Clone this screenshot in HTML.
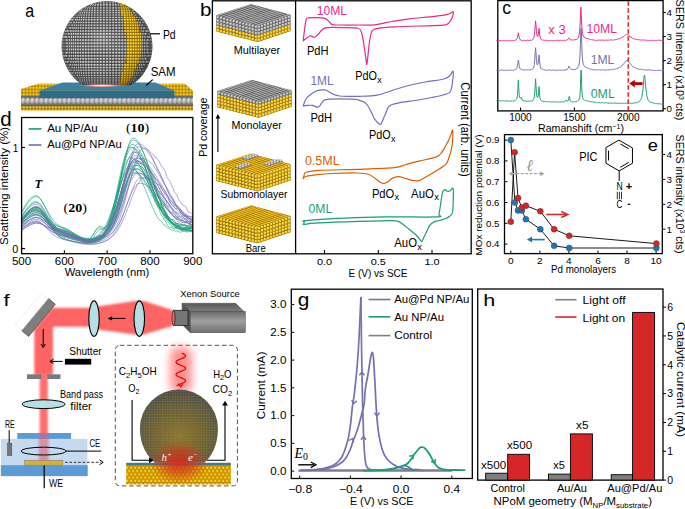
<!DOCTYPE html><html><head><meta charset="utf-8"><style>
html,body{margin:0;padding:0;background:#fff;}
svg{display:block;}
</style></head><body>
<svg width="685" height="509" viewBox="0 0 685 509">
<defs>
<radialGradient id="sphG" cx="0.42" cy="0.38" r="0.65">
<stop offset="0" stop-color="#b0b0b0"/><stop offset="0.6" stop-color="#8a8a8a"/><stop offset="1" stop-color="#5a5a5a"/></radialGradient>
<radialGradient id="atomGr" cx="0.42" cy="0.35" r="0.62"><stop offset="0" stop-color="#e2e2e2"/><stop offset="0.6" stop-color="#b0b0b0"/><stop offset="1" stop-color="#7a7a7a"/></radialGradient>
<radialGradient id="atomYr" cx="0.4" cy="0.35" r="0.6"><stop offset="0" stop-color="#fff070"/><stop offset="1" stop-color="#e0a800"/></radialGradient>
<pattern id="atomG" width="3.3" height="3.3" patternUnits="userSpaceOnUse">
<rect width="3.3" height="3.3" fill="#555"/><circle cx="1.65" cy="1.65" r="1.5" fill="url(#atomGr)"/></pattern>
<pattern id="atomY" width="3.2" height="3.2" patternUnits="userSpaceOnUse">
<rect width="3.2" height="3.2" fill="#8a6a00"/><circle cx="1.6" cy="1.6" r="1.45" fill="url(#atomYr)"/></pattern>
<radialGradient id="shade" cx="0.45" cy="0.4" r="0.62">
<stop offset="0" stop-color="#fff" stop-opacity="0.18"/><stop offset="0.55" stop-color="#000" stop-opacity="0"/><stop offset="0.85" stop-color="#000" stop-opacity="0.2"/><stop offset="1" stop-color="#000" stop-opacity="0.45"/></radialGradient>
<radialGradient id="glowPink" cx="0.5" cy="0.5" r="0.5">
<stop offset="0" stop-color="#ffffff"/><stop offset="0.4" stop-color="#ffb0b0"/><stop offset="1" stop-color="#e06060" stop-opacity="0"/></radialGradient>
<filter id="blur2" x="-50%" y="-50%" width="200%" height="200%"><feGaussianBlur stdDeviation="2"/></filter>
<filter id="blur1" x="-50%" y="-50%" width="200%" height="200%"><feGaussianBlur stdDeviation="1"/></filter>
<filter id="blur4" x="-50%" y="-50%" width="200%" height="200%"><feGaussianBlur stdDeviation="4"/></filter>
<marker id="ah" markerWidth="6" markerHeight="6" refX="5" refY="3" orient="auto" markerUnits="userSpaceOnUse"><path d="M0,0 L6,3 L0,6 Z" fill="#000"/></marker>
<marker id="ahO" markerWidth="7" markerHeight="7" refX="6" refY="3.5" orient="auto" markerUnits="userSpaceOnUse"><path d="M0,0.5 L6,3.5 L0,6.5" fill="none" stroke="#000" stroke-width="1"/></marker>
</defs>

<polygon points="21,89 38,83.8 185,83.8 193,91 193,96 21,96" fill="url(#atomY)"/>
<polygon points="21,89 38,83.8 185,83.8 193,91 193,96 21,96" fill="#f0b000" opacity="0.3"/>
<pattern id="bigG" x="21" y="96" width="4.6" height="10" patternUnits="userSpaceOnUse"><rect width="4.6" height="10" fill="#6a6a6a"/><ellipse cx="2.3" cy="5" rx="2.5" ry="3.6" fill="url(#atomGr)"/><circle cx="4.6" cy="8.6" r="0.8" fill="#c06060"/></pattern>
<rect x="21" y="96" width="172" height="10" fill="url(#bigG)"/>
<rect x="21" y="105.6" width="172" height="5" fill="url(#atomY)"/>
<rect x="21" y="105.3" width="172" height="1" fill="#5a4a20" opacity="0.6"/>
<polygon points="62.3,82.4 155,82.4 174.5,90.8 39.5,90.8" fill="#3f80a0"/>
<rect x="39.5" y="90.8" width="135" height="7.4" fill="#2f6b88"/>
<clipPath id="sphclip"><path d="M61.5,46.5 A45.5,45.5 0 0 1 152.5,46.5 C152.5,62 145,74 134,84.8 C120,86 95,86 80,84.8 C69,74 61.5,62 61.5,46.5 Z"/></clipPath>
<pattern id="atomS" x="0" y="0.5" width="3" height="3" patternUnits="userSpaceOnUse"><rect width="3" height="3" fill="#4c4c4c"/><circle cx="1.5" cy="1.35" r="1.42" fill="url(#atomGr)"/></pattern>
<pattern id="atomSY" x="0" y="0.5" width="3" height="3" patternUnits="userSpaceOnUse"><rect width="3" height="3" fill="#8a6800"/><circle cx="1.5" cy="1.35" r="1.45" fill="url(#atomYr)"/></pattern>
<g clip-path="url(#sphclip)">
<circle cx="107" cy="46.5" r="45.5" fill="#464646"/>
<g fill="url(#atomGr)"><ellipse cx="84.0" cy="85.7" rx="0.43" ry="0.66"/><ellipse cx="84.4" cy="85.7" rx="0.43" ry="0.66"/><ellipse cx="85.3" cy="85.7" rx="0.49" ry="0.66"/><ellipse cx="86.5" cy="85.7" rx="0.67" ry="0.66"/><ellipse cx="88.2" cy="85.7" rx="0.84" ry="0.66"/><ellipse cx="90.1" cy="85.7" rx="0.99" ry="0.66"/><ellipse cx="92.4" cy="85.7" rx="1.13" ry="0.66"/><ellipse cx="95.0" cy="85.7" rx="1.24" ry="0.66"/><ellipse cx="97.8" cy="85.7" rx="1.33" ry="0.66"/><ellipse cx="100.8" cy="85.7" rx="1.40" ry="0.66"/><ellipse cx="103.9" cy="85.7" rx="1.44" ry="0.66"/><ellipse cx="107.0" cy="85.7" rx="1.45" ry="0.66"/><ellipse cx="110.1" cy="85.7" rx="1.44" ry="0.66"/><ellipse cx="113.2" cy="85.7" rx="1.40" ry="0.66"/><ellipse cx="116.2" cy="85.7" rx="1.33" ry="0.66"/><ellipse cx="127.5" cy="85.7" rx="0.67" ry="0.66"/><ellipse cx="128.7" cy="85.7" rx="0.49" ry="0.66"/><ellipse cx="129.6" cy="85.7" rx="0.43" ry="0.66"/><ellipse cx="130.0" cy="85.7" rx="0.43" ry="0.66"/><ellipse cx="81.4" cy="84.0" rx="0.43" ry="0.74"/><ellipse cx="81.9" cy="84.0" rx="0.43" ry="0.74"/><ellipse cx="82.8" cy="84.0" rx="0.49" ry="0.74"/><ellipse cx="84.0" cy="84.0" rx="0.66" ry="0.74"/><ellipse cx="85.6" cy="84.0" rx="0.81" ry="0.74"/><ellipse cx="87.5" cy="84.0" rx="0.95" ry="0.74"/><ellipse cx="89.8" cy="84.0" rx="1.08" ry="0.74"/><ellipse cx="92.2" cy="84.0" rx="1.19" ry="0.74"/><ellipse cx="94.9" cy="84.0" rx="1.28" ry="0.74"/><ellipse cx="97.8" cy="84.0" rx="1.35" ry="0.74"/><ellipse cx="100.8" cy="84.0" rx="1.41" ry="0.74"/><ellipse cx="103.9" cy="84.0" rx="1.44" ry="0.74"/><ellipse cx="107.0" cy="84.0" rx="1.45" ry="0.74"/><ellipse cx="110.1" cy="84.0" rx="1.44" ry="0.74"/><ellipse cx="113.2" cy="84.0" rx="1.41" ry="0.74"/><ellipse cx="116.2" cy="84.0" rx="1.35" ry="0.74"/><ellipse cx="128.4" cy="84.0" rx="0.81" ry="0.74"/><ellipse cx="130.0" cy="84.0" rx="0.66" ry="0.74"/><ellipse cx="131.2" cy="84.0" rx="0.49" ry="0.74"/><ellipse cx="132.1" cy="84.0" rx="0.43" ry="0.74"/><ellipse cx="132.6" cy="84.0" rx="0.43" ry="0.74"/><ellipse cx="78.7" cy="82.1" rx="0.43" ry="0.81"/><ellipse cx="78.9" cy="82.1" rx="0.43" ry="0.81"/><ellipse cx="79.5" cy="82.1" rx="0.43" ry="0.81"/><ellipse cx="80.4" cy="82.1" rx="0.49" ry="0.81"/><ellipse cx="81.6" cy="82.1" rx="0.64" ry="0.81"/><ellipse cx="83.2" cy="82.1" rx="0.78" ry="0.81"/><ellipse cx="85.0" cy="82.1" rx="0.91" ry="0.81"/><ellipse cx="87.1" cy="82.1" rx="1.03" ry="0.81"/><ellipse cx="89.5" cy="82.1" rx="1.14" ry="0.81"/><ellipse cx="92.1" cy="82.1" rx="1.23" ry="0.81"/><ellipse cx="94.8" cy="82.1" rx="1.31" ry="0.81"/><ellipse cx="97.7" cy="82.1" rx="1.37" ry="0.81"/><ellipse cx="100.8" cy="82.1" rx="1.41" ry="0.81"/><ellipse cx="103.9" cy="82.1" rx="1.44" ry="0.81"/><ellipse cx="107.0" cy="82.1" rx="1.45" ry="0.81"/><ellipse cx="110.1" cy="82.1" rx="1.44" ry="0.81"/><ellipse cx="113.2" cy="82.1" rx="1.41" ry="0.81"/><ellipse cx="116.3" cy="82.1" rx="1.37" ry="0.81"/><ellipse cx="119.2" cy="82.1" rx="1.31" ry="0.81"/><ellipse cx="129.0" cy="82.1" rx="0.91" ry="0.81"/><ellipse cx="130.8" cy="82.1" rx="0.78" ry="0.81"/><ellipse cx="132.4" cy="82.1" rx="0.64" ry="0.81"/><ellipse cx="133.6" cy="82.1" rx="0.49" ry="0.81"/><ellipse cx="134.5" cy="82.1" rx="0.43" ry="0.81"/><ellipse cx="135.1" cy="82.1" rx="0.43" ry="0.81"/><ellipse cx="135.3" cy="82.1" rx="0.43" ry="0.81"/><ellipse cx="76.3" cy="80.1" rx="0.43" ry="0.88"/><ellipse cx="76.6" cy="80.1" rx="0.43" ry="0.88"/><ellipse cx="77.2" cy="80.1" rx="0.43" ry="0.88"/><ellipse cx="78.1" cy="80.1" rx="0.48" ry="0.88"/><ellipse cx="79.3" cy="80.1" rx="0.62" ry="0.88"/><ellipse cx="80.7" cy="80.1" rx="0.75" ry="0.88"/><ellipse cx="82.5" cy="80.1" rx="0.87" ry="0.88"/><ellipse cx="84.5" cy="80.1" rx="0.99" ry="0.88"/><ellipse cx="86.8" cy="80.1" rx="1.09" ry="0.88"/><ellipse cx="89.3" cy="80.1" rx="1.18" ry="0.88"/><ellipse cx="91.9" cy="80.1" rx="1.26" ry="0.88"/><ellipse cx="94.8" cy="80.1" rx="1.33" ry="0.88"/><ellipse cx="97.7" cy="80.1" rx="1.38" ry="0.88"/><ellipse cx="100.7" cy="80.1" rx="1.42" ry="0.88"/><ellipse cx="103.9" cy="80.1" rx="1.44" ry="0.88"/><ellipse cx="107.0" cy="80.1" rx="1.45" ry="0.88"/><ellipse cx="110.1" cy="80.1" rx="1.44" ry="0.88"/><ellipse cx="113.3" cy="80.1" rx="1.42" ry="0.88"/><ellipse cx="116.3" cy="80.1" rx="1.38" ry="0.88"/><ellipse cx="119.2" cy="80.1" rx="1.33" ry="0.88"/><ellipse cx="131.5" cy="80.1" rx="0.87" ry="0.88"/><ellipse cx="133.3" cy="80.1" rx="0.75" ry="0.88"/><ellipse cx="134.7" cy="80.1" rx="0.62" ry="0.88"/><ellipse cx="135.9" cy="80.1" rx="0.48" ry="0.88"/><ellipse cx="136.8" cy="80.1" rx="0.43" ry="0.88"/><ellipse cx="137.4" cy="80.1" rx="0.43" ry="0.88"/><ellipse cx="137.7" cy="80.1" rx="0.43" ry="0.88"/><ellipse cx="74.1" cy="77.9" rx="0.43" ry="0.94"/><ellipse cx="74.4" cy="77.9" rx="0.43" ry="0.94"/><ellipse cx="74.9" cy="77.9" rx="0.43" ry="0.94"/><ellipse cx="75.8" cy="77.9" rx="0.47" ry="0.94"/><ellipse cx="77.0" cy="77.9" rx="0.60" ry="0.94"/><ellipse cx="78.4" cy="77.9" rx="0.72" ry="0.94"/><ellipse cx="80.1" cy="77.9" rx="0.84" ry="0.94"/><ellipse cx="82.0" cy="77.9" rx="0.95" ry="0.94"/><ellipse cx="84.2" cy="77.9" rx="1.05" ry="0.94"/><ellipse cx="86.6" cy="77.9" rx="1.14" ry="0.94"/><ellipse cx="89.1" cy="77.9" rx="1.22" ry="0.94"/><ellipse cx="91.8" cy="77.9" rx="1.29" ry="0.94"/><ellipse cx="94.7" cy="77.9" rx="1.35" ry="0.94"/><ellipse cx="97.7" cy="77.9" rx="1.39" ry="0.94"/><ellipse cx="100.7" cy="77.9" rx="1.42" ry="0.94"/><ellipse cx="103.9" cy="77.9" rx="1.44" ry="0.94"/><ellipse cx="107.0" cy="77.9" rx="1.45" ry="0.94"/><ellipse cx="110.1" cy="77.9" rx="1.44" ry="0.94"/><ellipse cx="113.3" cy="77.9" rx="1.42" ry="0.94"/><ellipse cx="116.3" cy="77.9" rx="1.39" ry="0.94"/><ellipse cx="119.3" cy="77.9" rx="1.35" ry="0.94"/><ellipse cx="132.0" cy="77.9" rx="0.95" ry="0.94"/><ellipse cx="133.9" cy="77.9" rx="0.84" ry="0.94"/><ellipse cx="135.6" cy="77.9" rx="0.72" ry="0.94"/><ellipse cx="137.0" cy="77.9" rx="0.60" ry="0.94"/><ellipse cx="138.2" cy="77.9" rx="0.47" ry="0.94"/><ellipse cx="139.1" cy="77.9" rx="0.43" ry="0.94"/><ellipse cx="139.6" cy="77.9" rx="0.43" ry="0.94"/><ellipse cx="139.9" cy="77.9" rx="0.43" ry="0.94"/><ellipse cx="72.0" cy="75.5" rx="0.43" ry="1.00"/><ellipse cx="72.3" cy="75.5" rx="0.43" ry="1.00"/><ellipse cx="72.8" cy="75.5" rx="0.43" ry="1.00"/><ellipse cx="73.7" cy="75.5" rx="0.44" ry="1.00"/><ellipse cx="74.8" cy="75.5" rx="0.57" ry="1.00"/><ellipse cx="76.1" cy="75.5" rx="0.68" ry="1.00"/><ellipse cx="77.7" cy="75.5" rx="0.80" ry="1.00"/><ellipse cx="79.6" cy="75.5" rx="0.90" ry="1.00"/><ellipse cx="81.6" cy="75.5" rx="1.00" ry="1.00"/><ellipse cx="83.9" cy="75.5" rx="1.09" ry="1.00"/><ellipse cx="86.4" cy="75.5" rx="1.17" ry="1.00"/><ellipse cx="89.0" cy="75.5" rx="1.24" ry="1.00"/><ellipse cx="91.8" cy="75.5" rx="1.31" ry="1.00"/><ellipse cx="94.7" cy="75.5" rx="1.36" ry="1.00"/><ellipse cx="97.7" cy="75.5" rx="1.40" ry="1.00"/><ellipse cx="100.7" cy="75.5" rx="1.43" ry="1.00"/><ellipse cx="103.9" cy="75.5" rx="1.44" ry="1.00"/><ellipse cx="107.0" cy="75.5" rx="1.45" ry="1.00"/><ellipse cx="110.1" cy="75.5" rx="1.44" ry="1.00"/><ellipse cx="113.3" cy="75.5" rx="1.43" ry="1.00"/><ellipse cx="116.3" cy="75.5" rx="1.40" ry="1.00"/><ellipse cx="119.3" cy="75.5" rx="1.36" ry="1.00"/><ellipse cx="134.4" cy="75.5" rx="0.90" ry="1.00"/><ellipse cx="136.3" cy="75.5" rx="0.80" ry="1.00"/><ellipse cx="137.9" cy="75.5" rx="0.68" ry="1.00"/><ellipse cx="139.2" cy="75.5" rx="0.57" ry="1.00"/><ellipse cx="140.3" cy="75.5" rx="0.44" ry="1.00"/><ellipse cx="141.2" cy="75.5" rx="0.43" ry="1.00"/><ellipse cx="141.7" cy="75.5" rx="0.43" ry="1.00"/><ellipse cx="142.0" cy="75.5" rx="0.43" ry="1.00"/><ellipse cx="70.1" cy="73.1" rx="0.43" ry="1.06"/><ellipse cx="70.3" cy="73.1" rx="0.43" ry="1.06"/><ellipse cx="70.8" cy="73.1" rx="0.43" ry="1.06"/><ellipse cx="71.6" cy="73.1" rx="0.43" ry="1.06"/><ellipse cx="72.6" cy="73.1" rx="0.53" ry="1.06"/><ellipse cx="73.9" cy="73.1" rx="0.65" ry="1.06"/><ellipse cx="75.5" cy="73.1" rx="0.76" ry="1.06"/><ellipse cx="77.2" cy="73.1" rx="0.86" ry="1.06"/><ellipse cx="79.2" cy="73.1" rx="0.95" ry="1.06"/><ellipse cx="81.4" cy="73.1" rx="1.04" ry="1.06"/><ellipse cx="83.7" cy="73.1" rx="1.13" ry="1.06"/><ellipse cx="86.2" cy="73.1" rx="1.20" ry="1.06"/><ellipse cx="88.9" cy="73.1" rx="1.26" ry="1.06"/><ellipse cx="91.7" cy="73.1" rx="1.32" ry="1.06"/><ellipse cx="94.6" cy="73.1" rx="1.37" ry="1.06"/><ellipse cx="97.7" cy="73.1" rx="1.40" ry="1.06"/><ellipse cx="100.7" cy="73.1" rx="1.43" ry="1.06"/><ellipse cx="103.9" cy="73.1" rx="1.44" ry="1.06"/><ellipse cx="107.0" cy="73.1" rx="1.45" ry="1.06"/><ellipse cx="110.1" cy="73.1" rx="1.44" ry="1.06"/><ellipse cx="113.3" cy="73.1" rx="1.43" ry="1.06"/><ellipse cx="116.3" cy="73.1" rx="1.40" ry="1.06"/><ellipse cx="119.4" cy="73.1" rx="1.37" ry="1.06"/><ellipse cx="134.8" cy="73.1" rx="0.95" ry="1.06"/><ellipse cx="136.8" cy="73.1" rx="0.86" ry="1.06"/><ellipse cx="138.5" cy="73.1" rx="0.76" ry="1.06"/><ellipse cx="140.1" cy="73.1" rx="0.65" ry="1.06"/><ellipse cx="141.4" cy="73.1" rx="0.53" ry="1.06"/><ellipse cx="142.4" cy="73.1" rx="0.43" ry="1.06"/><ellipse cx="143.2" cy="73.1" rx="0.43" ry="1.06"/><ellipse cx="143.7" cy="73.1" rx="0.43" ry="1.06"/><ellipse cx="143.9" cy="73.1" rx="0.43" ry="1.06"/><ellipse cx="68.3" cy="70.4" rx="0.43" ry="1.11"/><ellipse cx="68.5" cy="70.4" rx="0.43" ry="1.11"/><ellipse cx="69.0" cy="70.4" rx="0.43" ry="1.11"/><ellipse cx="69.7" cy="70.4" rx="0.43" ry="1.11"/><ellipse cx="70.6" cy="70.4" rx="0.50" ry="1.11"/><ellipse cx="71.8" cy="70.4" rx="0.61" ry="1.11"/><ellipse cx="73.3" cy="70.4" rx="0.71" ry="1.11"/><ellipse cx="74.9" cy="70.4" rx="0.81" ry="1.11"/><ellipse cx="76.8" cy="70.4" rx="0.91" ry="1.11"/><ellipse cx="78.9" cy="70.4" rx="1.00" ry="1.11"/><ellipse cx="81.1" cy="70.4" rx="1.08" ry="1.11"/><ellipse cx="83.5" cy="70.4" rx="1.15" ry="1.11"/><ellipse cx="86.1" cy="70.4" rx="1.22" ry="1.11"/><ellipse cx="88.8" cy="70.4" rx="1.28" ry="1.11"/><ellipse cx="91.7" cy="70.4" rx="1.33" ry="1.11"/><ellipse cx="94.6" cy="70.4" rx="1.37" ry="1.11"/><ellipse cx="97.6" cy="70.4" rx="1.41" ry="1.11"/><ellipse cx="100.7" cy="70.4" rx="1.43" ry="1.11"/><ellipse cx="103.9" cy="70.4" rx="1.45" ry="1.11"/><ellipse cx="107.0" cy="70.4" rx="1.45" ry="1.11"/><ellipse cx="110.1" cy="70.4" rx="1.45" ry="1.11"/><ellipse cx="113.3" cy="70.4" rx="1.43" ry="1.11"/><ellipse cx="116.4" cy="70.4" rx="1.41" ry="1.11"/><ellipse cx="119.4" cy="70.4" rx="1.37" ry="1.11"/><ellipse cx="122.3" cy="70.4" rx="1.33" ry="1.11"/><ellipse cx="135.1" cy="70.4" rx="1.00" ry="1.11"/><ellipse cx="137.2" cy="70.4" rx="0.91" ry="1.11"/><ellipse cx="139.1" cy="70.4" rx="0.81" ry="1.11"/><ellipse cx="140.7" cy="70.4" rx="0.71" ry="1.11"/><ellipse cx="142.2" cy="70.4" rx="0.61" ry="1.11"/><ellipse cx="143.4" cy="70.4" rx="0.50" ry="1.11"/><ellipse cx="144.3" cy="70.4" rx="0.43" ry="1.11"/><ellipse cx="145.0" cy="70.4" rx="0.43" ry="1.11"/><ellipse cx="145.5" cy="70.4" rx="0.43" ry="1.11"/><ellipse cx="145.7" cy="70.4" rx="0.43" ry="1.11"/><ellipse cx="66.7" cy="67.7" rx="0.43" ry="1.15"/><ellipse cx="66.9" cy="67.7" rx="0.43" ry="1.15"/><ellipse cx="67.3" cy="67.7" rx="0.43" ry="1.15"/><ellipse cx="67.9" cy="67.7" rx="0.43" ry="1.15"/><ellipse cx="68.8" cy="67.7" rx="0.45" ry="1.15"/><ellipse cx="69.9" cy="67.7" rx="0.56" ry="1.15"/><ellipse cx="71.2" cy="67.7" rx="0.66" ry="1.15"/><ellipse cx="72.8" cy="67.7" rx="0.76" ry="1.15"/><ellipse cx="74.5" cy="67.7" rx="0.86" ry="1.15"/><ellipse cx="76.5" cy="67.7" rx="0.95" ry="1.15"/><ellipse cx="78.6" cy="67.7" rx="1.03" ry="1.15"/><ellipse cx="80.9" cy="67.7" rx="1.11" ry="1.15"/><ellipse cx="83.4" cy="67.7" rx="1.18" ry="1.15"/><ellipse cx="86.0" cy="67.7" rx="1.24" ry="1.15"/><ellipse cx="88.8" cy="67.7" rx="1.29" ry="1.15"/><ellipse cx="91.6" cy="67.7" rx="1.34" ry="1.15"/><ellipse cx="94.6" cy="67.7" rx="1.38" ry="1.15"/><ellipse cx="97.6" cy="67.7" rx="1.41" ry="1.15"/><ellipse cx="100.7" cy="67.7" rx="1.43" ry="1.15"/><ellipse cx="103.9" cy="67.7" rx="1.45" ry="1.15"/><ellipse cx="107.0" cy="67.7" rx="1.45" ry="1.15"/><ellipse cx="110.1" cy="67.7" rx="1.45" ry="1.15"/><ellipse cx="113.3" cy="67.7" rx="1.43" ry="1.15"/><ellipse cx="116.4" cy="67.7" rx="1.41" ry="1.15"/><ellipse cx="119.4" cy="67.7" rx="1.38" ry="1.15"/><ellipse cx="122.4" cy="67.7" rx="1.34" ry="1.15"/><ellipse cx="137.5" cy="67.7" rx="0.95" ry="1.15"/><ellipse cx="139.5" cy="67.7" rx="0.86" ry="1.15"/><ellipse cx="141.2" cy="67.7" rx="0.76" ry="1.15"/><ellipse cx="142.8" cy="67.7" rx="0.66" ry="1.15"/><ellipse cx="144.1" cy="67.7" rx="0.56" ry="1.15"/><ellipse cx="145.2" cy="67.7" rx="0.45" ry="1.15"/><ellipse cx="146.1" cy="67.7" rx="0.43" ry="1.15"/><ellipse cx="146.7" cy="67.7" rx="0.43" ry="1.15"/><ellipse cx="147.1" cy="67.7" rx="0.43" ry="1.15"/><ellipse cx="147.3" cy="67.7" rx="0.43" ry="1.15"/><ellipse cx="65.4" cy="64.9" rx="0.43" ry="1.19"/><ellipse cx="65.7" cy="64.9" rx="0.43" ry="1.19"/><ellipse cx="66.3" cy="64.9" rx="0.43" ry="1.19"/><ellipse cx="67.0" cy="64.9" rx="0.43" ry="1.19"/><ellipse cx="68.0" cy="64.9" rx="0.51" ry="1.19"/><ellipse cx="69.3" cy="64.9" rx="0.61" ry="1.19"/><ellipse cx="70.7" cy="64.9" rx="0.71" ry="1.19"/><ellipse cx="72.3" cy="64.9" rx="0.80" ry="1.19"/><ellipse cx="74.2" cy="64.9" rx="0.89" ry="1.19"/><ellipse cx="76.2" cy="64.9" rx="0.98" ry="1.19"/><ellipse cx="78.4" cy="64.9" rx="1.05" ry="1.19"/><ellipse cx="80.8" cy="64.9" rx="1.13" ry="1.19"/><ellipse cx="83.3" cy="64.9" rx="1.19" ry="1.19"/><ellipse cx="86.0" cy="64.9" rx="1.25" ry="1.19"/><ellipse cx="88.7" cy="64.9" rx="1.30" ry="1.19"/><ellipse cx="91.6" cy="64.9" rx="1.35" ry="1.19"/><ellipse cx="94.6" cy="64.9" rx="1.38" ry="1.19"/><ellipse cx="97.6" cy="64.9" rx="1.41" ry="1.19"/><ellipse cx="100.7" cy="64.9" rx="1.43" ry="1.19"/><ellipse cx="103.9" cy="64.9" rx="1.45" ry="1.19"/><ellipse cx="107.0" cy="64.9" rx="1.45" ry="1.19"/><ellipse cx="110.1" cy="64.9" rx="1.45" ry="1.19"/><ellipse cx="113.3" cy="64.9" rx="1.43" ry="1.19"/><ellipse cx="116.4" cy="64.9" rx="1.41" ry="1.19"/><ellipse cx="119.4" cy="64.9" rx="1.38" ry="1.19"/><ellipse cx="122.4" cy="64.9" rx="1.35" ry="1.19"/><ellipse cx="137.8" cy="64.9" rx="0.98" ry="1.19"/><ellipse cx="139.8" cy="64.9" rx="0.89" ry="1.19"/><ellipse cx="141.7" cy="64.9" rx="0.80" ry="1.19"/><ellipse cx="143.3" cy="64.9" rx="0.71" ry="1.19"/><ellipse cx="144.7" cy="64.9" rx="0.61" ry="1.19"/><ellipse cx="146.0" cy="64.9" rx="0.51" ry="1.19"/><ellipse cx="147.0" cy="64.9" rx="0.43" ry="1.19"/><ellipse cx="147.7" cy="64.9" rx="0.43" ry="1.19"/><ellipse cx="148.3" cy="64.9" rx="0.43" ry="1.19"/><ellipse cx="148.6" cy="64.9" rx="0.43" ry="1.19"/><ellipse cx="64.2" cy="61.9" rx="0.43" ry="1.22"/><ellipse cx="64.4" cy="61.9" rx="0.43" ry="1.22"/><ellipse cx="64.8" cy="61.9" rx="0.43" ry="1.22"/><ellipse cx="65.5" cy="61.9" rx="0.43" ry="1.22"/><ellipse cx="66.4" cy="61.9" rx="0.46" ry="1.22"/><ellipse cx="67.5" cy="61.9" rx="0.56" ry="1.22"/><ellipse cx="68.8" cy="61.9" rx="0.65" ry="1.22"/><ellipse cx="70.3" cy="61.9" rx="0.75" ry="1.22"/><ellipse cx="72.0" cy="61.9" rx="0.84" ry="1.22"/><ellipse cx="73.9" cy="61.9" rx="0.92" ry="1.22"/><ellipse cx="76.0" cy="61.9" rx="1.00" ry="1.22"/><ellipse cx="78.3" cy="61.9" rx="1.07" ry="1.22"/><ellipse cx="80.7" cy="61.9" rx="1.14" ry="1.22"/><ellipse cx="83.2" cy="61.9" rx="1.21" ry="1.22"/><ellipse cx="85.9" cy="61.9" rx="1.26" ry="1.22"/><ellipse cx="88.7" cy="61.9" rx="1.31" ry="1.22"/><ellipse cx="91.6" cy="61.9" rx="1.35" ry="1.22"/><ellipse cx="94.6" cy="61.9" rx="1.39" ry="1.22"/><ellipse cx="97.6" cy="61.9" rx="1.41" ry="1.22"/><ellipse cx="100.7" cy="61.9" rx="1.43" ry="1.22"/><ellipse cx="103.9" cy="61.9" rx="1.45" ry="1.22"/><ellipse cx="107.0" cy="61.9" rx="1.45" ry="1.22"/><ellipse cx="110.1" cy="61.9" rx="1.45" ry="1.22"/><ellipse cx="113.3" cy="61.9" rx="1.43" ry="1.22"/><ellipse cx="116.4" cy="61.9" rx="1.41" ry="1.22"/><ellipse cx="119.4" cy="61.9" rx="1.39" ry="1.22"/><ellipse cx="122.4" cy="61.9" rx="1.35" ry="1.22"/><ellipse cx="125.3" cy="61.9" rx="1.31" ry="1.22"/><ellipse cx="140.1" cy="61.9" rx="0.92" ry="1.22"/><ellipse cx="142.0" cy="61.9" rx="0.84" ry="1.22"/><ellipse cx="143.7" cy="61.9" rx="0.75" ry="1.22"/><ellipse cx="145.2" cy="61.9" rx="0.65" ry="1.22"/><ellipse cx="146.5" cy="61.9" rx="0.56" ry="1.22"/><ellipse cx="147.6" cy="61.9" rx="0.46" ry="1.22"/><ellipse cx="148.5" cy="61.9" rx="0.43" ry="1.22"/><ellipse cx="149.2" cy="61.9" rx="0.43" ry="1.22"/><ellipse cx="149.6" cy="61.9" rx="0.43" ry="1.22"/><ellipse cx="149.8" cy="61.9" rx="0.43" ry="1.22"/><ellipse cx="63.3" cy="58.9" rx="0.43" ry="1.25"/><ellipse cx="63.6" cy="58.9" rx="0.43" ry="1.25"/><ellipse cx="64.1" cy="58.9" rx="0.43" ry="1.25"/><ellipse cx="64.9" cy="58.9" rx="0.43" ry="1.25"/><ellipse cx="65.8" cy="58.9" rx="0.49" ry="1.25"/><ellipse cx="67.0" cy="58.9" rx="0.59" ry="1.25"/><ellipse cx="68.4" cy="58.9" rx="0.68" ry="1.25"/><ellipse cx="70.0" cy="58.9" rx="0.77" ry="1.25"/><ellipse cx="71.8" cy="58.9" rx="0.86" ry="1.25"/><ellipse cx="73.7" cy="58.9" rx="0.94" ry="1.25"/><ellipse cx="75.9" cy="58.9" rx="1.02" ry="1.25"/><ellipse cx="78.1" cy="58.9" rx="1.09" ry="1.25"/><ellipse cx="80.6" cy="58.9" rx="1.16" ry="1.25"/><ellipse cx="83.2" cy="58.9" rx="1.22" ry="1.25"/><ellipse cx="85.9" cy="58.9" rx="1.27" ry="1.25"/><ellipse cx="88.7" cy="58.9" rx="1.32" ry="1.25"/><ellipse cx="91.6" cy="58.9" rx="1.36" ry="1.25"/><ellipse cx="94.6" cy="58.9" rx="1.39" ry="1.25"/><ellipse cx="97.6" cy="58.9" rx="1.42" ry="1.25"/><ellipse cx="100.7" cy="58.9" rx="1.44" ry="1.25"/><ellipse cx="103.9" cy="58.9" rx="1.45" ry="1.25"/><ellipse cx="107.0" cy="58.9" rx="1.45" ry="1.25"/><ellipse cx="110.1" cy="58.9" rx="1.45" ry="1.25"/><ellipse cx="113.3" cy="58.9" rx="1.44" ry="1.25"/><ellipse cx="116.4" cy="58.9" rx="1.42" ry="1.25"/><ellipse cx="119.4" cy="58.9" rx="1.39" ry="1.25"/><ellipse cx="122.4" cy="58.9" rx="1.36" ry="1.25"/><ellipse cx="125.3" cy="58.9" rx="1.32" ry="1.25"/><ellipse cx="140.3" cy="58.9" rx="0.94" ry="1.25"/><ellipse cx="142.2" cy="58.9" rx="0.86" ry="1.25"/><ellipse cx="144.0" cy="58.9" rx="0.77" ry="1.25"/><ellipse cx="145.6" cy="58.9" rx="0.68" ry="1.25"/><ellipse cx="147.0" cy="58.9" rx="0.59" ry="1.25"/><ellipse cx="148.2" cy="58.9" rx="0.49" ry="1.25"/><ellipse cx="149.1" cy="58.9" rx="0.43" ry="1.25"/><ellipse cx="149.9" cy="58.9" rx="0.43" ry="1.25"/><ellipse cx="150.4" cy="58.9" rx="0.43" ry="1.25"/><ellipse cx="150.7" cy="58.9" rx="0.43" ry="1.25"/><ellipse cx="62.5" cy="55.9" rx="0.43" ry="1.27"/><ellipse cx="62.6" cy="55.9" rx="0.43" ry="1.27"/><ellipse cx="63.0" cy="55.9" rx="0.43" ry="1.27"/><ellipse cx="63.6" cy="55.9" rx="0.43" ry="1.27"/><ellipse cx="64.4" cy="55.9" rx="0.43" ry="1.27"/><ellipse cx="65.5" cy="55.9" rx="0.52" ry="1.27"/><ellipse cx="66.7" cy="55.9" rx="0.62" ry="1.27"/><ellipse cx="68.1" cy="55.9" rx="0.71" ry="1.27"/><ellipse cx="69.8" cy="55.9" rx="0.79" ry="1.27"/><ellipse cx="71.6" cy="55.9" rx="0.88" ry="1.27"/><ellipse cx="73.6" cy="55.9" rx="0.96" ry="1.27"/><ellipse cx="75.7" cy="55.9" rx="1.03" ry="1.27"/><ellipse cx="78.1" cy="55.9" rx="1.10" ry="1.27"/><ellipse cx="80.5" cy="55.9" rx="1.17" ry="1.27"/><ellipse cx="83.1" cy="55.9" rx="1.22" ry="1.27"/><ellipse cx="85.8" cy="55.9" rx="1.28" ry="1.27"/><ellipse cx="88.7" cy="55.9" rx="1.32" ry="1.27"/><ellipse cx="91.6" cy="55.9" rx="1.36" ry="1.27"/><ellipse cx="94.6" cy="55.9" rx="1.39" ry="1.27"/><ellipse cx="97.6" cy="55.9" rx="1.42" ry="1.27"/><ellipse cx="100.7" cy="55.9" rx="1.44" ry="1.27"/><ellipse cx="103.9" cy="55.9" rx="1.45" ry="1.27"/><ellipse cx="107.0" cy="55.9" rx="1.45" ry="1.27"/><ellipse cx="110.1" cy="55.9" rx="1.45" ry="1.27"/><ellipse cx="113.3" cy="55.9" rx="1.44" ry="1.27"/><ellipse cx="116.4" cy="55.9" rx="1.42" ry="1.27"/><ellipse cx="119.4" cy="55.9" rx="1.39" ry="1.27"/><ellipse cx="122.4" cy="55.9" rx="1.36" ry="1.27"/><ellipse cx="125.3" cy="55.9" rx="1.32" ry="1.27"/><ellipse cx="142.4" cy="55.9" rx="0.88" ry="1.27"/><ellipse cx="144.2" cy="55.9" rx="0.79" ry="1.27"/><ellipse cx="145.9" cy="55.9" rx="0.71" ry="1.27"/><ellipse cx="147.3" cy="55.9" rx="0.62" ry="1.27"/><ellipse cx="148.5" cy="55.9" rx="0.52" ry="1.27"/><ellipse cx="149.6" cy="55.9" rx="0.43" ry="1.27"/><ellipse cx="150.4" cy="55.9" rx="0.43" ry="1.27"/><ellipse cx="151.0" cy="55.9" rx="0.43" ry="1.27"/><ellipse cx="151.4" cy="55.9" rx="0.43" ry="1.27"/><ellipse cx="151.5" cy="55.9" rx="0.43" ry="1.27"/><ellipse cx="62.0" cy="52.8" rx="0.43" ry="1.29"/><ellipse cx="62.2" cy="52.8" rx="0.43" ry="1.29"/><ellipse cx="62.6" cy="52.8" rx="0.43" ry="1.29"/><ellipse cx="63.3" cy="52.8" rx="0.43" ry="1.29"/><ellipse cx="64.1" cy="52.8" rx="0.45" ry="1.29"/><ellipse cx="65.2" cy="52.8" rx="0.54" ry="1.29"/><ellipse cx="66.5" cy="52.8" rx="0.63" ry="1.29"/><ellipse cx="67.9" cy="52.8" rx="0.72" ry="1.29"/><ellipse cx="69.6" cy="52.8" rx="0.81" ry="1.29"/><ellipse cx="71.5" cy="52.8" rx="0.89" ry="1.29"/><ellipse cx="73.5" cy="52.8" rx="0.97" ry="1.29"/><ellipse cx="75.7" cy="52.8" rx="1.04" ry="1.29"/><ellipse cx="78.0" cy="52.8" rx="1.11" ry="1.29"/><ellipse cx="80.5" cy="52.8" rx="1.17" ry="1.29"/><ellipse cx="83.1" cy="52.8" rx="1.23" ry="1.29"/><ellipse cx="85.8" cy="52.8" rx="1.28" ry="1.29"/><ellipse cx="88.6" cy="52.8" rx="1.32" ry="1.29"/><ellipse cx="91.6" cy="52.8" rx="1.36" ry="1.29"/><ellipse cx="94.6" cy="52.8" rx="1.39" ry="1.29"/><ellipse cx="97.6" cy="52.8" rx="1.42" ry="1.29"/><ellipse cx="100.7" cy="52.8" rx="1.44" ry="1.29"/><ellipse cx="103.9" cy="52.8" rx="1.45" ry="1.29"/><ellipse cx="107.0" cy="52.8" rx="1.45" ry="1.29"/><ellipse cx="110.1" cy="52.8" rx="1.45" ry="1.29"/><ellipse cx="113.3" cy="52.8" rx="1.44" ry="1.29"/><ellipse cx="116.4" cy="52.8" rx="1.42" ry="1.29"/><ellipse cx="119.4" cy="52.8" rx="1.39" ry="1.29"/><ellipse cx="122.4" cy="52.8" rx="1.36" ry="1.29"/><ellipse cx="125.4" cy="52.8" rx="1.32" ry="1.29"/><ellipse cx="142.5" cy="52.8" rx="0.89" ry="1.29"/><ellipse cx="144.4" cy="52.8" rx="0.81" ry="1.29"/><ellipse cx="146.1" cy="52.8" rx="0.72" ry="1.29"/><ellipse cx="147.5" cy="52.8" rx="0.63" ry="1.29"/><ellipse cx="148.8" cy="52.8" rx="0.54" ry="1.29"/><ellipse cx="149.9" cy="52.8" rx="0.45" ry="1.29"/><ellipse cx="150.7" cy="52.8" rx="0.43" ry="1.29"/><ellipse cx="151.4" cy="52.8" rx="0.43" ry="1.29"/><ellipse cx="151.8" cy="52.8" rx="0.43" ry="1.29"/><ellipse cx="152.0" cy="52.8" rx="0.43" ry="1.29"/><ellipse cx="61.7" cy="49.6" rx="0.43" ry="1.30"/><ellipse cx="61.9" cy="49.6" rx="0.43" ry="1.30"/><ellipse cx="62.4" cy="49.6" rx="0.43" ry="1.30"/><ellipse cx="63.0" cy="49.6" rx="0.43" ry="1.30"/><ellipse cx="63.9" cy="49.6" rx="0.46" ry="1.30"/><ellipse cx="65.0" cy="49.6" rx="0.55" ry="1.30"/><ellipse cx="66.3" cy="49.6" rx="0.64" ry="1.30"/><ellipse cx="67.8" cy="49.6" rx="0.73" ry="1.30"/><ellipse cx="69.5" cy="49.6" rx="0.82" ry="1.30"/><ellipse cx="71.4" cy="49.6" rx="0.90" ry="1.30"/><ellipse cx="73.4" cy="49.6" rx="0.98" ry="1.30"/><ellipse cx="75.6" cy="49.6" rx="1.05" ry="1.30"/><ellipse cx="78.0" cy="49.6" rx="1.11" ry="1.30"/><ellipse cx="80.5" cy="49.6" rx="1.18" ry="1.30"/><ellipse cx="83.1" cy="49.6" rx="1.23" ry="1.30"/><ellipse cx="85.8" cy="49.6" rx="1.28" ry="1.30"/><ellipse cx="88.6" cy="49.6" rx="1.33" ry="1.30"/><ellipse cx="91.6" cy="49.6" rx="1.36" ry="1.30"/><ellipse cx="94.6" cy="49.6" rx="1.39" ry="1.30"/><ellipse cx="97.6" cy="49.6" rx="1.42" ry="1.30"/><ellipse cx="100.7" cy="49.6" rx="1.44" ry="1.30"/><ellipse cx="103.9" cy="49.6" rx="1.45" ry="1.30"/><ellipse cx="107.0" cy="49.6" rx="1.45" ry="1.30"/><ellipse cx="110.1" cy="49.6" rx="1.45" ry="1.30"/><ellipse cx="113.3" cy="49.6" rx="1.44" ry="1.30"/><ellipse cx="116.4" cy="49.6" rx="1.42" ry="1.30"/><ellipse cx="119.4" cy="49.6" rx="1.39" ry="1.30"/><ellipse cx="122.4" cy="49.6" rx="1.36" ry="1.30"/><ellipse cx="125.4" cy="49.6" rx="1.33" ry="1.30"/><ellipse cx="142.6" cy="49.6" rx="0.90" ry="1.30"/><ellipse cx="144.5" cy="49.6" rx="0.82" ry="1.30"/><ellipse cx="146.2" cy="49.6" rx="0.73" ry="1.30"/><ellipse cx="147.7" cy="49.6" rx="0.64" ry="1.30"/><ellipse cx="149.0" cy="49.6" rx="0.55" ry="1.30"/><ellipse cx="150.1" cy="49.6" rx="0.46" ry="1.30"/><ellipse cx="151.0" cy="49.6" rx="0.43" ry="1.30"/><ellipse cx="151.6" cy="49.6" rx="0.43" ry="1.30"/><ellipse cx="152.1" cy="49.6" rx="0.43" ry="1.30"/><ellipse cx="152.3" cy="49.6" rx="0.43" ry="1.30"/><ellipse cx="61.6" cy="46.5" rx="0.43" ry="1.30"/><ellipse cx="61.8" cy="46.5" rx="0.43" ry="1.30"/><ellipse cx="62.3" cy="46.5" rx="0.43" ry="1.30"/><ellipse cx="63.0" cy="46.5" rx="0.43" ry="1.30"/><ellipse cx="63.9" cy="46.5" rx="0.46" ry="1.30"/><ellipse cx="65.0" cy="46.5" rx="0.56" ry="1.30"/><ellipse cx="66.3" cy="46.5" rx="0.65" ry="1.30"/><ellipse cx="67.8" cy="46.5" rx="0.74" ry="1.30"/><ellipse cx="69.5" cy="46.5" rx="0.82" ry="1.30"/><ellipse cx="71.4" cy="46.5" rx="0.90" ry="1.30"/><ellipse cx="73.4" cy="46.5" rx="0.98" ry="1.30"/><ellipse cx="75.6" cy="46.5" rx="1.05" ry="1.30"/><ellipse cx="78.0" cy="46.5" rx="1.12" ry="1.30"/><ellipse cx="80.4" cy="46.5" rx="1.18" ry="1.30"/><ellipse cx="83.1" cy="46.5" rx="1.23" ry="1.30"/><ellipse cx="85.8" cy="46.5" rx="1.28" ry="1.30"/><ellipse cx="88.6" cy="46.5" rx="1.33" ry="1.30"/><ellipse cx="91.6" cy="46.5" rx="1.36" ry="1.30"/><ellipse cx="94.6" cy="46.5" rx="1.39" ry="1.30"/><ellipse cx="97.6" cy="46.5" rx="1.42" ry="1.30"/><ellipse cx="100.7" cy="46.5" rx="1.44" ry="1.30"/><ellipse cx="103.9" cy="46.5" rx="1.45" ry="1.30"/><ellipse cx="107.0" cy="46.5" rx="1.45" ry="1.30"/><ellipse cx="110.1" cy="46.5" rx="1.45" ry="1.30"/><ellipse cx="113.3" cy="46.5" rx="1.44" ry="1.30"/><ellipse cx="116.4" cy="46.5" rx="1.42" ry="1.30"/><ellipse cx="119.4" cy="46.5" rx="1.39" ry="1.30"/><ellipse cx="122.4" cy="46.5" rx="1.36" ry="1.30"/><ellipse cx="125.4" cy="46.5" rx="1.33" ry="1.30"/><ellipse cx="142.6" cy="46.5" rx="0.90" ry="1.30"/><ellipse cx="144.5" cy="46.5" rx="0.82" ry="1.30"/><ellipse cx="146.2" cy="46.5" rx="0.74" ry="1.30"/><ellipse cx="147.7" cy="46.5" rx="0.65" ry="1.30"/><ellipse cx="149.0" cy="46.5" rx="0.56" ry="1.30"/><ellipse cx="150.1" cy="46.5" rx="0.46" ry="1.30"/><ellipse cx="151.0" cy="46.5" rx="0.43" ry="1.30"/><ellipse cx="151.7" cy="46.5" rx="0.43" ry="1.30"/><ellipse cx="152.2" cy="46.5" rx="0.43" ry="1.30"/><ellipse cx="152.4" cy="46.5" rx="0.43" ry="1.30"/><ellipse cx="61.7" cy="43.4" rx="0.43" ry="1.30"/><ellipse cx="61.9" cy="43.4" rx="0.43" ry="1.30"/><ellipse cx="62.4" cy="43.4" rx="0.43" ry="1.30"/><ellipse cx="63.0" cy="43.4" rx="0.43" ry="1.30"/><ellipse cx="63.9" cy="43.4" rx="0.46" ry="1.30"/><ellipse cx="65.0" cy="43.4" rx="0.55" ry="1.30"/><ellipse cx="66.3" cy="43.4" rx="0.64" ry="1.30"/><ellipse cx="67.8" cy="43.4" rx="0.73" ry="1.30"/><ellipse cx="69.5" cy="43.4" rx="0.82" ry="1.30"/><ellipse cx="71.4" cy="43.4" rx="0.90" ry="1.30"/><ellipse cx="73.4" cy="43.4" rx="0.98" ry="1.30"/><ellipse cx="75.6" cy="43.4" rx="1.05" ry="1.30"/><ellipse cx="78.0" cy="43.4" rx="1.11" ry="1.30"/><ellipse cx="80.5" cy="43.4" rx="1.18" ry="1.30"/><ellipse cx="83.1" cy="43.4" rx="1.23" ry="1.30"/><ellipse cx="85.8" cy="43.4" rx="1.28" ry="1.30"/><ellipse cx="88.6" cy="43.4" rx="1.33" ry="1.30"/><ellipse cx="91.6" cy="43.4" rx="1.36" ry="1.30"/><ellipse cx="94.6" cy="43.4" rx="1.39" ry="1.30"/><ellipse cx="97.6" cy="43.4" rx="1.42" ry="1.30"/><ellipse cx="100.7" cy="43.4" rx="1.44" ry="1.30"/><ellipse cx="103.9" cy="43.4" rx="1.45" ry="1.30"/><ellipse cx="107.0" cy="43.4" rx="1.45" ry="1.30"/><ellipse cx="110.1" cy="43.4" rx="1.45" ry="1.30"/><ellipse cx="113.3" cy="43.4" rx="1.44" ry="1.30"/><ellipse cx="116.4" cy="43.4" rx="1.42" ry="1.30"/><ellipse cx="119.4" cy="43.4" rx="1.39" ry="1.30"/><ellipse cx="122.4" cy="43.4" rx="1.36" ry="1.30"/><ellipse cx="125.4" cy="43.4" rx="1.33" ry="1.30"/><ellipse cx="142.6" cy="43.4" rx="0.90" ry="1.30"/><ellipse cx="144.5" cy="43.4" rx="0.82" ry="1.30"/><ellipse cx="146.2" cy="43.4" rx="0.73" ry="1.30"/><ellipse cx="147.7" cy="43.4" rx="0.64" ry="1.30"/><ellipse cx="149.0" cy="43.4" rx="0.55" ry="1.30"/><ellipse cx="150.1" cy="43.4" rx="0.46" ry="1.30"/><ellipse cx="151.0" cy="43.4" rx="0.43" ry="1.30"/><ellipse cx="151.6" cy="43.4" rx="0.43" ry="1.30"/><ellipse cx="152.1" cy="43.4" rx="0.43" ry="1.30"/><ellipse cx="152.3" cy="43.4" rx="0.43" ry="1.30"/><ellipse cx="62.0" cy="40.2" rx="0.43" ry="1.29"/><ellipse cx="62.2" cy="40.2" rx="0.43" ry="1.29"/><ellipse cx="62.6" cy="40.2" rx="0.43" ry="1.29"/><ellipse cx="63.3" cy="40.2" rx="0.43" ry="1.29"/><ellipse cx="64.1" cy="40.2" rx="0.45" ry="1.29"/><ellipse cx="65.2" cy="40.2" rx="0.54" ry="1.29"/><ellipse cx="66.5" cy="40.2" rx="0.63" ry="1.29"/><ellipse cx="67.9" cy="40.2" rx="0.72" ry="1.29"/><ellipse cx="69.6" cy="40.2" rx="0.81" ry="1.29"/><ellipse cx="71.5" cy="40.2" rx="0.89" ry="1.29"/><ellipse cx="73.5" cy="40.2" rx="0.97" ry="1.29"/><ellipse cx="75.7" cy="40.2" rx="1.04" ry="1.29"/><ellipse cx="78.0" cy="40.2" rx="1.11" ry="1.29"/><ellipse cx="80.5" cy="40.2" rx="1.17" ry="1.29"/><ellipse cx="83.1" cy="40.2" rx="1.23" ry="1.29"/><ellipse cx="85.8" cy="40.2" rx="1.28" ry="1.29"/><ellipse cx="88.6" cy="40.2" rx="1.32" ry="1.29"/><ellipse cx="91.6" cy="40.2" rx="1.36" ry="1.29"/><ellipse cx="94.6" cy="40.2" rx="1.39" ry="1.29"/><ellipse cx="97.6" cy="40.2" rx="1.42" ry="1.29"/><ellipse cx="100.7" cy="40.2" rx="1.44" ry="1.29"/><ellipse cx="103.9" cy="40.2" rx="1.45" ry="1.29"/><ellipse cx="107.0" cy="40.2" rx="1.45" ry="1.29"/><ellipse cx="110.1" cy="40.2" rx="1.45" ry="1.29"/><ellipse cx="113.3" cy="40.2" rx="1.44" ry="1.29"/><ellipse cx="116.4" cy="40.2" rx="1.42" ry="1.29"/><ellipse cx="119.4" cy="40.2" rx="1.39" ry="1.29"/><ellipse cx="122.4" cy="40.2" rx="1.36" ry="1.29"/><ellipse cx="125.4" cy="40.2" rx="1.32" ry="1.29"/><ellipse cx="144.4" cy="40.2" rx="0.81" ry="1.29"/><ellipse cx="146.1" cy="40.2" rx="0.72" ry="1.29"/><ellipse cx="147.5" cy="40.2" rx="0.63" ry="1.29"/><ellipse cx="148.8" cy="40.2" rx="0.54" ry="1.29"/><ellipse cx="149.9" cy="40.2" rx="0.45" ry="1.29"/><ellipse cx="150.7" cy="40.2" rx="0.43" ry="1.29"/><ellipse cx="151.4" cy="40.2" rx="0.43" ry="1.29"/><ellipse cx="151.8" cy="40.2" rx="0.43" ry="1.29"/><ellipse cx="152.0" cy="40.2" rx="0.43" ry="1.29"/><ellipse cx="62.5" cy="37.1" rx="0.43" ry="1.27"/><ellipse cx="62.6" cy="37.1" rx="0.43" ry="1.27"/><ellipse cx="63.0" cy="37.1" rx="0.43" ry="1.27"/><ellipse cx="63.6" cy="37.1" rx="0.43" ry="1.27"/><ellipse cx="64.4" cy="37.1" rx="0.43" ry="1.27"/><ellipse cx="65.5" cy="37.1" rx="0.52" ry="1.27"/><ellipse cx="66.7" cy="37.1" rx="0.62" ry="1.27"/><ellipse cx="68.1" cy="37.1" rx="0.71" ry="1.27"/><ellipse cx="69.8" cy="37.1" rx="0.79" ry="1.27"/><ellipse cx="71.6" cy="37.1" rx="0.88" ry="1.27"/><ellipse cx="73.6" cy="37.1" rx="0.96" ry="1.27"/><ellipse cx="75.7" cy="37.1" rx="1.03" ry="1.27"/><ellipse cx="78.1" cy="37.1" rx="1.10" ry="1.27"/><ellipse cx="80.5" cy="37.1" rx="1.17" ry="1.27"/><ellipse cx="83.1" cy="37.1" rx="1.22" ry="1.27"/><ellipse cx="85.8" cy="37.1" rx="1.28" ry="1.27"/><ellipse cx="88.7" cy="37.1" rx="1.32" ry="1.27"/><ellipse cx="91.6" cy="37.1" rx="1.36" ry="1.27"/><ellipse cx="94.6" cy="37.1" rx="1.39" ry="1.27"/><ellipse cx="97.6" cy="37.1" rx="1.42" ry="1.27"/><ellipse cx="100.7" cy="37.1" rx="1.44" ry="1.27"/><ellipse cx="103.9" cy="37.1" rx="1.45" ry="1.27"/><ellipse cx="107.0" cy="37.1" rx="1.45" ry="1.27"/><ellipse cx="110.1" cy="37.1" rx="1.45" ry="1.27"/><ellipse cx="113.3" cy="37.1" rx="1.44" ry="1.27"/><ellipse cx="116.4" cy="37.1" rx="1.42" ry="1.27"/><ellipse cx="119.4" cy="37.1" rx="1.39" ry="1.27"/><ellipse cx="122.4" cy="37.1" rx="1.36" ry="1.27"/><ellipse cx="125.3" cy="37.1" rx="1.32" ry="1.27"/><ellipse cx="142.4" cy="37.1" rx="0.88" ry="1.27"/><ellipse cx="144.2" cy="37.1" rx="0.79" ry="1.27"/><ellipse cx="145.9" cy="37.1" rx="0.71" ry="1.27"/><ellipse cx="147.3" cy="37.1" rx="0.62" ry="1.27"/><ellipse cx="148.5" cy="37.1" rx="0.52" ry="1.27"/><ellipse cx="149.6" cy="37.1" rx="0.43" ry="1.27"/><ellipse cx="150.4" cy="37.1" rx="0.43" ry="1.27"/><ellipse cx="151.0" cy="37.1" rx="0.43" ry="1.27"/><ellipse cx="151.4" cy="37.1" rx="0.43" ry="1.27"/><ellipse cx="151.5" cy="37.1" rx="0.43" ry="1.27"/><ellipse cx="63.3" cy="34.1" rx="0.43" ry="1.25"/><ellipse cx="63.6" cy="34.1" rx="0.43" ry="1.25"/><ellipse cx="64.1" cy="34.1" rx="0.43" ry="1.25"/><ellipse cx="64.9" cy="34.1" rx="0.43" ry="1.25"/><ellipse cx="65.8" cy="34.1" rx="0.49" ry="1.25"/><ellipse cx="67.0" cy="34.1" rx="0.59" ry="1.25"/><ellipse cx="68.4" cy="34.1" rx="0.68" ry="1.25"/><ellipse cx="70.0" cy="34.1" rx="0.77" ry="1.25"/><ellipse cx="71.8" cy="34.1" rx="0.86" ry="1.25"/><ellipse cx="73.7" cy="34.1" rx="0.94" ry="1.25"/><ellipse cx="75.9" cy="34.1" rx="1.02" ry="1.25"/><ellipse cx="78.1" cy="34.1" rx="1.09" ry="1.25"/><ellipse cx="80.6" cy="34.1" rx="1.16" ry="1.25"/><ellipse cx="83.2" cy="34.1" rx="1.22" ry="1.25"/><ellipse cx="85.9" cy="34.1" rx="1.27" ry="1.25"/><ellipse cx="88.7" cy="34.1" rx="1.32" ry="1.25"/><ellipse cx="91.6" cy="34.1" rx="1.36" ry="1.25"/><ellipse cx="94.6" cy="34.1" rx="1.39" ry="1.25"/><ellipse cx="97.6" cy="34.1" rx="1.42" ry="1.25"/><ellipse cx="100.7" cy="34.1" rx="1.44" ry="1.25"/><ellipse cx="103.9" cy="34.1" rx="1.45" ry="1.25"/><ellipse cx="107.0" cy="34.1" rx="1.45" ry="1.25"/><ellipse cx="110.1" cy="34.1" rx="1.45" ry="1.25"/><ellipse cx="113.3" cy="34.1" rx="1.44" ry="1.25"/><ellipse cx="116.4" cy="34.1" rx="1.42" ry="1.25"/><ellipse cx="119.4" cy="34.1" rx="1.39" ry="1.25"/><ellipse cx="122.4" cy="34.1" rx="1.36" ry="1.25"/><ellipse cx="125.3" cy="34.1" rx="1.32" ry="1.25"/><ellipse cx="142.2" cy="34.1" rx="0.86" ry="1.25"/><ellipse cx="144.0" cy="34.1" rx="0.77" ry="1.25"/><ellipse cx="145.6" cy="34.1" rx="0.68" ry="1.25"/><ellipse cx="147.0" cy="34.1" rx="0.59" ry="1.25"/><ellipse cx="148.2" cy="34.1" rx="0.49" ry="1.25"/><ellipse cx="149.1" cy="34.1" rx="0.43" ry="1.25"/><ellipse cx="149.9" cy="34.1" rx="0.43" ry="1.25"/><ellipse cx="150.4" cy="34.1" rx="0.43" ry="1.25"/><ellipse cx="150.7" cy="34.1" rx="0.43" ry="1.25"/><ellipse cx="64.2" cy="31.1" rx="0.43" ry="1.22"/><ellipse cx="64.4" cy="31.1" rx="0.43" ry="1.22"/><ellipse cx="64.8" cy="31.1" rx="0.43" ry="1.22"/><ellipse cx="65.5" cy="31.1" rx="0.43" ry="1.22"/><ellipse cx="66.4" cy="31.1" rx="0.46" ry="1.22"/><ellipse cx="67.5" cy="31.1" rx="0.56" ry="1.22"/><ellipse cx="68.8" cy="31.1" rx="0.65" ry="1.22"/><ellipse cx="70.3" cy="31.1" rx="0.75" ry="1.22"/><ellipse cx="72.0" cy="31.1" rx="0.84" ry="1.22"/><ellipse cx="73.9" cy="31.1" rx="0.92" ry="1.22"/><ellipse cx="76.0" cy="31.1" rx="1.00" ry="1.22"/><ellipse cx="78.3" cy="31.1" rx="1.07" ry="1.22"/><ellipse cx="80.7" cy="31.1" rx="1.14" ry="1.22"/><ellipse cx="83.2" cy="31.1" rx="1.21" ry="1.22"/><ellipse cx="85.9" cy="31.1" rx="1.26" ry="1.22"/><ellipse cx="88.7" cy="31.1" rx="1.31" ry="1.22"/><ellipse cx="91.6" cy="31.1" rx="1.35" ry="1.22"/><ellipse cx="94.6" cy="31.1" rx="1.39" ry="1.22"/><ellipse cx="97.6" cy="31.1" rx="1.41" ry="1.22"/><ellipse cx="100.7" cy="31.1" rx="1.43" ry="1.22"/><ellipse cx="103.9" cy="31.1" rx="1.45" ry="1.22"/><ellipse cx="107.0" cy="31.1" rx="1.45" ry="1.22"/><ellipse cx="110.1" cy="31.1" rx="1.45" ry="1.22"/><ellipse cx="113.3" cy="31.1" rx="1.43" ry="1.22"/><ellipse cx="116.4" cy="31.1" rx="1.41" ry="1.22"/><ellipse cx="119.4" cy="31.1" rx="1.39" ry="1.22"/><ellipse cx="122.4" cy="31.1" rx="1.35" ry="1.22"/><ellipse cx="140.1" cy="31.1" rx="0.92" ry="1.22"/><ellipse cx="142.0" cy="31.1" rx="0.84" ry="1.22"/><ellipse cx="143.7" cy="31.1" rx="0.75" ry="1.22"/><ellipse cx="145.2" cy="31.1" rx="0.65" ry="1.22"/><ellipse cx="146.5" cy="31.1" rx="0.56" ry="1.22"/><ellipse cx="147.6" cy="31.1" rx="0.46" ry="1.22"/><ellipse cx="148.5" cy="31.1" rx="0.43" ry="1.22"/><ellipse cx="149.2" cy="31.1" rx="0.43" ry="1.22"/><ellipse cx="149.6" cy="31.1" rx="0.43" ry="1.22"/><ellipse cx="149.8" cy="31.1" rx="0.43" ry="1.22"/><ellipse cx="65.4" cy="28.1" rx="0.43" ry="1.19"/><ellipse cx="65.7" cy="28.1" rx="0.43" ry="1.19"/><ellipse cx="66.3" cy="28.1" rx="0.43" ry="1.19"/><ellipse cx="67.0" cy="28.1" rx="0.43" ry="1.19"/><ellipse cx="68.0" cy="28.1" rx="0.51" ry="1.19"/><ellipse cx="69.3" cy="28.1" rx="0.61" ry="1.19"/><ellipse cx="70.7" cy="28.1" rx="0.71" ry="1.19"/><ellipse cx="72.3" cy="28.1" rx="0.80" ry="1.19"/><ellipse cx="74.2" cy="28.1" rx="0.89" ry="1.19"/><ellipse cx="76.2" cy="28.1" rx="0.98" ry="1.19"/><ellipse cx="78.4" cy="28.1" rx="1.05" ry="1.19"/><ellipse cx="80.8" cy="28.1" rx="1.13" ry="1.19"/><ellipse cx="83.3" cy="28.1" rx="1.19" ry="1.19"/><ellipse cx="86.0" cy="28.1" rx="1.25" ry="1.19"/><ellipse cx="88.7" cy="28.1" rx="1.30" ry="1.19"/><ellipse cx="91.6" cy="28.1" rx="1.35" ry="1.19"/><ellipse cx="94.6" cy="28.1" rx="1.38" ry="1.19"/><ellipse cx="97.6" cy="28.1" rx="1.41" ry="1.19"/><ellipse cx="100.7" cy="28.1" rx="1.43" ry="1.19"/><ellipse cx="103.9" cy="28.1" rx="1.45" ry="1.19"/><ellipse cx="107.0" cy="28.1" rx="1.45" ry="1.19"/><ellipse cx="110.1" cy="28.1" rx="1.45" ry="1.19"/><ellipse cx="113.3" cy="28.1" rx="1.43" ry="1.19"/><ellipse cx="116.4" cy="28.1" rx="1.41" ry="1.19"/><ellipse cx="119.4" cy="28.1" rx="1.38" ry="1.19"/><ellipse cx="122.4" cy="28.1" rx="1.35" ry="1.19"/><ellipse cx="139.8" cy="28.1" rx="0.89" ry="1.19"/><ellipse cx="141.7" cy="28.1" rx="0.80" ry="1.19"/><ellipse cx="143.3" cy="28.1" rx="0.71" ry="1.19"/><ellipse cx="144.7" cy="28.1" rx="0.61" ry="1.19"/><ellipse cx="146.0" cy="28.1" rx="0.51" ry="1.19"/><ellipse cx="147.0" cy="28.1" rx="0.43" ry="1.19"/><ellipse cx="147.7" cy="28.1" rx="0.43" ry="1.19"/><ellipse cx="148.3" cy="28.1" rx="0.43" ry="1.19"/><ellipse cx="148.6" cy="28.1" rx="0.43" ry="1.19"/><ellipse cx="66.7" cy="25.3" rx="0.43" ry="1.15"/><ellipse cx="66.9" cy="25.3" rx="0.43" ry="1.15"/><ellipse cx="67.3" cy="25.3" rx="0.43" ry="1.15"/><ellipse cx="67.9" cy="25.3" rx="0.43" ry="1.15"/><ellipse cx="68.8" cy="25.3" rx="0.45" ry="1.15"/><ellipse cx="69.9" cy="25.3" rx="0.56" ry="1.15"/><ellipse cx="71.2" cy="25.3" rx="0.66" ry="1.15"/><ellipse cx="72.8" cy="25.3" rx="0.76" ry="1.15"/><ellipse cx="74.5" cy="25.3" rx="0.86" ry="1.15"/><ellipse cx="76.5" cy="25.3" rx="0.95" ry="1.15"/><ellipse cx="78.6" cy="25.3" rx="1.03" ry="1.15"/><ellipse cx="80.9" cy="25.3" rx="1.11" ry="1.15"/><ellipse cx="83.4" cy="25.3" rx="1.18" ry="1.15"/><ellipse cx="86.0" cy="25.3" rx="1.24" ry="1.15"/><ellipse cx="88.8" cy="25.3" rx="1.29" ry="1.15"/><ellipse cx="91.6" cy="25.3" rx="1.34" ry="1.15"/><ellipse cx="94.6" cy="25.3" rx="1.38" ry="1.15"/><ellipse cx="97.6" cy="25.3" rx="1.41" ry="1.15"/><ellipse cx="100.7" cy="25.3" rx="1.43" ry="1.15"/><ellipse cx="103.9" cy="25.3" rx="1.45" ry="1.15"/><ellipse cx="107.0" cy="25.3" rx="1.45" ry="1.15"/><ellipse cx="110.1" cy="25.3" rx="1.45" ry="1.15"/><ellipse cx="113.3" cy="25.3" rx="1.43" ry="1.15"/><ellipse cx="116.4" cy="25.3" rx="1.41" ry="1.15"/><ellipse cx="119.4" cy="25.3" rx="1.38" ry="1.15"/><ellipse cx="122.4" cy="25.3" rx="1.34" ry="1.15"/><ellipse cx="139.5" cy="25.3" rx="0.86" ry="1.15"/><ellipse cx="141.2" cy="25.3" rx="0.76" ry="1.15"/><ellipse cx="142.8" cy="25.3" rx="0.66" ry="1.15"/><ellipse cx="144.1" cy="25.3" rx="0.56" ry="1.15"/><ellipse cx="145.2" cy="25.3" rx="0.45" ry="1.15"/><ellipse cx="146.1" cy="25.3" rx="0.43" ry="1.15"/><ellipse cx="146.7" cy="25.3" rx="0.43" ry="1.15"/><ellipse cx="147.1" cy="25.3" rx="0.43" ry="1.15"/><ellipse cx="147.3" cy="25.3" rx="0.43" ry="1.15"/><ellipse cx="68.3" cy="22.6" rx="0.43" ry="1.11"/><ellipse cx="68.5" cy="22.6" rx="0.43" ry="1.11"/><ellipse cx="69.0" cy="22.6" rx="0.43" ry="1.11"/><ellipse cx="69.7" cy="22.6" rx="0.43" ry="1.11"/><ellipse cx="70.6" cy="22.6" rx="0.50" ry="1.11"/><ellipse cx="71.8" cy="22.6" rx="0.61" ry="1.11"/><ellipse cx="73.3" cy="22.6" rx="0.71" ry="1.11"/><ellipse cx="74.9" cy="22.6" rx="0.81" ry="1.11"/><ellipse cx="76.8" cy="22.6" rx="0.91" ry="1.11"/><ellipse cx="78.9" cy="22.6" rx="1.00" ry="1.11"/><ellipse cx="81.1" cy="22.6" rx="1.08" ry="1.11"/><ellipse cx="83.5" cy="22.6" rx="1.15" ry="1.11"/><ellipse cx="86.1" cy="22.6" rx="1.22" ry="1.11"/><ellipse cx="88.8" cy="22.6" rx="1.28" ry="1.11"/><ellipse cx="91.7" cy="22.6" rx="1.33" ry="1.11"/><ellipse cx="94.6" cy="22.6" rx="1.37" ry="1.11"/><ellipse cx="97.6" cy="22.6" rx="1.41" ry="1.11"/><ellipse cx="100.7" cy="22.6" rx="1.43" ry="1.11"/><ellipse cx="103.9" cy="22.6" rx="1.45" ry="1.11"/><ellipse cx="107.0" cy="22.6" rx="1.45" ry="1.11"/><ellipse cx="110.1" cy="22.6" rx="1.45" ry="1.11"/><ellipse cx="113.3" cy="22.6" rx="1.43" ry="1.11"/><ellipse cx="116.4" cy="22.6" rx="1.41" ry="1.11"/><ellipse cx="119.4" cy="22.6" rx="1.37" ry="1.11"/><ellipse cx="122.3" cy="22.6" rx="1.33" ry="1.11"/><ellipse cx="139.1" cy="22.6" rx="0.81" ry="1.11"/><ellipse cx="140.7" cy="22.6" rx="0.71" ry="1.11"/><ellipse cx="142.2" cy="22.6" rx="0.61" ry="1.11"/><ellipse cx="143.4" cy="22.6" rx="0.50" ry="1.11"/><ellipse cx="144.3" cy="22.6" rx="0.43" ry="1.11"/><ellipse cx="145.0" cy="22.6" rx="0.43" ry="1.11"/><ellipse cx="145.5" cy="22.6" rx="0.43" ry="1.11"/><ellipse cx="145.7" cy="22.6" rx="0.43" ry="1.11"/><ellipse cx="70.1" cy="19.9" rx="0.43" ry="1.06"/><ellipse cx="70.3" cy="19.9" rx="0.43" ry="1.06"/><ellipse cx="70.8" cy="19.9" rx="0.43" ry="1.06"/><ellipse cx="71.6" cy="19.9" rx="0.43" ry="1.06"/><ellipse cx="72.6" cy="19.9" rx="0.53" ry="1.06"/><ellipse cx="73.9" cy="19.9" rx="0.65" ry="1.06"/><ellipse cx="75.5" cy="19.9" rx="0.76" ry="1.06"/><ellipse cx="77.2" cy="19.9" rx="0.86" ry="1.06"/><ellipse cx="79.2" cy="19.9" rx="0.95" ry="1.06"/><ellipse cx="81.4" cy="19.9" rx="1.04" ry="1.06"/><ellipse cx="83.7" cy="19.9" rx="1.13" ry="1.06"/><ellipse cx="86.2" cy="19.9" rx="1.20" ry="1.06"/><ellipse cx="88.9" cy="19.9" rx="1.26" ry="1.06"/><ellipse cx="91.7" cy="19.9" rx="1.32" ry="1.06"/><ellipse cx="94.6" cy="19.9" rx="1.37" ry="1.06"/><ellipse cx="97.7" cy="19.9" rx="1.40" ry="1.06"/><ellipse cx="100.7" cy="19.9" rx="1.43" ry="1.06"/><ellipse cx="103.9" cy="19.9" rx="1.44" ry="1.06"/><ellipse cx="107.0" cy="19.9" rx="1.45" ry="1.06"/><ellipse cx="110.1" cy="19.9" rx="1.44" ry="1.06"/><ellipse cx="113.3" cy="19.9" rx="1.43" ry="1.06"/><ellipse cx="116.3" cy="19.9" rx="1.40" ry="1.06"/><ellipse cx="119.4" cy="19.9" rx="1.37" ry="1.06"/><ellipse cx="122.3" cy="19.9" rx="1.32" ry="1.06"/><ellipse cx="136.8" cy="19.9" rx="0.86" ry="1.06"/><ellipse cx="138.5" cy="19.9" rx="0.76" ry="1.06"/><ellipse cx="140.1" cy="19.9" rx="0.65" ry="1.06"/><ellipse cx="141.4" cy="19.9" rx="0.53" ry="1.06"/><ellipse cx="142.4" cy="19.9" rx="0.43" ry="1.06"/><ellipse cx="143.2" cy="19.9" rx="0.43" ry="1.06"/><ellipse cx="143.7" cy="19.9" rx="0.43" ry="1.06"/><ellipse cx="143.9" cy="19.9" rx="0.43" ry="1.06"/><ellipse cx="72.0" cy="17.5" rx="0.43" ry="1.00"/><ellipse cx="72.3" cy="17.5" rx="0.43" ry="1.00"/><ellipse cx="72.8" cy="17.5" rx="0.43" ry="1.00"/><ellipse cx="73.7" cy="17.5" rx="0.44" ry="1.00"/><ellipse cx="74.8" cy="17.5" rx="0.57" ry="1.00"/><ellipse cx="76.1" cy="17.5" rx="0.68" ry="1.00"/><ellipse cx="77.7" cy="17.5" rx="0.80" ry="1.00"/><ellipse cx="79.6" cy="17.5" rx="0.90" ry="1.00"/><ellipse cx="81.6" cy="17.5" rx="1.00" ry="1.00"/><ellipse cx="83.9" cy="17.5" rx="1.09" ry="1.00"/><ellipse cx="86.4" cy="17.5" rx="1.17" ry="1.00"/><ellipse cx="89.0" cy="17.5" rx="1.24" ry="1.00"/><ellipse cx="91.8" cy="17.5" rx="1.31" ry="1.00"/><ellipse cx="94.7" cy="17.5" rx="1.36" ry="1.00"/><ellipse cx="97.7" cy="17.5" rx="1.40" ry="1.00"/><ellipse cx="100.7" cy="17.5" rx="1.43" ry="1.00"/><ellipse cx="103.9" cy="17.5" rx="1.44" ry="1.00"/><ellipse cx="107.0" cy="17.5" rx="1.45" ry="1.00"/><ellipse cx="110.1" cy="17.5" rx="1.44" ry="1.00"/><ellipse cx="113.3" cy="17.5" rx="1.43" ry="1.00"/><ellipse cx="116.3" cy="17.5" rx="1.40" ry="1.00"/><ellipse cx="119.3" cy="17.5" rx="1.36" ry="1.00"/><ellipse cx="122.2" cy="17.5" rx="1.31" ry="1.00"/><ellipse cx="136.3" cy="17.5" rx="0.80" ry="1.00"/><ellipse cx="137.9" cy="17.5" rx="0.68" ry="1.00"/><ellipse cx="139.2" cy="17.5" rx="0.57" ry="1.00"/><ellipse cx="140.3" cy="17.5" rx="0.44" ry="1.00"/><ellipse cx="141.2" cy="17.5" rx="0.43" ry="1.00"/><ellipse cx="141.7" cy="17.5" rx="0.43" ry="1.00"/><ellipse cx="142.0" cy="17.5" rx="0.43" ry="1.00"/><ellipse cx="74.1" cy="15.1" rx="0.43" ry="0.94"/><ellipse cx="74.4" cy="15.1" rx="0.43" ry="0.94"/><ellipse cx="74.9" cy="15.1" rx="0.43" ry="0.94"/><ellipse cx="75.8" cy="15.1" rx="0.47" ry="0.94"/><ellipse cx="77.0" cy="15.1" rx="0.60" ry="0.94"/><ellipse cx="78.4" cy="15.1" rx="0.72" ry="0.94"/><ellipse cx="80.1" cy="15.1" rx="0.84" ry="0.94"/><ellipse cx="82.0" cy="15.1" rx="0.95" ry="0.94"/><ellipse cx="84.2" cy="15.1" rx="1.05" ry="0.94"/><ellipse cx="86.6" cy="15.1" rx="1.14" ry="0.94"/><ellipse cx="89.1" cy="15.1" rx="1.22" ry="0.94"/><ellipse cx="91.8" cy="15.1" rx="1.29" ry="0.94"/><ellipse cx="94.7" cy="15.1" rx="1.35" ry="0.94"/><ellipse cx="97.7" cy="15.1" rx="1.39" ry="0.94"/><ellipse cx="100.7" cy="15.1" rx="1.42" ry="0.94"/><ellipse cx="103.9" cy="15.1" rx="1.44" ry="0.94"/><ellipse cx="107.0" cy="15.1" rx="1.45" ry="0.94"/><ellipse cx="110.1" cy="15.1" rx="1.44" ry="0.94"/><ellipse cx="113.3" cy="15.1" rx="1.42" ry="0.94"/><ellipse cx="116.3" cy="15.1" rx="1.39" ry="0.94"/><ellipse cx="119.3" cy="15.1" rx="1.35" ry="0.94"/><ellipse cx="133.9" cy="15.1" rx="0.84" ry="0.94"/><ellipse cx="135.6" cy="15.1" rx="0.72" ry="0.94"/><ellipse cx="137.0" cy="15.1" rx="0.60" ry="0.94"/><ellipse cx="138.2" cy="15.1" rx="0.47" ry="0.94"/><ellipse cx="139.1" cy="15.1" rx="0.43" ry="0.94"/><ellipse cx="139.6" cy="15.1" rx="0.43" ry="0.94"/><ellipse cx="139.9" cy="15.1" rx="0.43" ry="0.94"/><ellipse cx="76.3" cy="12.9" rx="0.43" ry="0.88"/><ellipse cx="76.6" cy="12.9" rx="0.43" ry="0.88"/><ellipse cx="77.2" cy="12.9" rx="0.43" ry="0.88"/><ellipse cx="78.1" cy="12.9" rx="0.48" ry="0.88"/><ellipse cx="79.3" cy="12.9" rx="0.62" ry="0.88"/><ellipse cx="80.7" cy="12.9" rx="0.75" ry="0.88"/><ellipse cx="82.5" cy="12.9" rx="0.87" ry="0.88"/><ellipse cx="84.5" cy="12.9" rx="0.99" ry="0.88"/><ellipse cx="86.8" cy="12.9" rx="1.09" ry="0.88"/><ellipse cx="89.3" cy="12.9" rx="1.18" ry="0.88"/><ellipse cx="91.9" cy="12.9" rx="1.26" ry="0.88"/><ellipse cx="94.8" cy="12.9" rx="1.33" ry="0.88"/><ellipse cx="97.7" cy="12.9" rx="1.38" ry="0.88"/><ellipse cx="100.7" cy="12.9" rx="1.42" ry="0.88"/><ellipse cx="103.9" cy="12.9" rx="1.44" ry="0.88"/><ellipse cx="107.0" cy="12.9" rx="1.45" ry="0.88"/><ellipse cx="110.1" cy="12.9" rx="1.44" ry="0.88"/><ellipse cx="113.3" cy="12.9" rx="1.42" ry="0.88"/><ellipse cx="116.3" cy="12.9" rx="1.38" ry="0.88"/><ellipse cx="119.2" cy="12.9" rx="1.33" ry="0.88"/><ellipse cx="133.3" cy="12.9" rx="0.75" ry="0.88"/><ellipse cx="134.7" cy="12.9" rx="0.62" ry="0.88"/><ellipse cx="135.9" cy="12.9" rx="0.48" ry="0.88"/><ellipse cx="136.8" cy="12.9" rx="0.43" ry="0.88"/><ellipse cx="137.4" cy="12.9" rx="0.43" ry="0.88"/><ellipse cx="137.7" cy="12.9" rx="0.43" ry="0.88"/><ellipse cx="78.7" cy="10.9" rx="0.43" ry="0.81"/><ellipse cx="78.9" cy="10.9" rx="0.43" ry="0.81"/><ellipse cx="79.5" cy="10.9" rx="0.43" ry="0.81"/><ellipse cx="80.4" cy="10.9" rx="0.49" ry="0.81"/><ellipse cx="81.6" cy="10.9" rx="0.64" ry="0.81"/><ellipse cx="83.2" cy="10.9" rx="0.78" ry="0.81"/><ellipse cx="85.0" cy="10.9" rx="0.91" ry="0.81"/><ellipse cx="87.1" cy="10.9" rx="1.03" ry="0.81"/><ellipse cx="89.5" cy="10.9" rx="1.14" ry="0.81"/><ellipse cx="92.1" cy="10.9" rx="1.23" ry="0.81"/><ellipse cx="94.8" cy="10.9" rx="1.31" ry="0.81"/><ellipse cx="97.7" cy="10.9" rx="1.37" ry="0.81"/><ellipse cx="100.8" cy="10.9" rx="1.41" ry="0.81"/><ellipse cx="103.9" cy="10.9" rx="1.44" ry="0.81"/><ellipse cx="107.0" cy="10.9" rx="1.45" ry="0.81"/><ellipse cx="110.1" cy="10.9" rx="1.44" ry="0.81"/><ellipse cx="113.2" cy="10.9" rx="1.41" ry="0.81"/><ellipse cx="116.3" cy="10.9" rx="1.37" ry="0.81"/><ellipse cx="119.2" cy="10.9" rx="1.31" ry="0.81"/><ellipse cx="130.8" cy="10.9" rx="0.78" ry="0.81"/><ellipse cx="132.4" cy="10.9" rx="0.64" ry="0.81"/><ellipse cx="133.6" cy="10.9" rx="0.49" ry="0.81"/><ellipse cx="134.5" cy="10.9" rx="0.43" ry="0.81"/><ellipse cx="135.1" cy="10.9" rx="0.43" ry="0.81"/><ellipse cx="135.3" cy="10.9" rx="0.43" ry="0.81"/><ellipse cx="81.4" cy="9.0" rx="0.43" ry="0.74"/><ellipse cx="81.9" cy="9.0" rx="0.43" ry="0.74"/><ellipse cx="82.8" cy="9.0" rx="0.49" ry="0.74"/><ellipse cx="84.0" cy="9.0" rx="0.66" ry="0.74"/><ellipse cx="85.6" cy="9.0" rx="0.81" ry="0.74"/><ellipse cx="87.5" cy="9.0" rx="0.95" ry="0.74"/><ellipse cx="89.8" cy="9.0" rx="1.08" ry="0.74"/><ellipse cx="92.2" cy="9.0" rx="1.19" ry="0.74"/><ellipse cx="94.9" cy="9.0" rx="1.28" ry="0.74"/><ellipse cx="97.8" cy="9.0" rx="1.35" ry="0.74"/><ellipse cx="100.8" cy="9.0" rx="1.41" ry="0.74"/><ellipse cx="103.9" cy="9.0" rx="1.44" ry="0.74"/><ellipse cx="107.0" cy="9.0" rx="1.45" ry="0.74"/><ellipse cx="110.1" cy="9.0" rx="1.44" ry="0.74"/><ellipse cx="113.2" cy="9.0" rx="1.41" ry="0.74"/><ellipse cx="116.2" cy="9.0" rx="1.35" ry="0.74"/><ellipse cx="119.1" cy="9.0" rx="1.28" ry="0.74"/><ellipse cx="130.0" cy="9.0" rx="0.66" ry="0.74"/><ellipse cx="131.2" cy="9.0" rx="0.49" ry="0.74"/><ellipse cx="132.1" cy="9.0" rx="0.43" ry="0.74"/><ellipse cx="132.6" cy="9.0" rx="0.43" ry="0.74"/><ellipse cx="84.0" cy="7.3" rx="0.43" ry="0.66"/><ellipse cx="84.4" cy="7.3" rx="0.43" ry="0.66"/><ellipse cx="85.3" cy="7.3" rx="0.49" ry="0.66"/><ellipse cx="86.5" cy="7.3" rx="0.67" ry="0.66"/><ellipse cx="88.2" cy="7.3" rx="0.84" ry="0.66"/><ellipse cx="90.1" cy="7.3" rx="0.99" ry="0.66"/><ellipse cx="92.4" cy="7.3" rx="1.13" ry="0.66"/><ellipse cx="95.0" cy="7.3" rx="1.24" ry="0.66"/><ellipse cx="97.8" cy="7.3" rx="1.33" ry="0.66"/><ellipse cx="100.8" cy="7.3" rx="1.40" ry="0.66"/><ellipse cx="103.9" cy="7.3" rx="1.44" ry="0.66"/><ellipse cx="107.0" cy="7.3" rx="1.45" ry="0.66"/><ellipse cx="110.1" cy="7.3" rx="1.44" ry="0.66"/><ellipse cx="113.2" cy="7.3" rx="1.40" ry="0.66"/><ellipse cx="116.2" cy="7.3" rx="1.33" ry="0.66"/><ellipse cx="119.0" cy="7.3" rx="1.24" ry="0.66"/><ellipse cx="128.7" cy="7.3" rx="0.49" ry="0.66"/><ellipse cx="129.6" cy="7.3" rx="0.43" ry="0.66"/><ellipse cx="130.0" cy="7.3" rx="0.43" ry="0.66"/><ellipse cx="86.7" cy="5.8" rx="0.43" ry="0.58"/><ellipse cx="87.0" cy="5.8" rx="0.43" ry="0.58"/><ellipse cx="87.8" cy="5.8" rx="0.47" ry="0.58"/><ellipse cx="89.0" cy="5.8" rx="0.68" ry="0.58"/><ellipse cx="90.7" cy="5.8" rx="0.87" ry="0.58"/><ellipse cx="92.8" cy="5.8" rx="1.04" ry="0.58"/><ellipse cx="95.2" cy="5.8" rx="1.18" ry="0.58"/><ellipse cx="97.9" cy="5.8" rx="1.30" ry="0.58"/><ellipse cx="100.8" cy="5.8" rx="1.38" ry="0.58"/><ellipse cx="103.9" cy="5.8" rx="1.43" ry="0.58"/><ellipse cx="107.0" cy="5.8" rx="1.45" ry="0.58"/><ellipse cx="110.1" cy="5.8" rx="1.43" ry="0.58"/><ellipse cx="113.2" cy="5.8" rx="1.38" ry="0.58"/><ellipse cx="116.1" cy="5.8" rx="1.30" ry="0.58"/><ellipse cx="118.8" cy="5.8" rx="1.18" ry="0.58"/><ellipse cx="127.0" cy="5.8" rx="0.43" ry="0.58"/><ellipse cx="127.3" cy="5.8" rx="0.43" ry="0.58"/><ellipse cx="89.7" cy="4.5" rx="0.43" ry="0.50"/><ellipse cx="90.4" cy="4.5" rx="0.44" ry="0.50"/><ellipse cx="91.6" cy="4.5" rx="0.68" ry="0.50"/><ellipse cx="93.3" cy="4.5" rx="0.90" ry="0.50"/><ellipse cx="95.5" cy="4.5" rx="1.09" ry="0.50"/><ellipse cx="98.0" cy="4.5" rx="1.24" ry="0.50"/><ellipse cx="100.8" cy="4.5" rx="1.36" ry="0.50"/><ellipse cx="103.9" cy="4.5" rx="1.43" ry="0.50"/><ellipse cx="107.0" cy="4.5" rx="1.45" ry="0.50"/><ellipse cx="110.1" cy="4.5" rx="1.43" ry="0.50"/><ellipse cx="113.2" cy="4.5" rx="1.36" ry="0.50"/><ellipse cx="116.0" cy="4.5" rx="1.24" ry="0.50"/><ellipse cx="118.5" cy="4.5" rx="1.09" ry="0.50"/><ellipse cx="92.5" cy="3.4" rx="0.43" ry="0.41"/><ellipse cx="93.0" cy="3.4" rx="0.43" ry="0.41"/><ellipse cx="94.2" cy="3.4" rx="0.68" ry="0.41"/><ellipse cx="95.9" cy="3.4" rx="0.94" ry="0.41"/><ellipse cx="98.2" cy="3.4" rx="1.15" ry="0.41"/><ellipse cx="100.9" cy="3.4" rx="1.32" ry="0.41"/><ellipse cx="103.9" cy="3.4" rx="1.42" ry="0.41"/><ellipse cx="107.0" cy="3.4" rx="1.45" ry="0.41"/><ellipse cx="110.1" cy="3.4" rx="1.42" ry="0.41"/><ellipse cx="113.1" cy="3.4" rx="1.32" ry="0.41"/><ellipse cx="115.8" cy="3.4" rx="1.15" ry="0.41"/><ellipse cx="118.1" cy="3.4" rx="0.94" ry="0.41"/><ellipse cx="95.7" cy="2.5" rx="0.43" ry="0.39"/><ellipse cx="96.8" cy="2.5" rx="0.66" ry="0.39"/><ellipse cx="98.6" cy="2.5" rx="0.99" ry="0.39"/><ellipse cx="101.0" cy="2.5" rx="1.24" ry="0.39"/><ellipse cx="103.9" cy="2.5" rx="1.40" ry="0.39"/><ellipse cx="107.0" cy="2.5" rx="1.45" ry="0.39"/><ellipse cx="110.1" cy="2.5" rx="1.40" ry="0.39"/><ellipse cx="113.0" cy="2.5" rx="1.24" ry="0.39"/><ellipse cx="115.4" cy="2.5" rx="0.99" ry="0.39"/><ellipse cx="117.2" cy="2.5" rx="0.66" ry="0.39"/><ellipse cx="118.3" cy="2.5" rx="0.43" ry="0.39"/><ellipse cx="98.6" cy="1.8" rx="0.43" ry="0.39"/><ellipse cx="99.4" cy="1.8" rx="0.63" ry="0.39"/><ellipse cx="101.3" cy="1.8" rx="1.06" ry="0.39"/><ellipse cx="103.9" cy="1.8" rx="1.35" ry="0.39"/><ellipse cx="107.0" cy="1.8" rx="1.45" ry="0.39"/><ellipse cx="110.1" cy="1.8" rx="1.35" ry="0.39"/><ellipse cx="112.7" cy="1.8" rx="1.06" ry="0.39"/><ellipse cx="114.6" cy="1.8" rx="0.63" ry="0.39"/><ellipse cx="115.4" cy="1.8" rx="0.43" ry="0.39"/><ellipse cx="102.1" cy="1.3" rx="0.54" ry="0.39"/><ellipse cx="104.0" cy="1.3" rx="1.20" ry="0.39"/><ellipse cx="107.0" cy="1.3" rx="1.45" ry="0.39"/><ellipse cx="110.0" cy="1.3" rx="1.20" ry="0.39"/><ellipse cx="111.9" cy="1.3" rx="0.54" ry="0.39"/><ellipse cx="104.8" cy="1.1" rx="0.43" ry="0.39"/><ellipse cx="107.0" cy="1.1" rx="1.45" ry="0.39"/><ellipse cx="109.2" cy="1.1" rx="0.43" ry="0.39"/></g>
<clipPath id="bandclip"><path d="M118.8,3 C121.5,12 124.5,24 126.8,40 C127.5,52 125,66 121.5,75 C120.5,79 119.5,82 118.5,86 L126,86 C129,81 131,78 132.9,75 C137,68 140,62 141.5,52 C142.6,44 142.4,36 140,28 C137.5,20 133,13 125,4 Z"/></clipPath>
<path d="M118.8,3 C121.5,12 124.5,24 126.8,40 C127.5,52 125,66 121.5,75 C120.5,79 119.5,82 118.5,86 L126,86 C129,81 131,78 132.9,75 C137,68 140,62 141.5,52 C142.6,44 142.4,36 140,28 C137.5,20 133,13 125,4 Z" fill="#8a6800"/>
<g fill="url(#atomYr)"><ellipse cx="119.0" cy="85.7" rx="1.24" ry="0.66"/><ellipse cx="121.6" cy="85.7" rx="1.13" ry="0.66"/><ellipse cx="123.9" cy="85.7" rx="0.99" ry="0.66"/><ellipse cx="125.8" cy="85.7" rx="0.84" ry="0.66"/><ellipse cx="119.1" cy="84.0" rx="1.28" ry="0.74"/><ellipse cx="121.8" cy="84.0" rx="1.19" ry="0.74"/><ellipse cx="124.2" cy="84.0" rx="1.08" ry="0.74"/><ellipse cx="126.5" cy="84.0" rx="0.95" ry="0.74"/><ellipse cx="121.9" cy="82.1" rx="1.23" ry="0.81"/><ellipse cx="124.5" cy="82.1" rx="1.14" ry="0.81"/><ellipse cx="126.9" cy="82.1" rx="1.03" ry="0.81"/><ellipse cx="122.1" cy="80.1" rx="1.26" ry="0.88"/><ellipse cx="124.7" cy="80.1" rx="1.18" ry="0.88"/><ellipse cx="127.2" cy="80.1" rx="1.09" ry="0.88"/><ellipse cx="129.5" cy="80.1" rx="0.99" ry="0.88"/><ellipse cx="122.2" cy="77.9" rx="1.29" ry="0.94"/><ellipse cx="124.9" cy="77.9" rx="1.22" ry="0.94"/><ellipse cx="127.4" cy="77.9" rx="1.14" ry="0.94"/><ellipse cx="129.8" cy="77.9" rx="1.05" ry="0.94"/><ellipse cx="122.2" cy="75.5" rx="1.31" ry="1.00"/><ellipse cx="125.0" cy="75.5" rx="1.24" ry="1.00"/><ellipse cx="127.6" cy="75.5" rx="1.17" ry="1.00"/><ellipse cx="130.1" cy="75.5" rx="1.09" ry="1.00"/><ellipse cx="132.4" cy="75.5" rx="1.00" ry="1.00"/><ellipse cx="122.3" cy="73.1" rx="1.32" ry="1.06"/><ellipse cx="125.1" cy="73.1" rx="1.26" ry="1.06"/><ellipse cx="127.8" cy="73.1" rx="1.20" ry="1.06"/><ellipse cx="130.3" cy="73.1" rx="1.13" ry="1.06"/><ellipse cx="132.6" cy="73.1" rx="1.04" ry="1.06"/><ellipse cx="125.2" cy="70.4" rx="1.28" ry="1.11"/><ellipse cx="127.9" cy="70.4" rx="1.22" ry="1.11"/><ellipse cx="130.5" cy="70.4" rx="1.15" ry="1.11"/><ellipse cx="132.9" cy="70.4" rx="1.08" ry="1.11"/><ellipse cx="125.2" cy="67.7" rx="1.29" ry="1.15"/><ellipse cx="128.0" cy="67.7" rx="1.24" ry="1.15"/><ellipse cx="130.6" cy="67.7" rx="1.18" ry="1.15"/><ellipse cx="133.1" cy="67.7" rx="1.11" ry="1.15"/><ellipse cx="135.4" cy="67.7" rx="1.03" ry="1.15"/><ellipse cx="125.3" cy="64.9" rx="1.30" ry="1.19"/><ellipse cx="128.0" cy="64.9" rx="1.25" ry="1.19"/><ellipse cx="130.7" cy="64.9" rx="1.19" ry="1.19"/><ellipse cx="133.2" cy="64.9" rx="1.13" ry="1.19"/><ellipse cx="135.6" cy="64.9" rx="1.05" ry="1.19"/><ellipse cx="128.1" cy="61.9" rx="1.26" ry="1.22"/><ellipse cx="130.8" cy="61.9" rx="1.21" ry="1.22"/><ellipse cx="133.3" cy="61.9" rx="1.14" ry="1.22"/><ellipse cx="135.7" cy="61.9" rx="1.07" ry="1.22"/><ellipse cx="138.0" cy="61.9" rx="1.00" ry="1.22"/><ellipse cx="128.1" cy="58.9" rx="1.27" ry="1.25"/><ellipse cx="130.8" cy="58.9" rx="1.22" ry="1.25"/><ellipse cx="133.4" cy="58.9" rx="1.16" ry="1.25"/><ellipse cx="135.9" cy="58.9" rx="1.09" ry="1.25"/><ellipse cx="138.1" cy="58.9" rx="1.02" ry="1.25"/><ellipse cx="128.2" cy="55.9" rx="1.28" ry="1.27"/><ellipse cx="130.9" cy="55.9" rx="1.22" ry="1.27"/><ellipse cx="133.5" cy="55.9" rx="1.17" ry="1.27"/><ellipse cx="135.9" cy="55.9" rx="1.10" ry="1.27"/><ellipse cx="138.3" cy="55.9" rx="1.03" ry="1.27"/><ellipse cx="140.4" cy="55.9" rx="0.96" ry="1.27"/><ellipse cx="128.2" cy="52.8" rx="1.28" ry="1.29"/><ellipse cx="130.9" cy="52.8" rx="1.23" ry="1.29"/><ellipse cx="133.5" cy="52.8" rx="1.17" ry="1.29"/><ellipse cx="136.0" cy="52.8" rx="1.11" ry="1.29"/><ellipse cx="138.3" cy="52.8" rx="1.04" ry="1.29"/><ellipse cx="140.5" cy="52.8" rx="0.97" ry="1.29"/><ellipse cx="128.2" cy="49.6" rx="1.28" ry="1.30"/><ellipse cx="130.9" cy="49.6" rx="1.23" ry="1.30"/><ellipse cx="133.5" cy="49.6" rx="1.18" ry="1.30"/><ellipse cx="136.0" cy="49.6" rx="1.11" ry="1.30"/><ellipse cx="138.4" cy="49.6" rx="1.05" ry="1.30"/><ellipse cx="140.6" cy="49.6" rx="0.98" ry="1.30"/><ellipse cx="128.2" cy="46.5" rx="1.28" ry="1.30"/><ellipse cx="130.9" cy="46.5" rx="1.23" ry="1.30"/><ellipse cx="133.6" cy="46.5" rx="1.18" ry="1.30"/><ellipse cx="136.0" cy="46.5" rx="1.12" ry="1.30"/><ellipse cx="138.4" cy="46.5" rx="1.05" ry="1.30"/><ellipse cx="140.6" cy="46.5" rx="0.98" ry="1.30"/><ellipse cx="128.2" cy="43.4" rx="1.28" ry="1.30"/><ellipse cx="130.9" cy="43.4" rx="1.23" ry="1.30"/><ellipse cx="133.5" cy="43.4" rx="1.18" ry="1.30"/><ellipse cx="136.0" cy="43.4" rx="1.11" ry="1.30"/><ellipse cx="138.4" cy="43.4" rx="1.05" ry="1.30"/><ellipse cx="140.6" cy="43.4" rx="0.98" ry="1.30"/><ellipse cx="128.2" cy="40.2" rx="1.28" ry="1.29"/><ellipse cx="130.9" cy="40.2" rx="1.23" ry="1.29"/><ellipse cx="133.5" cy="40.2" rx="1.17" ry="1.29"/><ellipse cx="136.0" cy="40.2" rx="1.11" ry="1.29"/><ellipse cx="138.3" cy="40.2" rx="1.04" ry="1.29"/><ellipse cx="140.5" cy="40.2" rx="0.97" ry="1.29"/><ellipse cx="142.5" cy="40.2" rx="0.89" ry="1.29"/><ellipse cx="128.2" cy="37.1" rx="1.28" ry="1.27"/><ellipse cx="130.9" cy="37.1" rx="1.22" ry="1.27"/><ellipse cx="133.5" cy="37.1" rx="1.17" ry="1.27"/><ellipse cx="135.9" cy="37.1" rx="1.10" ry="1.27"/><ellipse cx="138.3" cy="37.1" rx="1.03" ry="1.27"/><ellipse cx="140.4" cy="37.1" rx="0.96" ry="1.27"/><ellipse cx="128.1" cy="34.1" rx="1.27" ry="1.25"/><ellipse cx="130.8" cy="34.1" rx="1.22" ry="1.25"/><ellipse cx="133.4" cy="34.1" rx="1.16" ry="1.25"/><ellipse cx="135.9" cy="34.1" rx="1.09" ry="1.25"/><ellipse cx="138.1" cy="34.1" rx="1.02" ry="1.25"/><ellipse cx="140.3" cy="34.1" rx="0.94" ry="1.25"/><ellipse cx="125.3" cy="31.1" rx="1.31" ry="1.22"/><ellipse cx="128.1" cy="31.1" rx="1.26" ry="1.22"/><ellipse cx="130.8" cy="31.1" rx="1.21" ry="1.22"/><ellipse cx="133.3" cy="31.1" rx="1.14" ry="1.22"/><ellipse cx="135.7" cy="31.1" rx="1.07" ry="1.22"/><ellipse cx="138.0" cy="31.1" rx="1.00" ry="1.22"/><ellipse cx="125.3" cy="28.1" rx="1.30" ry="1.19"/><ellipse cx="128.0" cy="28.1" rx="1.25" ry="1.19"/><ellipse cx="130.7" cy="28.1" rx="1.19" ry="1.19"/><ellipse cx="133.2" cy="28.1" rx="1.13" ry="1.19"/><ellipse cx="135.6" cy="28.1" rx="1.05" ry="1.19"/><ellipse cx="137.8" cy="28.1" rx="0.98" ry="1.19"/><ellipse cx="125.2" cy="25.3" rx="1.29" ry="1.15"/><ellipse cx="128.0" cy="25.3" rx="1.24" ry="1.15"/><ellipse cx="130.6" cy="25.3" rx="1.18" ry="1.15"/><ellipse cx="133.1" cy="25.3" rx="1.11" ry="1.15"/><ellipse cx="135.4" cy="25.3" rx="1.03" ry="1.15"/><ellipse cx="137.5" cy="25.3" rx="0.95" ry="1.15"/><ellipse cx="125.2" cy="22.6" rx="1.28" ry="1.11"/><ellipse cx="127.9" cy="22.6" rx="1.22" ry="1.11"/><ellipse cx="130.5" cy="22.6" rx="1.15" ry="1.11"/><ellipse cx="132.9" cy="22.6" rx="1.08" ry="1.11"/><ellipse cx="135.1" cy="22.6" rx="1.00" ry="1.11"/><ellipse cx="137.2" cy="22.6" rx="0.91" ry="1.11"/><ellipse cx="125.1" cy="19.9" rx="1.26" ry="1.06"/><ellipse cx="127.8" cy="19.9" rx="1.20" ry="1.06"/><ellipse cx="130.3" cy="19.9" rx="1.13" ry="1.06"/><ellipse cx="132.6" cy="19.9" rx="1.04" ry="1.06"/><ellipse cx="134.8" cy="19.9" rx="0.95" ry="1.06"/><ellipse cx="125.0" cy="17.5" rx="1.24" ry="1.00"/><ellipse cx="127.6" cy="17.5" rx="1.17" ry="1.00"/><ellipse cx="130.1" cy="17.5" rx="1.09" ry="1.00"/><ellipse cx="132.4" cy="17.5" rx="1.00" ry="1.00"/><ellipse cx="134.4" cy="17.5" rx="0.90" ry="1.00"/><ellipse cx="122.2" cy="15.1" rx="1.29" ry="0.94"/><ellipse cx="124.9" cy="15.1" rx="1.22" ry="0.94"/><ellipse cx="127.4" cy="15.1" rx="1.14" ry="0.94"/><ellipse cx="129.8" cy="15.1" rx="1.05" ry="0.94"/><ellipse cx="132.0" cy="15.1" rx="0.95" ry="0.94"/><ellipse cx="122.1" cy="12.9" rx="1.26" ry="0.88"/><ellipse cx="124.7" cy="12.9" rx="1.18" ry="0.88"/><ellipse cx="127.2" cy="12.9" rx="1.09" ry="0.88"/><ellipse cx="129.5" cy="12.9" rx="0.99" ry="0.88"/><ellipse cx="131.5" cy="12.9" rx="0.87" ry="0.88"/><ellipse cx="121.9" cy="10.9" rx="1.23" ry="0.81"/><ellipse cx="124.5" cy="10.9" rx="1.14" ry="0.81"/><ellipse cx="126.9" cy="10.9" rx="1.03" ry="0.81"/><ellipse cx="129.0" cy="10.9" rx="0.91" ry="0.81"/><ellipse cx="121.8" cy="9.0" rx="1.19" ry="0.74"/><ellipse cx="124.2" cy="9.0" rx="1.08" ry="0.74"/><ellipse cx="126.5" cy="9.0" rx="0.95" ry="0.74"/><ellipse cx="128.4" cy="9.0" rx="0.81" ry="0.74"/><ellipse cx="121.6" cy="7.3" rx="1.13" ry="0.66"/><ellipse cx="123.9" cy="7.3" rx="0.99" ry="0.66"/><ellipse cx="125.8" cy="7.3" rx="0.84" ry="0.66"/><ellipse cx="127.5" cy="7.3" rx="0.67" ry="0.66"/><ellipse cx="121.2" cy="5.8" rx="1.04" ry="0.58"/><ellipse cx="123.3" cy="5.8" rx="0.87" ry="0.58"/><ellipse cx="125.0" cy="5.8" rx="0.68" ry="0.58"/><ellipse cx="126.2" cy="5.8" rx="0.47" ry="0.58"/><ellipse cx="120.7" cy="4.5" rx="0.90" ry="0.50"/><ellipse cx="122.4" cy="4.5" rx="0.68" ry="0.50"/><ellipse cx="123.6" cy="4.5" rx="0.44" ry="0.50"/><ellipse cx="124.3" cy="4.5" rx="0.43" ry="0.50"/><ellipse cx="119.8" cy="3.4" rx="0.68" ry="0.41"/><ellipse cx="121.0" cy="3.4" rx="0.43" ry="0.41"/><ellipse cx="121.5" cy="3.4" rx="0.43" ry="0.41"/></g>
<circle cx="107" cy="46.5" r="45.5" fill="url(#shade)"/></g>
<ellipse cx="102" cy="85.6" rx="24" ry="1.8" fill="url(#glowPink)"/>
<text x="25.2" y="16.5" font-size="17.88" font-family='"Liberation Sans", sans-serif' text-anchor="start" fill="#000" font-weight="normal" font-style="normal" textLength="8.9" lengthAdjust="spacingAndGlyphs" >a</text>
<line x1="150.00" y1="33.80" x2="160.00" y2="33.80" stroke="#000" stroke-width="1.2" />
<text x="162.9" y="38.7" font-size="13" font-family='"Liberation Sans", sans-serif' text-anchor="start" fill="#000" font-weight="normal" font-style="normal" textLength="12.7" lengthAdjust="spacingAndGlyphs" >Pd</text>
<line x1="146.20" y1="85.50" x2="152.70" y2="79.60" stroke="#000" stroke-width="1.2" />
<text x="150.7" y="76.2" font-size="12.2" font-family='"Liberation Sans", sans-serif' text-anchor="start" fill="#000" font-weight="normal" font-style="normal" textLength="24.9" lengthAdjust="spacingAndGlyphs" >SAM</text>
<rect x="212.4" y="0.8" width="258.8" height="253" fill="none" stroke="#000" stroke-width="1.3"/>
<line x1="295.60" y1="0.80" x2="295.60" y2="253.80" stroke="#000" stroke-width="1.3" />
<text x="200.1" y="15.9" font-size="19.05" font-family='"Liberation Sans", sans-serif' text-anchor="start" fill="#000" font-weight="normal" font-style="normal" textLength="11.5" lengthAdjust="spacingAndGlyphs" >b</text>
<polygon points="216.30,15.30 257.60,25.70 257.60,28.96 216.30,18.56" fill="#555555"/>
<polygon points="257.60,25.70 290.50,14.70 290.50,17.96 257.60,28.96" fill="#555555"/>
<g fill="url(#atomGr)"><circle cx="217.9" cy="17.3" r="1.55"/><circle cx="221.1" cy="18.1" r="1.55"/><circle cx="224.2" cy="18.9" r="1.55"/><circle cx="227.4" cy="19.7" r="1.55"/><circle cx="230.6" cy="20.5" r="1.55"/><circle cx="233.8" cy="21.3" r="1.55"/><circle cx="237.0" cy="22.1" r="1.55"/><circle cx="240.1" cy="22.9" r="1.55"/><circle cx="243.3" cy="23.7" r="1.55"/><circle cx="246.5" cy="24.5" r="1.55"/><circle cx="249.7" cy="25.3" r="1.55"/><circle cx="252.8" cy="26.1" r="1.55"/><circle cx="256.0" cy="26.9" r="1.55"/><circle cx="259.1" cy="26.8" r="1.55"/><circle cx="262.1" cy="25.8" r="1.55"/><circle cx="265.1" cy="24.8" r="1.55"/><circle cx="268.1" cy="23.8" r="1.55"/><circle cx="271.1" cy="22.8" r="1.55"/><circle cx="274.1" cy="21.8" r="1.55"/><circle cx="277.0" cy="20.8" r="1.55"/><circle cx="280.0" cy="19.8" r="1.55"/><circle cx="283.0" cy="18.8" r="1.55"/><circle cx="286.0" cy="17.8" r="1.55"/><circle cx="289.0" cy="16.8" r="1.55"/></g>
<polygon points="216.30,18.56 257.60,28.96 257.60,32.22 216.30,21.82" fill="#555555"/>
<polygon points="257.60,28.96 290.50,17.96 290.50,21.22 257.60,32.22" fill="#555555"/>
<g fill="url(#atomGr)"><circle cx="217.9" cy="20.6" r="1.55"/><circle cx="221.1" cy="21.4" r="1.55"/><circle cx="224.2" cy="22.2" r="1.55"/><circle cx="227.4" cy="23.0" r="1.55"/><circle cx="230.6" cy="23.8" r="1.55"/><circle cx="233.8" cy="24.6" r="1.55"/><circle cx="237.0" cy="25.4" r="1.55"/><circle cx="240.1" cy="26.2" r="1.55"/><circle cx="243.3" cy="27.0" r="1.55"/><circle cx="246.5" cy="27.8" r="1.55"/><circle cx="249.7" cy="28.6" r="1.55"/><circle cx="252.8" cy="29.4" r="1.55"/><circle cx="256.0" cy="30.2" r="1.55"/><circle cx="259.1" cy="30.1" r="1.55"/><circle cx="262.1" cy="29.1" r="1.55"/><circle cx="265.1" cy="28.1" r="1.55"/><circle cx="268.1" cy="27.1" r="1.55"/><circle cx="271.1" cy="26.1" r="1.55"/><circle cx="274.1" cy="25.1" r="1.55"/><circle cx="277.0" cy="24.1" r="1.55"/><circle cx="280.0" cy="23.1" r="1.55"/><circle cx="283.0" cy="22.1" r="1.55"/><circle cx="286.0" cy="21.1" r="1.55"/><circle cx="289.0" cy="20.1" r="1.55"/></g>
<polygon points="216.30,21.82 257.60,32.22 257.60,35.48 216.30,25.08" fill="#555555"/>
<polygon points="257.60,32.22 290.50,21.22 290.50,24.48 257.60,35.48" fill="#555555"/>
<g fill="url(#atomGr)"><circle cx="217.9" cy="23.9" r="1.55"/><circle cx="221.1" cy="24.6" r="1.55"/><circle cx="224.2" cy="25.5" r="1.55"/><circle cx="227.4" cy="26.2" r="1.55"/><circle cx="230.6" cy="27.0" r="1.55"/><circle cx="233.8" cy="27.9" r="1.55"/><circle cx="237.0" cy="28.6" r="1.55"/><circle cx="240.1" cy="29.4" r="1.55"/><circle cx="243.3" cy="30.2" r="1.55"/><circle cx="246.5" cy="31.0" r="1.55"/><circle cx="249.7" cy="31.9" r="1.55"/><circle cx="252.8" cy="32.6" r="1.55"/><circle cx="256.0" cy="33.4" r="1.55"/><circle cx="259.1" cy="33.4" r="1.55"/><circle cx="262.1" cy="32.4" r="1.55"/><circle cx="265.1" cy="31.4" r="1.55"/><circle cx="268.1" cy="30.4" r="1.55"/><circle cx="271.1" cy="29.4" r="1.55"/><circle cx="274.1" cy="28.4" r="1.55"/><circle cx="277.0" cy="27.4" r="1.55"/><circle cx="280.0" cy="26.4" r="1.55"/><circle cx="283.0" cy="25.4" r="1.55"/><circle cx="286.0" cy="24.4" r="1.55"/><circle cx="289.0" cy="23.4" r="1.55"/></g>
<polygon points="216.30,25.08 257.60,35.48 257.60,38.74 216.30,28.34" fill="#7a5a00"/>
<polygon points="257.60,35.48 290.50,24.48 290.50,27.74 257.60,38.74" fill="#7a5a00"/>
<g fill="url(#atomYr)"><circle cx="217.9" cy="27.1" r="1.55"/><circle cx="221.1" cy="27.9" r="1.55"/><circle cx="224.2" cy="28.7" r="1.55"/><circle cx="227.4" cy="29.5" r="1.55"/><circle cx="230.6" cy="30.3" r="1.55"/><circle cx="233.8" cy="31.1" r="1.55"/><circle cx="237.0" cy="31.9" r="1.55"/><circle cx="240.1" cy="32.7" r="1.55"/><circle cx="243.3" cy="33.5" r="1.55"/><circle cx="246.5" cy="34.3" r="1.55"/><circle cx="249.7" cy="35.1" r="1.55"/><circle cx="252.8" cy="35.9" r="1.55"/><circle cx="256.0" cy="36.7" r="1.55"/><circle cx="259.1" cy="36.6" r="1.55"/><circle cx="262.1" cy="35.6" r="1.55"/><circle cx="265.1" cy="34.6" r="1.55"/><circle cx="268.1" cy="33.6" r="1.55"/><circle cx="271.1" cy="32.6" r="1.55"/><circle cx="274.1" cy="31.6" r="1.55"/><circle cx="277.0" cy="30.6" r="1.55"/><circle cx="280.0" cy="29.6" r="1.55"/><circle cx="283.0" cy="28.6" r="1.55"/><circle cx="286.0" cy="27.6" r="1.55"/><circle cx="289.0" cy="26.6" r="1.55"/></g>
<polygon points="216.30,28.34 257.60,38.74 257.60,42.00 216.30,31.60" fill="#7a5a00"/>
<polygon points="257.60,38.74 290.50,27.74 290.50,31.00 257.60,42.00" fill="#7a5a00"/>
<g fill="url(#atomYr)"><circle cx="217.9" cy="30.4" r="1.55"/><circle cx="221.1" cy="31.2" r="1.55"/><circle cx="224.2" cy="32.0" r="1.55"/><circle cx="227.4" cy="32.8" r="1.55"/><circle cx="230.6" cy="33.6" r="1.55"/><circle cx="233.8" cy="34.4" r="1.55"/><circle cx="237.0" cy="35.2" r="1.55"/><circle cx="240.1" cy="36.0" r="1.55"/><circle cx="243.3" cy="36.8" r="1.55"/><circle cx="246.5" cy="37.6" r="1.55"/><circle cx="249.7" cy="38.4" r="1.55"/><circle cx="252.8" cy="39.2" r="1.55"/><circle cx="256.0" cy="40.0" r="1.55"/><circle cx="259.1" cy="39.9" r="1.55"/><circle cx="262.1" cy="38.9" r="1.55"/><circle cx="265.1" cy="37.9" r="1.55"/><circle cx="268.1" cy="36.9" r="1.55"/><circle cx="271.1" cy="35.9" r="1.55"/><circle cx="274.1" cy="34.9" r="1.55"/><circle cx="277.0" cy="33.9" r="1.55"/><circle cx="280.0" cy="32.9" r="1.55"/><circle cx="283.0" cy="31.9" r="1.55"/><circle cx="286.0" cy="30.9" r="1.55"/><circle cx="289.0" cy="29.9" r="1.55"/></g>
<polygon points="216.30,15.30 251.20,4.30 290.50,14.70 257.60,25.70" fill="#484848"/>
<line x1="217.89" y1="15.70" x2="250.79" y2="4.70" stroke="#a8a8a8" stroke-width="1.25" stroke-linecap="round"/>
<line x1="221.07" y1="16.50" x2="253.97" y2="5.50" stroke="#a8a8a8" stroke-width="1.25" stroke-linecap="round"/>
<line x1="224.24" y1="17.30" x2="257.14" y2="6.30" stroke="#a8a8a8" stroke-width="1.25" stroke-linecap="round"/>
<line x1="227.42" y1="18.10" x2="260.32" y2="7.10" stroke="#a8a8a8" stroke-width="1.25" stroke-linecap="round"/>
<line x1="230.60" y1="18.90" x2="263.50" y2="7.90" stroke="#a8a8a8" stroke-width="1.25" stroke-linecap="round"/>
<line x1="233.77" y1="19.70" x2="266.67" y2="8.70" stroke="#a8a8a8" stroke-width="1.25" stroke-linecap="round"/>
<line x1="236.95" y1="20.50" x2="269.85" y2="9.50" stroke="#a8a8a8" stroke-width="1.25" stroke-linecap="round"/>
<line x1="240.13" y1="21.30" x2="273.03" y2="10.30" stroke="#a8a8a8" stroke-width="1.25" stroke-linecap="round"/>
<line x1="243.30" y1="22.10" x2="276.20" y2="11.10" stroke="#a8a8a8" stroke-width="1.25" stroke-linecap="round"/>
<line x1="246.48" y1="22.90" x2="279.38" y2="11.90" stroke="#a8a8a8" stroke-width="1.25" stroke-linecap="round"/>
<line x1="249.66" y1="23.70" x2="282.56" y2="12.70" stroke="#a8a8a8" stroke-width="1.25" stroke-linecap="round"/>
<line x1="252.83" y1="24.50" x2="285.73" y2="13.50" stroke="#a8a8a8" stroke-width="1.25" stroke-linecap="round"/>
<line x1="256.01" y1="25.30" x2="288.91" y2="14.30" stroke="#a8a8a8" stroke-width="1.25" stroke-linecap="round"/>
<polygon points="217.40,91.00 258.70,101.40 258.70,104.66 217.40,94.26" fill="#555555"/>
<polygon points="258.70,101.40 291.60,90.40 291.60,93.66 258.70,104.66" fill="#555555"/>
<g fill="url(#atomGr)"><circle cx="219.0" cy="93.0" r="1.55"/><circle cx="222.2" cy="93.8" r="1.55"/><circle cx="225.3" cy="94.6" r="1.55"/><circle cx="228.5" cy="95.4" r="1.55"/><circle cx="231.7" cy="96.2" r="1.55"/><circle cx="234.9" cy="97.0" r="1.55"/><circle cx="238.1" cy="97.8" r="1.55"/><circle cx="241.2" cy="98.6" r="1.55"/><circle cx="244.4" cy="99.4" r="1.55"/><circle cx="247.6" cy="100.2" r="1.55"/><circle cx="250.8" cy="101.0" r="1.55"/><circle cx="253.9" cy="101.8" r="1.55"/><circle cx="257.1" cy="102.6" r="1.55"/><circle cx="260.2" cy="102.5" r="1.55"/><circle cx="263.2" cy="101.5" r="1.55"/><circle cx="266.2" cy="100.5" r="1.55"/><circle cx="269.2" cy="99.5" r="1.55"/><circle cx="272.2" cy="98.5" r="1.55"/><circle cx="275.2" cy="97.5" r="1.55"/><circle cx="278.1" cy="96.5" r="1.55"/><circle cx="281.1" cy="95.5" r="1.55"/><circle cx="284.1" cy="94.5" r="1.55"/><circle cx="287.1" cy="93.5" r="1.55"/><circle cx="290.1" cy="92.5" r="1.55"/></g>
<polygon points="217.40,94.26 258.70,104.66 258.70,107.92 217.40,97.52" fill="#7a5a00"/>
<polygon points="258.70,104.66 291.60,93.66 291.60,96.92 258.70,107.92" fill="#7a5a00"/>
<g fill="url(#atomYr)"><circle cx="219.0" cy="96.3" r="1.55"/><circle cx="222.2" cy="97.1" r="1.55"/><circle cx="225.3" cy="97.9" r="1.55"/><circle cx="228.5" cy="98.7" r="1.55"/><circle cx="231.7" cy="99.5" r="1.55"/><circle cx="234.9" cy="100.3" r="1.55"/><circle cx="238.1" cy="101.1" r="1.55"/><circle cx="241.2" cy="101.9" r="1.55"/><circle cx="244.4" cy="102.7" r="1.55"/><circle cx="247.6" cy="103.5" r="1.55"/><circle cx="250.8" cy="104.3" r="1.55"/><circle cx="253.9" cy="105.1" r="1.55"/><circle cx="257.1" cy="105.9" r="1.55"/><circle cx="260.2" cy="105.8" r="1.55"/><circle cx="263.2" cy="104.8" r="1.55"/><circle cx="266.2" cy="103.8" r="1.55"/><circle cx="269.2" cy="102.8" r="1.55"/><circle cx="272.2" cy="101.8" r="1.55"/><circle cx="275.2" cy="100.8" r="1.55"/><circle cx="278.1" cy="99.8" r="1.55"/><circle cx="281.1" cy="98.8" r="1.55"/><circle cx="284.1" cy="97.8" r="1.55"/><circle cx="287.1" cy="96.8" r="1.55"/><circle cx="290.1" cy="95.8" r="1.55"/></g>
<polygon points="217.40,97.52 258.70,107.92 258.70,111.18 217.40,100.78" fill="#7a5a00"/>
<polygon points="258.70,107.92 291.60,96.92 291.60,100.18 258.70,111.18" fill="#7a5a00"/>
<g fill="url(#atomYr)"><circle cx="219.0" cy="99.6" r="1.55"/><circle cx="222.2" cy="100.4" r="1.55"/><circle cx="225.3" cy="101.2" r="1.55"/><circle cx="228.5" cy="102.0" r="1.55"/><circle cx="231.7" cy="102.8" r="1.55"/><circle cx="234.9" cy="103.6" r="1.55"/><circle cx="238.1" cy="104.4" r="1.55"/><circle cx="241.2" cy="105.2" r="1.55"/><circle cx="244.4" cy="106.0" r="1.55"/><circle cx="247.6" cy="106.8" r="1.55"/><circle cx="250.8" cy="107.6" r="1.55"/><circle cx="253.9" cy="108.4" r="1.55"/><circle cx="257.1" cy="109.2" r="1.55"/><circle cx="260.2" cy="109.1" r="1.55"/><circle cx="263.2" cy="108.1" r="1.55"/><circle cx="266.2" cy="107.1" r="1.55"/><circle cx="269.2" cy="106.1" r="1.55"/><circle cx="272.2" cy="105.1" r="1.55"/><circle cx="275.2" cy="104.1" r="1.55"/><circle cx="278.1" cy="103.1" r="1.55"/><circle cx="281.1" cy="102.1" r="1.55"/><circle cx="284.1" cy="101.1" r="1.55"/><circle cx="287.1" cy="100.1" r="1.55"/><circle cx="290.1" cy="99.1" r="1.55"/></g>
<polygon points="217.40,100.78 258.70,111.18 258.70,114.44 217.40,104.04" fill="#7a5a00"/>
<polygon points="258.70,111.18 291.60,100.18 291.60,103.44 258.70,114.44" fill="#7a5a00"/>
<g fill="url(#atomYr)"><circle cx="219.0" cy="102.8" r="1.55"/><circle cx="222.2" cy="103.6" r="1.55"/><circle cx="225.3" cy="104.4" r="1.55"/><circle cx="228.5" cy="105.2" r="1.55"/><circle cx="231.7" cy="106.0" r="1.55"/><circle cx="234.9" cy="106.8" r="1.55"/><circle cx="238.1" cy="107.6" r="1.55"/><circle cx="241.2" cy="108.4" r="1.55"/><circle cx="244.4" cy="109.2" r="1.55"/><circle cx="247.6" cy="110.0" r="1.55"/><circle cx="250.8" cy="110.8" r="1.55"/><circle cx="253.9" cy="111.6" r="1.55"/><circle cx="257.1" cy="112.4" r="1.55"/><circle cx="260.2" cy="112.3" r="1.55"/><circle cx="263.2" cy="111.3" r="1.55"/><circle cx="266.2" cy="110.3" r="1.55"/><circle cx="269.2" cy="109.3" r="1.55"/><circle cx="272.2" cy="108.3" r="1.55"/><circle cx="275.2" cy="107.3" r="1.55"/><circle cx="278.1" cy="106.3" r="1.55"/><circle cx="281.1" cy="105.3" r="1.55"/><circle cx="284.1" cy="104.3" r="1.55"/><circle cx="287.1" cy="103.3" r="1.55"/><circle cx="290.1" cy="102.3" r="1.55"/></g>
<polygon points="217.40,104.04 258.70,114.44 258.70,117.70 217.40,107.30" fill="#7a5a00"/>
<polygon points="258.70,114.44 291.60,103.44 291.60,106.70 258.70,117.70" fill="#7a5a00"/>
<g fill="url(#atomYr)"><circle cx="219.0" cy="106.1" r="1.55"/><circle cx="222.2" cy="106.9" r="1.55"/><circle cx="225.3" cy="107.7" r="1.55"/><circle cx="228.5" cy="108.5" r="1.55"/><circle cx="231.7" cy="109.3" r="1.55"/><circle cx="234.9" cy="110.1" r="1.55"/><circle cx="238.1" cy="110.9" r="1.55"/><circle cx="241.2" cy="111.7" r="1.55"/><circle cx="244.4" cy="112.5" r="1.55"/><circle cx="247.6" cy="113.3" r="1.55"/><circle cx="250.8" cy="114.1" r="1.55"/><circle cx="253.9" cy="114.9" r="1.55"/><circle cx="257.1" cy="115.7" r="1.55"/><circle cx="260.2" cy="115.6" r="1.55"/><circle cx="263.2" cy="114.6" r="1.55"/><circle cx="266.2" cy="113.6" r="1.55"/><circle cx="269.2" cy="112.6" r="1.55"/><circle cx="272.2" cy="111.6" r="1.55"/><circle cx="275.2" cy="110.6" r="1.55"/><circle cx="278.1" cy="109.6" r="1.55"/><circle cx="281.1" cy="108.6" r="1.55"/><circle cx="284.1" cy="107.6" r="1.55"/><circle cx="287.1" cy="106.6" r="1.55"/><circle cx="290.1" cy="105.6" r="1.55"/></g>
<polygon points="217.40,91.00 252.30,80.00 291.60,90.40 258.70,101.40" fill="#484848"/>
<line x1="218.99" y1="91.40" x2="251.89" y2="80.40" stroke="#a8a8a8" stroke-width="1.25" stroke-linecap="round"/>
<line x1="222.17" y1="92.20" x2="255.07" y2="81.20" stroke="#a8a8a8" stroke-width="1.25" stroke-linecap="round"/>
<line x1="225.34" y1="93.00" x2="258.24" y2="82.00" stroke="#a8a8a8" stroke-width="1.25" stroke-linecap="round"/>
<line x1="228.52" y1="93.80" x2="261.42" y2="82.80" stroke="#a8a8a8" stroke-width="1.25" stroke-linecap="round"/>
<line x1="231.70" y1="94.60" x2="264.60" y2="83.60" stroke="#a8a8a8" stroke-width="1.25" stroke-linecap="round"/>
<line x1="234.87" y1="95.40" x2="267.77" y2="84.40" stroke="#a8a8a8" stroke-width="1.25" stroke-linecap="round"/>
<line x1="238.05" y1="96.20" x2="270.95" y2="85.20" stroke="#a8a8a8" stroke-width="1.25" stroke-linecap="round"/>
<line x1="241.23" y1="97.00" x2="274.13" y2="86.00" stroke="#a8a8a8" stroke-width="1.25" stroke-linecap="round"/>
<line x1="244.40" y1="97.80" x2="277.30" y2="86.80" stroke="#a8a8a8" stroke-width="1.25" stroke-linecap="round"/>
<line x1="247.58" y1="98.60" x2="280.48" y2="87.60" stroke="#a8a8a8" stroke-width="1.25" stroke-linecap="round"/>
<line x1="250.76" y1="99.40" x2="283.66" y2="88.40" stroke="#a8a8a8" stroke-width="1.25" stroke-linecap="round"/>
<line x1="253.93" y1="100.20" x2="286.83" y2="89.20" stroke="#a8a8a8" stroke-width="1.25" stroke-linecap="round"/>
<line x1="257.11" y1="101.00" x2="290.01" y2="90.00" stroke="#a8a8a8" stroke-width="1.25" stroke-linecap="round"/>
<polygon points="216.30,164.80 257.60,175.20 257.60,178.46 216.30,168.06" fill="#7a5a00"/>
<polygon points="257.60,175.20 290.50,164.20 290.50,167.46 257.60,178.46" fill="#7a5a00"/>
<g fill="url(#atomYr)"><circle cx="217.9" cy="166.8" r="1.55"/><circle cx="221.1" cy="167.6" r="1.55"/><circle cx="224.2" cy="168.4" r="1.55"/><circle cx="227.4" cy="169.2" r="1.55"/><circle cx="230.6" cy="170.0" r="1.55"/><circle cx="233.8" cy="170.8" r="1.55"/><circle cx="237.0" cy="171.6" r="1.55"/><circle cx="240.1" cy="172.4" r="1.55"/><circle cx="243.3" cy="173.2" r="1.55"/><circle cx="246.5" cy="174.0" r="1.55"/><circle cx="249.7" cy="174.8" r="1.55"/><circle cx="252.8" cy="175.6" r="1.55"/><circle cx="256.0" cy="176.4" r="1.55"/><circle cx="259.1" cy="176.3" r="1.55"/><circle cx="262.1" cy="175.3" r="1.55"/><circle cx="265.1" cy="174.3" r="1.55"/><circle cx="268.1" cy="173.3" r="1.55"/><circle cx="271.1" cy="172.3" r="1.55"/><circle cx="274.1" cy="171.3" r="1.55"/><circle cx="277.0" cy="170.3" r="1.55"/><circle cx="280.0" cy="169.3" r="1.55"/><circle cx="283.0" cy="168.3" r="1.55"/><circle cx="286.0" cy="167.3" r="1.55"/><circle cx="289.0" cy="166.3" r="1.55"/></g>
<polygon points="216.30,168.06 257.60,178.46 257.60,181.72 216.30,171.32" fill="#7a5a00"/>
<polygon points="257.60,178.46 290.50,167.46 290.50,170.72 257.60,181.72" fill="#7a5a00"/>
<g fill="url(#atomYr)"><circle cx="217.9" cy="170.1" r="1.55"/><circle cx="221.1" cy="170.9" r="1.55"/><circle cx="224.2" cy="171.7" r="1.55"/><circle cx="227.4" cy="172.5" r="1.55"/><circle cx="230.6" cy="173.3" r="1.55"/><circle cx="233.8" cy="174.1" r="1.55"/><circle cx="237.0" cy="174.9" r="1.55"/><circle cx="240.1" cy="175.7" r="1.55"/><circle cx="243.3" cy="176.5" r="1.55"/><circle cx="246.5" cy="177.3" r="1.55"/><circle cx="249.7" cy="178.1" r="1.55"/><circle cx="252.8" cy="178.9" r="1.55"/><circle cx="256.0" cy="179.7" r="1.55"/><circle cx="259.1" cy="179.6" r="1.55"/><circle cx="262.1" cy="178.6" r="1.55"/><circle cx="265.1" cy="177.6" r="1.55"/><circle cx="268.1" cy="176.6" r="1.55"/><circle cx="271.1" cy="175.6" r="1.55"/><circle cx="274.1" cy="174.6" r="1.55"/><circle cx="277.0" cy="173.6" r="1.55"/><circle cx="280.0" cy="172.6" r="1.55"/><circle cx="283.0" cy="171.6" r="1.55"/><circle cx="286.0" cy="170.6" r="1.55"/><circle cx="289.0" cy="169.6" r="1.55"/></g>
<polygon points="216.30,171.32 257.60,181.72 257.60,184.98 216.30,174.58" fill="#7a5a00"/>
<polygon points="257.60,181.72 290.50,170.72 290.50,173.98 257.60,184.98" fill="#7a5a00"/>
<g fill="url(#atomYr)"><circle cx="217.9" cy="173.4" r="1.55"/><circle cx="221.1" cy="174.2" r="1.55"/><circle cx="224.2" cy="175.0" r="1.55"/><circle cx="227.4" cy="175.8" r="1.55"/><circle cx="230.6" cy="176.6" r="1.55"/><circle cx="233.8" cy="177.3" r="1.55"/><circle cx="237.0" cy="178.2" r="1.55"/><circle cx="240.1" cy="179.0" r="1.55"/><circle cx="243.3" cy="179.8" r="1.55"/><circle cx="246.5" cy="180.6" r="1.55"/><circle cx="249.7" cy="181.3" r="1.55"/><circle cx="252.8" cy="182.2" r="1.55"/><circle cx="256.0" cy="182.9" r="1.55"/><circle cx="259.1" cy="182.8" r="1.55"/><circle cx="262.1" cy="181.8" r="1.55"/><circle cx="265.1" cy="180.8" r="1.55"/><circle cx="268.1" cy="179.8" r="1.55"/><circle cx="271.1" cy="178.8" r="1.55"/><circle cx="274.1" cy="177.8" r="1.55"/><circle cx="277.0" cy="176.8" r="1.55"/><circle cx="280.0" cy="175.8" r="1.55"/><circle cx="283.0" cy="174.8" r="1.55"/><circle cx="286.0" cy="173.8" r="1.55"/><circle cx="289.0" cy="172.8" r="1.55"/></g>
<polygon points="216.30,174.58 257.60,184.98 257.60,188.24 216.30,177.84" fill="#7a5a00"/>
<polygon points="257.60,184.98 290.50,173.98 290.50,177.24 257.60,188.24" fill="#7a5a00"/>
<g fill="url(#atomYr)"><circle cx="217.9" cy="176.6" r="1.55"/><circle cx="221.1" cy="177.4" r="1.55"/><circle cx="224.2" cy="178.2" r="1.55"/><circle cx="227.4" cy="179.0" r="1.55"/><circle cx="230.6" cy="179.8" r="1.55"/><circle cx="233.8" cy="180.6" r="1.55"/><circle cx="237.0" cy="181.4" r="1.55"/><circle cx="240.1" cy="182.2" r="1.55"/><circle cx="243.3" cy="183.0" r="1.55"/><circle cx="246.5" cy="183.8" r="1.55"/><circle cx="249.7" cy="184.6" r="1.55"/><circle cx="252.8" cy="185.4" r="1.55"/><circle cx="256.0" cy="186.2" r="1.55"/><circle cx="259.1" cy="186.1" r="1.55"/><circle cx="262.1" cy="185.1" r="1.55"/><circle cx="265.1" cy="184.1" r="1.55"/><circle cx="268.1" cy="183.1" r="1.55"/><circle cx="271.1" cy="182.1" r="1.55"/><circle cx="274.1" cy="181.1" r="1.55"/><circle cx="277.0" cy="180.1" r="1.55"/><circle cx="280.0" cy="179.1" r="1.55"/><circle cx="283.0" cy="178.1" r="1.55"/><circle cx="286.0" cy="177.1" r="1.55"/><circle cx="289.0" cy="176.1" r="1.55"/></g>
<polygon points="216.30,177.84 257.60,188.24 257.60,191.50 216.30,181.10" fill="#7a5a00"/>
<polygon points="257.60,188.24 290.50,177.24 290.50,180.50 257.60,191.50" fill="#7a5a00"/>
<g fill="url(#atomYr)"><circle cx="217.9" cy="179.9" r="1.55"/><circle cx="221.1" cy="180.7" r="1.55"/><circle cx="224.2" cy="181.5" r="1.55"/><circle cx="227.4" cy="182.3" r="1.55"/><circle cx="230.6" cy="183.1" r="1.55"/><circle cx="233.8" cy="183.9" r="1.55"/><circle cx="237.0" cy="184.7" r="1.55"/><circle cx="240.1" cy="185.5" r="1.55"/><circle cx="243.3" cy="186.3" r="1.55"/><circle cx="246.5" cy="187.1" r="1.55"/><circle cx="249.7" cy="187.9" r="1.55"/><circle cx="252.8" cy="188.7" r="1.55"/><circle cx="256.0" cy="189.5" r="1.55"/><circle cx="259.1" cy="189.4" r="1.55"/><circle cx="262.1" cy="188.4" r="1.55"/><circle cx="265.1" cy="187.4" r="1.55"/><circle cx="268.1" cy="186.4" r="1.55"/><circle cx="271.1" cy="185.4" r="1.55"/><circle cx="274.1" cy="184.4" r="1.55"/><circle cx="277.0" cy="183.4" r="1.55"/><circle cx="280.0" cy="182.4" r="1.55"/><circle cx="283.0" cy="181.4" r="1.55"/><circle cx="286.0" cy="180.4" r="1.55"/><circle cx="289.0" cy="179.4" r="1.55"/></g>
<polygon points="216.30,164.80 251.20,153.80 290.50,164.20 257.60,175.20" fill="#8a6600"/>
<line x1="217.89" y1="165.20" x2="250.79" y2="154.20" stroke="#eebc20" stroke-width="1.25" stroke-linecap="round"/>
<line x1="221.07" y1="166.00" x2="253.97" y2="155.00" stroke="#eebc20" stroke-width="1.25" stroke-linecap="round"/>
<line x1="224.24" y1="166.80" x2="257.14" y2="155.80" stroke="#eebc20" stroke-width="1.25" stroke-linecap="round"/>
<line x1="227.42" y1="167.60" x2="260.32" y2="156.60" stroke="#eebc20" stroke-width="1.25" stroke-linecap="round"/>
<line x1="230.60" y1="168.40" x2="263.50" y2="157.40" stroke="#eebc20" stroke-width="1.25" stroke-linecap="round"/>
<line x1="233.77" y1="169.20" x2="266.67" y2="158.20" stroke="#eebc20" stroke-width="1.25" stroke-linecap="round"/>
<line x1="236.95" y1="170.00" x2="269.85" y2="159.00" stroke="#eebc20" stroke-width="1.25" stroke-linecap="round"/>
<line x1="240.13" y1="170.80" x2="273.03" y2="159.80" stroke="#eebc20" stroke-width="1.25" stroke-linecap="round"/>
<line x1="243.30" y1="171.60" x2="276.20" y2="160.60" stroke="#eebc20" stroke-width="1.25" stroke-linecap="round"/>
<line x1="246.48" y1="172.40" x2="279.38" y2="161.40" stroke="#eebc20" stroke-width="1.25" stroke-linecap="round"/>
<line x1="249.66" y1="173.20" x2="282.56" y2="162.20" stroke="#eebc20" stroke-width="1.25" stroke-linecap="round"/>
<line x1="252.83" y1="174.00" x2="285.73" y2="163.00" stroke="#eebc20" stroke-width="1.25" stroke-linecap="round"/>
<line x1="256.01" y1="174.80" x2="288.91" y2="163.80" stroke="#eebc20" stroke-width="1.25" stroke-linecap="round"/>
<polygon points="241.97,158.26 247.79,159.74 259.23,156.13 253.41,154.66" fill="#555"/>
<g fill="url(#atomGr)"><circle cx="244.9" cy="157.6" r="1.6"/><circle cx="247.7" cy="156.7" r="1.6"/><circle cx="250.6" cy="155.8" r="1.6"/><circle cx="253.4" cy="154.9" r="1.6"/><circle cx="247.8" cy="158.3" r="1.6"/><circle cx="250.6" cy="157.4" r="1.6"/><circle cx="253.5" cy="156.5" r="1.6"/><circle cx="256.3" cy="155.6" r="1.6"/></g>
<polygon points="234.57,167.26 240.39,168.74 251.83,165.13 246.01,163.66" fill="#555"/>
<g fill="url(#atomGr)"><circle cx="237.5" cy="166.6" r="1.6"/><circle cx="240.3" cy="165.7" r="1.6"/><circle cx="243.2" cy="164.8" r="1.6"/><circle cx="246.0" cy="163.9" r="1.6"/><circle cx="240.4" cy="167.3" r="1.6"/><circle cx="243.2" cy="166.4" r="1.6"/><circle cx="246.1" cy="165.5" r="1.6"/><circle cx="248.9" cy="164.6" r="1.6"/></g>
<polygon points="263.44,164.31 269.26,165.79 283.56,161.29 277.74,159.81" fill="#555"/>
<g fill="url(#atomGr)"><circle cx="266.3" cy="163.6" r="1.6"/><circle cx="269.2" cy="162.7" r="1.6"/><circle cx="272.0" cy="161.8" r="1.6"/><circle cx="274.9" cy="160.9" r="1.6"/><circle cx="277.8" cy="160.0" r="1.6"/><circle cx="269.2" cy="164.4" r="1.6"/><circle cx="272.1" cy="163.5" r="1.6"/><circle cx="275.0" cy="162.6" r="1.6"/><circle cx="277.8" cy="161.7" r="1.6"/><circle cx="280.7" cy="160.8" r="1.6"/></g>
<polygon points="216.30,216.60 257.60,227.00 257.60,230.26 216.30,219.86" fill="#7a5a00"/>
<polygon points="257.60,227.00 290.50,216.00 290.50,219.26 257.60,230.26" fill="#7a5a00"/>
<g fill="url(#atomYr)"><circle cx="217.9" cy="218.6" r="1.55"/><circle cx="221.1" cy="219.4" r="1.55"/><circle cx="224.2" cy="220.2" r="1.55"/><circle cx="227.4" cy="221.0" r="1.55"/><circle cx="230.6" cy="221.8" r="1.55"/><circle cx="233.8" cy="222.6" r="1.55"/><circle cx="237.0" cy="223.4" r="1.55"/><circle cx="240.1" cy="224.2" r="1.55"/><circle cx="243.3" cy="225.0" r="1.55"/><circle cx="246.5" cy="225.8" r="1.55"/><circle cx="249.7" cy="226.6" r="1.55"/><circle cx="252.8" cy="227.4" r="1.55"/><circle cx="256.0" cy="228.2" r="1.55"/><circle cx="259.1" cy="228.1" r="1.55"/><circle cx="262.1" cy="227.1" r="1.55"/><circle cx="265.1" cy="226.1" r="1.55"/><circle cx="268.1" cy="225.1" r="1.55"/><circle cx="271.1" cy="224.1" r="1.55"/><circle cx="274.1" cy="223.1" r="1.55"/><circle cx="277.0" cy="222.1" r="1.55"/><circle cx="280.0" cy="221.1" r="1.55"/><circle cx="283.0" cy="220.1" r="1.55"/><circle cx="286.0" cy="219.1" r="1.55"/><circle cx="289.0" cy="218.1" r="1.55"/></g>
<polygon points="216.30,219.86 257.60,230.26 257.60,233.52 216.30,223.12" fill="#7a5a00"/>
<polygon points="257.60,230.26 290.50,219.26 290.50,222.52 257.60,233.52" fill="#7a5a00"/>
<g fill="url(#atomYr)"><circle cx="217.9" cy="221.9" r="1.55"/><circle cx="221.1" cy="222.7" r="1.55"/><circle cx="224.2" cy="223.5" r="1.55"/><circle cx="227.4" cy="224.3" r="1.55"/><circle cx="230.6" cy="225.1" r="1.55"/><circle cx="233.8" cy="225.9" r="1.55"/><circle cx="237.0" cy="226.7" r="1.55"/><circle cx="240.1" cy="227.5" r="1.55"/><circle cx="243.3" cy="228.3" r="1.55"/><circle cx="246.5" cy="229.1" r="1.55"/><circle cx="249.7" cy="229.9" r="1.55"/><circle cx="252.8" cy="230.7" r="1.55"/><circle cx="256.0" cy="231.5" r="1.55"/><circle cx="259.1" cy="231.4" r="1.55"/><circle cx="262.1" cy="230.4" r="1.55"/><circle cx="265.1" cy="229.4" r="1.55"/><circle cx="268.1" cy="228.4" r="1.55"/><circle cx="271.1" cy="227.4" r="1.55"/><circle cx="274.1" cy="226.4" r="1.55"/><circle cx="277.0" cy="225.4" r="1.55"/><circle cx="280.0" cy="224.4" r="1.55"/><circle cx="283.0" cy="223.4" r="1.55"/><circle cx="286.0" cy="222.4" r="1.55"/><circle cx="289.0" cy="221.4" r="1.55"/></g>
<polygon points="216.30,223.12 257.60,233.52 257.60,236.78 216.30,226.38" fill="#7a5a00"/>
<polygon points="257.60,233.52 290.50,222.52 290.50,225.78 257.60,236.78" fill="#7a5a00"/>
<g fill="url(#atomYr)"><circle cx="217.9" cy="225.2" r="1.55"/><circle cx="221.1" cy="226.0" r="1.55"/><circle cx="224.2" cy="226.8" r="1.55"/><circle cx="227.4" cy="227.6" r="1.55"/><circle cx="230.6" cy="228.4" r="1.55"/><circle cx="233.8" cy="229.2" r="1.55"/><circle cx="237.0" cy="230.0" r="1.55"/><circle cx="240.1" cy="230.8" r="1.55"/><circle cx="243.3" cy="231.6" r="1.55"/><circle cx="246.5" cy="232.4" r="1.55"/><circle cx="249.7" cy="233.2" r="1.55"/><circle cx="252.8" cy="234.0" r="1.55"/><circle cx="256.0" cy="234.8" r="1.55"/><circle cx="259.1" cy="234.7" r="1.55"/><circle cx="262.1" cy="233.7" r="1.55"/><circle cx="265.1" cy="232.7" r="1.55"/><circle cx="268.1" cy="231.7" r="1.55"/><circle cx="271.1" cy="230.7" r="1.55"/><circle cx="274.1" cy="229.7" r="1.55"/><circle cx="277.0" cy="228.7" r="1.55"/><circle cx="280.0" cy="227.7" r="1.55"/><circle cx="283.0" cy="226.7" r="1.55"/><circle cx="286.0" cy="225.7" r="1.55"/><circle cx="289.0" cy="224.7" r="1.55"/></g>
<polygon points="216.30,226.38 257.60,236.78 257.60,240.04 216.30,229.64" fill="#7a5a00"/>
<polygon points="257.60,236.78 290.50,225.78 290.50,229.04 257.60,240.04" fill="#7a5a00"/>
<g fill="url(#atomYr)"><circle cx="217.9" cy="228.4" r="1.55"/><circle cx="221.1" cy="229.2" r="1.55"/><circle cx="224.2" cy="230.0" r="1.55"/><circle cx="227.4" cy="230.8" r="1.55"/><circle cx="230.6" cy="231.6" r="1.55"/><circle cx="233.8" cy="232.4" r="1.55"/><circle cx="237.0" cy="233.2" r="1.55"/><circle cx="240.1" cy="234.0" r="1.55"/><circle cx="243.3" cy="234.8" r="1.55"/><circle cx="246.5" cy="235.6" r="1.55"/><circle cx="249.7" cy="236.4" r="1.55"/><circle cx="252.8" cy="237.2" r="1.55"/><circle cx="256.0" cy="238.0" r="1.55"/><circle cx="259.1" cy="237.9" r="1.55"/><circle cx="262.1" cy="236.9" r="1.55"/><circle cx="265.1" cy="235.9" r="1.55"/><circle cx="268.1" cy="234.9" r="1.55"/><circle cx="271.1" cy="233.9" r="1.55"/><circle cx="274.1" cy="232.9" r="1.55"/><circle cx="277.0" cy="231.9" r="1.55"/><circle cx="280.0" cy="230.9" r="1.55"/><circle cx="283.0" cy="229.9" r="1.55"/><circle cx="286.0" cy="228.9" r="1.55"/><circle cx="289.0" cy="227.9" r="1.55"/></g>
<polygon points="216.30,229.64 257.60,240.04 257.60,243.30 216.30,232.90" fill="#7a5a00"/>
<polygon points="257.60,240.04 290.50,229.04 290.50,232.30 257.60,243.30" fill="#7a5a00"/>
<g fill="url(#atomYr)"><circle cx="217.9" cy="231.7" r="1.55"/><circle cx="221.1" cy="232.5" r="1.55"/><circle cx="224.2" cy="233.3" r="1.55"/><circle cx="227.4" cy="234.1" r="1.55"/><circle cx="230.6" cy="234.9" r="1.55"/><circle cx="233.8" cy="235.7" r="1.55"/><circle cx="237.0" cy="236.5" r="1.55"/><circle cx="240.1" cy="237.3" r="1.55"/><circle cx="243.3" cy="238.1" r="1.55"/><circle cx="246.5" cy="238.9" r="1.55"/><circle cx="249.7" cy="239.7" r="1.55"/><circle cx="252.8" cy="240.5" r="1.55"/><circle cx="256.0" cy="241.3" r="1.55"/><circle cx="259.1" cy="241.2" r="1.55"/><circle cx="262.1" cy="240.2" r="1.55"/><circle cx="265.1" cy="239.2" r="1.55"/><circle cx="268.1" cy="238.2" r="1.55"/><circle cx="271.1" cy="237.2" r="1.55"/><circle cx="274.1" cy="236.2" r="1.55"/><circle cx="277.0" cy="235.2" r="1.55"/><circle cx="280.0" cy="234.2" r="1.55"/><circle cx="283.0" cy="233.2" r="1.55"/><circle cx="286.0" cy="232.2" r="1.55"/><circle cx="289.0" cy="231.2" r="1.55"/></g>
<polygon points="216.30,216.60 251.20,205.60 290.50,216.00 257.60,227.00" fill="#8a6600"/>
<line x1="217.89" y1="217.00" x2="250.79" y2="206.00" stroke="#eebc20" stroke-width="1.25" stroke-linecap="round"/>
<line x1="221.07" y1="217.80" x2="253.97" y2="206.80" stroke="#eebc20" stroke-width="1.25" stroke-linecap="round"/>
<line x1="224.24" y1="218.60" x2="257.14" y2="207.60" stroke="#eebc20" stroke-width="1.25" stroke-linecap="round"/>
<line x1="227.42" y1="219.40" x2="260.32" y2="208.40" stroke="#eebc20" stroke-width="1.25" stroke-linecap="round"/>
<line x1="230.60" y1="220.20" x2="263.50" y2="209.20" stroke="#eebc20" stroke-width="1.25" stroke-linecap="round"/>
<line x1="233.77" y1="221.00" x2="266.67" y2="210.00" stroke="#eebc20" stroke-width="1.25" stroke-linecap="round"/>
<line x1="236.95" y1="221.80" x2="269.85" y2="210.80" stroke="#eebc20" stroke-width="1.25" stroke-linecap="round"/>
<line x1="240.13" y1="222.60" x2="273.03" y2="211.60" stroke="#eebc20" stroke-width="1.25" stroke-linecap="round"/>
<line x1="243.30" y1="223.40" x2="276.20" y2="212.40" stroke="#eebc20" stroke-width="1.25" stroke-linecap="round"/>
<line x1="246.48" y1="224.20" x2="279.38" y2="213.20" stroke="#eebc20" stroke-width="1.25" stroke-linecap="round"/>
<line x1="249.66" y1="225.00" x2="282.56" y2="214.00" stroke="#eebc20" stroke-width="1.25" stroke-linecap="round"/>
<line x1="252.83" y1="225.80" x2="285.73" y2="214.80" stroke="#eebc20" stroke-width="1.25" stroke-linecap="round"/>
<line x1="256.01" y1="226.60" x2="288.91" y2="215.60" stroke="#eebc20" stroke-width="1.25" stroke-linecap="round"/>
<text x="233.8" y="54.3" font-size="11.5" font-family='"Liberation Sans", sans-serif' text-anchor="start" fill="#000" font-weight="normal" font-style="normal" textLength="46.4" lengthAdjust="spacingAndGlyphs" >Multilayer</text>
<text x="231.6" y="129.4" font-size="11.5" font-family='"Liberation Sans", sans-serif' text-anchor="start" fill="#000" font-weight="normal" font-style="normal" textLength="50.2" lengthAdjust="spacingAndGlyphs" >Monolayer</text>
<text x="220.5" y="198.3" font-size="11.5" font-family='"Liberation Sans", sans-serif' text-anchor="start" fill="#000" font-weight="normal" font-style="normal" textLength="67.0" lengthAdjust="spacingAndGlyphs" >Submonolayer</text>
<text x="245.7" y="251.9" font-size="11.5" font-family='"Liberation Sans", sans-serif' text-anchor="start" fill="#000" font-weight="normal" font-style="normal" textLength="20.1" lengthAdjust="spacingAndGlyphs" >Bare</text>
<text x="207.5" y="127.2" font-size="11.5" font-family='"Liberation Sans", sans-serif' text-anchor="middle" fill="#000" font-weight="normal" font-style="normal" textLength="59.0" lengthAdjust="spacingAndGlyphs" transform="rotate(-90 207.5 127.2)" >Pd coverage</text>
<line x1="217.90" y1="152.00" x2="217.90" y2="117.00" stroke="#000" stroke-width="1.1" />
<path d="M215.6,118.5 L217.9,114 L220.2,118.5 Z" fill="#000"/>
<path d="M303.20,40.90 C303.42,39.08 304.00,33.57 304.50,30.00 C305.00,26.43 305.52,21.52 306.20,19.50 C306.88,17.48 306.97,18.22 308.60,17.90 C310.23,17.58 313.30,17.52 316.00,17.60 C318.70,17.68 322.63,17.75 324.80,18.40 C326.97,19.05 327.77,20.47 329.00,21.50 C330.23,22.53 330.37,24.02 332.20,24.60 C334.03,25.18 335.37,24.93 340.00,25.00 C344.63,25.07 354.27,25.03 360.00,25.00 C365.73,24.97 369.07,25.38 374.40,24.80 C379.73,24.22 386.22,22.50 392.00,21.50 C397.78,20.50 402.77,19.58 409.10,18.80 C415.43,18.02 424.20,17.40 430.00,16.80 C435.80,16.20 440.57,15.75 443.90,15.20 C447.23,14.65 448.45,14.07 450.00,13.50 C451.55,12.93 452.87,11.05 453.20,11.80 C453.53,12.55 452.78,16.10 452.00,18.00 C451.22,19.90 450.00,22.00 448.50,23.20 C447.00,24.40 447.75,24.73 443.00,25.20 C438.25,25.67 428.12,25.73 420.00,26.00 C411.88,26.27 401.30,26.42 394.30,26.80 C387.30,27.18 381.72,27.60 378.00,28.30 C374.28,29.00 373.42,28.72 372.00,31.00 C370.58,33.28 370.20,37.67 369.50,42.00 C368.80,46.33 368.25,53.25 367.80,57.00 C367.35,60.75 367.13,64.33 366.80,64.50 C366.47,64.67 366.35,61.75 365.80,58.00 C365.25,54.25 364.30,46.50 363.50,42.00 C362.70,37.50 362.08,33.30 361.00,31.00 C359.92,28.70 359.73,28.77 357.00,28.20 C354.27,27.63 349.55,27.70 344.60,27.60 C339.65,27.50 331.07,27.20 327.30,27.60 C323.53,28.00 323.55,28.85 322.00,30.00 C320.45,31.15 319.18,33.30 318.00,34.50 C316.82,35.70 315.98,36.92 314.90,37.20 C313.82,37.48 312.33,36.40 311.50,36.20 C310.67,36.00 310.82,35.62 309.90,36.00 C308.98,36.38 307.12,37.68 306.00,38.50 C304.88,39.32 303.67,40.50 303.20,40.90" stroke="#e7298a" stroke-width="1.2" fill="none" stroke-linejoin="round" stroke-linecap="round" />
<path d="M303.20,105.90 C303.50,105.08 304.30,102.45 305.00,101.00 C305.70,99.55 306.23,98.45 307.40,97.20 C308.57,95.95 310.35,94.60 312.00,93.50 C313.65,92.40 315.17,91.20 317.30,90.60 C319.43,90.00 322.85,89.70 324.80,89.90 C326.75,90.10 327.77,91.18 329.00,91.80 C330.23,92.42 330.42,92.90 332.20,93.60 C333.98,94.30 335.07,95.55 339.70,96.00 C344.33,96.45 353.80,96.43 360.00,96.30 C366.20,96.17 371.57,96.17 376.90,95.20 C382.23,94.23 387.03,92.03 392.00,90.50 C396.97,88.97 401.20,87.42 406.70,86.00 C412.20,84.58 418.80,83.17 425.00,82.00 C431.20,80.83 439.73,80.08 443.90,79.00 C448.07,77.92 448.47,76.80 450.00,75.50 C451.53,74.20 452.68,70.12 453.10,71.20 C453.52,72.28 453.00,78.53 452.50,82.00 C452.00,85.47 451.68,89.83 450.10,92.00 C448.52,94.17 446.10,94.08 443.00,95.00 C439.90,95.92 436.17,96.58 431.50,97.50 C426.83,98.42 420.38,99.62 415.00,100.50 C409.62,101.38 403.48,101.85 399.20,102.80 C394.92,103.75 391.67,104.17 389.30,106.20 C386.93,108.23 386.22,112.37 385.00,115.00 C383.78,117.63 382.73,120.45 382.00,122.00 C381.27,123.55 381.35,124.22 380.60,124.30 C379.85,124.38 378.60,123.55 377.50,122.50 C376.40,121.45 374.93,119.53 374.00,118.00 C373.07,116.47 372.90,115.30 371.90,113.30 C370.90,111.30 369.23,107.83 368.00,106.00 C366.77,104.17 366.17,103.33 364.50,102.30 C362.83,101.27 360.07,100.33 358.00,99.80 C355.93,99.27 357.22,99.18 352.10,99.10 C346.98,99.02 332.32,98.73 327.30,99.30 C322.28,99.87 323.25,101.40 322.00,102.50 C320.75,103.60 320.58,105.12 319.80,105.90 C319.02,106.68 318.53,107.28 317.30,107.20 C316.07,107.12 314.12,105.70 312.40,105.40 C310.68,105.10 308.53,105.32 307.00,105.40 C305.47,105.48 303.83,105.82 303.20,105.90" stroke="#7570b3" stroke-width="1.2" fill="none" stroke-linejoin="round" stroke-linecap="round" />
<path d="M303.20,178.50 C303.37,177.92 303.70,176.03 304.20,175.00 C304.70,173.97 303.60,173.08 306.20,172.30 C308.80,171.52 311.33,170.80 319.80,170.30 C328.27,169.80 344.58,169.75 357.00,169.30 C369.42,168.85 386.13,168.40 394.30,167.60 C402.47,166.80 401.87,165.58 406.00,164.50 C410.13,163.42 414.03,162.37 419.10,161.10 C424.17,159.83 432.58,158.42 436.40,156.90 C440.22,155.38 440.48,153.82 442.00,152.00 C443.52,150.18 444.37,148.00 445.50,146.00 C446.63,144.00 447.85,142.00 448.80,140.00 C449.75,138.00 450.58,135.67 451.20,134.00 C451.82,132.33 452.23,129.33 452.50,130.00 C452.77,130.67 452.92,135.10 452.80,138.00 C452.68,140.90 452.35,144.40 451.80,147.40 C451.25,150.40 450.40,153.30 449.50,156.00 C448.60,158.70 447.98,161.52 446.40,163.60 C444.82,165.68 442.07,167.05 440.00,168.50 C437.93,169.95 436.50,170.80 434.00,172.30 C431.50,173.80 427.48,176.12 425.00,177.50 C422.52,178.88 420.93,180.08 419.10,180.60 C417.27,181.12 415.67,180.77 414.00,180.60 C412.33,180.43 410.77,180.03 409.10,179.60 C407.43,179.17 405.65,178.48 404.00,178.00 C402.35,177.52 400.78,176.82 399.20,176.70 C397.62,176.58 395.73,176.98 394.50,177.30 C393.27,177.62 392.97,177.82 391.80,178.60 C390.63,179.38 388.75,181.20 387.50,182.00 C386.25,182.80 385.47,183.32 384.30,183.40 C383.13,183.48 381.73,183.10 380.50,182.50 C379.27,181.90 378.75,181.10 376.90,179.80 C375.05,178.50 372.72,175.83 369.40,174.70 C366.08,173.57 363.20,173.20 357.00,173.00 C350.80,172.80 338.82,173.22 332.20,173.50 C325.58,173.78 321.67,174.20 317.30,174.70 C312.93,175.20 308.35,175.87 306.00,176.50 C303.65,177.13 303.67,178.17 303.20,178.50" stroke="#d95f02" stroke-width="1.2" fill="none" stroke-linejoin="round" stroke-linecap="round" />
<path d="M303.20,224.40 C303.42,224.00 304.00,222.63 304.50,222.00 C305.00,221.37 299.52,221.23 306.20,220.60 C312.88,219.97 331.58,218.82 344.60,218.20 C357.62,217.58 369.00,217.12 384.30,216.90 C399.60,216.68 427.30,217.32 436.40,216.90 C445.50,216.48 438.22,216.38 438.90,214.40 C439.58,212.42 439.88,208.72 440.50,205.00 C441.12,201.28 441.83,194.67 442.60,192.10 C443.37,189.53 444.27,189.70 445.10,189.60 C445.93,189.50 446.77,191.30 447.60,191.50 C448.43,191.70 449.18,191.32 450.10,190.80 C451.02,190.28 452.57,187.20 453.10,188.40 C453.63,189.60 453.38,194.07 453.30,198.00 C453.22,201.93 453.15,209.00 452.60,212.00 C452.05,215.00 451.03,214.97 450.00,216.00 C448.97,217.03 448.07,217.48 446.40,218.20 C444.73,218.92 442.07,219.68 440.00,220.30 C437.93,220.92 435.67,221.12 434.00,221.90 C432.33,222.68 431.03,223.77 430.00,225.00 C428.97,226.23 428.72,227.47 427.80,229.30 C426.88,231.13 425.40,234.13 424.50,236.00 C423.60,237.87 422.88,239.55 422.40,240.50 C421.92,241.45 422.08,241.95 421.60,241.70 C421.12,241.45 420.33,240.03 419.50,239.00 C418.67,237.97 418.33,237.12 416.60,235.50 C414.87,233.88 412.00,231.57 409.10,229.30 C406.20,227.03 402.50,223.35 399.20,221.90 C395.90,220.45 398.40,220.60 389.30,220.60 C380.20,220.60 357.00,221.48 344.60,221.90 C332.20,222.32 321.33,222.72 314.90,223.10 C308.47,223.48 307.95,223.98 306.00,224.20 C304.05,224.42 303.67,224.37 303.20,224.40" stroke="#1b9e77" stroke-width="1.2" fill="none" stroke-linejoin="round" stroke-linecap="round" />
<text x="316.8" y="14.9" font-size="12.5" font-family='"Liberation Sans", sans-serif' text-anchor="start" fill="#e7298a" font-weight="normal" font-style="normal" textLength="30.3" lengthAdjust="spacingAndGlyphs" >10ML</text>
<text x="306.9" y="54.6" font-size="12.5" font-family='"Liberation Sans", sans-serif' text-anchor="start" fill="#000" font-weight="normal" font-style="normal" textLength="21.6" lengthAdjust="spacingAndGlyphs" >PdH</text>
<text x="355.3" y="79.9" font-size="12.5" font-family='"Liberation Sans", sans-serif' text-anchor="start" fill="#000" font-weight="normal" font-style="normal" textLength="21.7" lengthAdjust="spacingAndGlyphs" >PdO</text>
<text x="377.3" y="82.5" font-size="8.5" font-family='"Liberation Sans", sans-serif' text-anchor="start" fill="#000" font-weight="normal" font-style="normal" textLength="4.5" lengthAdjust="spacingAndGlyphs" >x</text>
<text x="310.4" y="84.8" font-size="12.5" font-family='"Liberation Sans", sans-serif' text-anchor="start" fill="#7570b3" font-weight="normal" font-style="normal" textLength="23.1" lengthAdjust="spacingAndGlyphs" >1ML</text>
<text x="310.4" y="122.0" font-size="12.5" font-family='"Liberation Sans", sans-serif' text-anchor="start" fill="#000" font-weight="normal" font-style="normal" textLength="21.8" lengthAdjust="spacingAndGlyphs" >PdH</text>
<text x="369.0" y="138.9" font-size="12.5" font-family='"Liberation Sans", sans-serif' text-anchor="start" fill="#000" font-weight="normal" font-style="normal" textLength="21.7" lengthAdjust="spacingAndGlyphs" >PdO</text>
<text x="391.0" y="141.5" font-size="8.5" font-family='"Liberation Sans", sans-serif' text-anchor="start" fill="#000" font-weight="normal" font-style="normal" textLength="4.5" lengthAdjust="spacingAndGlyphs" >x</text>
<text x="304.9" y="165.3" font-size="12.5" font-family='"Liberation Sans", sans-serif' text-anchor="start" fill="#d95f02" font-weight="normal" font-style="normal" textLength="34.8" lengthAdjust="spacingAndGlyphs" >0.5ML</text>
<text x="371.9" y="197.6" font-size="12.5" font-family='"Liberation Sans", sans-serif' text-anchor="start" fill="#000" font-weight="normal" font-style="normal" textLength="22.4" lengthAdjust="spacingAndGlyphs" >PdO</text>
<text x="394.6" y="200.2" font-size="8.5" font-family='"Liberation Sans", sans-serif' text-anchor="start" fill="#000" font-weight="normal" font-style="normal" textLength="4.6" lengthAdjust="spacingAndGlyphs" >x</text>
<text x="411.1" y="197.6" font-size="12.5" font-family='"Liberation Sans", sans-serif' text-anchor="start" fill="#000" font-weight="normal" font-style="normal" textLength="22.8" lengthAdjust="spacingAndGlyphs" >AuO</text>
<text x="434.2" y="200.2" font-size="8.5" font-family='"Liberation Sans", sans-serif' text-anchor="start" fill="#000" font-weight="normal" font-style="normal" textLength="4.7" lengthAdjust="spacingAndGlyphs" >x</text>
<text x="308.6" y="213.2" font-size="12.5" font-family='"Liberation Sans", sans-serif' text-anchor="start" fill="#1b9e77" font-weight="normal" font-style="normal" textLength="23.6" lengthAdjust="spacingAndGlyphs" >0ML</text>
<text x="394.3" y="247.2" font-size="12.5" font-family='"Liberation Sans", sans-serif' text-anchor="start" fill="#000" font-weight="normal" font-style="normal" textLength="22.7" lengthAdjust="spacingAndGlyphs" >AuO</text>
<text x="417.3" y="249.8" font-size="8.5" font-family='"Liberation Sans", sans-serif' text-anchor="start" fill="#000" font-weight="normal" font-style="normal" textLength="4.7" lengthAdjust="spacingAndGlyphs" >x</text>
<line x1="324.50" y1="250.10" x2="324.50" y2="253.80" stroke="#000" stroke-width="1.1" />
<text x="324.5" y="265.3" font-size="9.6" font-family='"Liberation Sans", sans-serif' text-anchor="middle" fill="#000" font-weight="normal" font-style="normal" textLength="15.2" lengthAdjust="spacingAndGlyphs" >0.0</text>
<line x1="378.30" y1="250.10" x2="378.30" y2="253.80" stroke="#000" stroke-width="1.1" />
<text x="378.3" y="265.3" font-size="9.6" font-family='"Liberation Sans", sans-serif' text-anchor="middle" fill="#000" font-weight="normal" font-style="normal" textLength="15.2" lengthAdjust="spacingAndGlyphs" >0.5</text>
<line x1="432.00" y1="250.10" x2="432.00" y2="253.80" stroke="#000" stroke-width="1.1" />
<text x="432.0" y="265.3" font-size="9.6" font-family='"Liberation Sans", sans-serif' text-anchor="middle" fill="#000" font-weight="normal" font-style="normal" textLength="15.2" lengthAdjust="spacingAndGlyphs" >1.0</text>
<text x="378.0" y="277.0" font-size="10.6" font-family='"Liberation Sans", sans-serif' text-anchor="middle" fill="#000" font-weight="normal" font-style="normal" textLength="58.9" lengthAdjust="spacingAndGlyphs" >E (V) vs SCE</text>
<text x="461.0" y="129.5" font-size="12" font-family='"Liberation Sans", sans-serif' text-anchor="middle" fill="#000" font-weight="normal" font-style="normal" textLength="94.3" lengthAdjust="spacingAndGlyphs" transform="rotate(90 461.0 129.5)" >Current (arb. units)</text>
<rect x="497.8" y="0.6" width="165.3" height="110.3" fill="none" stroke="#000" stroke-width="1.3"/>
<path d="M496.78,100.95 L497.22,101.04 L497.65,101.08 L498.08,101.19 L498.51,101.06 L498.94,101.20 L499.37,100.58 L499.80,100.89 L500.23,101.23 L500.66,101.03 L501.10,101.22 L501.53,100.67 L501.96,100.93 L502.39,100.78 L502.82,100.99 L503.25,101.02 L503.68,100.64 L504.11,100.78 L504.55,100.83 L504.98,101.29 L505.41,101.19 L505.84,100.77 L506.27,101.22 L506.70,100.76 L507.13,101.10 L507.56,100.76 L508.00,100.68 L508.43,101.29 L508.86,100.83 L509.29,100.83 L509.72,101.37 L510.15,101.29 L510.58,100.87 L511.01,101.34 L511.44,101.03 L511.88,101.12 L512.31,100.77 L512.74,101.27 L513.17,101.06 L513.60,101.22 L514.03,101.11 L514.46,100.62 L514.89,100.56 L515.33,100.28 L515.76,100.04 L516.19,99.61 L516.62,99.13 L517.05,98.09 L517.48,94.85 L517.91,88.38 L518.34,79.88 L518.78,87.96 L519.21,95.07 L519.64,97.35 L520.07,97.98 L520.50,97.90 L520.93,97.63 L521.36,97.73 L521.79,99.46 L522.22,99.56 L522.66,100.52 L523.09,100.86 L523.52,100.45 L523.95,101.11 L524.38,100.90 L524.81,101.10 L525.24,100.75 L525.67,100.81 L526.11,100.93 L526.54,101.49 L526.97,100.98 L527.40,101.38 L527.83,101.50 L528.26,101.51 L528.69,101.08 L529.12,101.08 L529.56,101.17 L529.99,101.32 L530.42,100.81 L530.85,101.20 L531.28,101.16 L531.71,101.09 L532.14,100.36 L532.57,100.78 L533.00,99.84 L533.44,99.47 L533.87,98.73 L534.30,97.20 L534.73,93.17 L535.16,86.07 L535.59,78.82 L536.02,85.49 L536.45,92.83 L536.89,96.10 L537.32,97.34 L537.75,97.49 L538.18,96.55 L538.61,92.51 L539.04,86.69 L539.47,92.24 L539.90,97.63 L540.34,99.26 L540.77,100.07 L541.20,100.44 L541.63,100.97 L542.06,101.33 L542.49,101.20 L542.92,101.28 L543.35,101.10 L543.78,101.76 L544.22,101.19 L544.65,101.56 L545.08,101.83 L545.51,101.37 L545.94,101.82 L546.37,101.99 L546.80,101.79 L547.23,101.92 L547.67,101.46 L548.10,101.71 L548.53,101.53 L548.96,102.03 L549.39,101.66 L549.82,101.78 L550.25,102.18 L550.68,102.08 L551.12,102.18 L551.55,101.83 L551.98,101.86 L552.41,102.04 L552.84,101.87 L553.27,101.75 L553.70,101.84 L554.13,101.67 L554.56,101.83 L555.00,102.27 L555.43,102.26 L555.86,102.03 L556.29,101.95 L556.72,101.84 L557.15,101.67 L557.58,101.80 L558.01,102.16 L558.45,102.23 L558.88,101.87 L559.31,102.17 L559.74,102.17 L560.17,102.11 L560.60,102.08 L561.03,102.15 L561.46,101.86 L561.90,102.09 L562.33,101.77 L562.76,101.89 L563.19,102.04 L563.62,101.93 L564.05,101.54 L564.48,101.83 L564.91,101.31 L565.34,100.79 L565.78,100.05 L566.21,100.67 L566.64,100.83 L567.07,101.28 L567.50,101.07 L567.93,100.99 L568.36,100.05 L568.79,98.36 L569.23,96.37 L569.66,98.28 L570.09,100.18 L570.52,101.12 L570.95,101.20 L571.38,101.76 L571.81,101.90 L572.24,101.84 L572.68,102.08 L573.11,102.08 L573.54,101.77 L573.97,101.77 L574.40,101.49 L574.83,101.93 L575.26,101.95 L575.69,101.57 L576.12,101.64 L576.56,101.56 L576.99,101.43 L577.42,100.87 L577.85,101.05 L578.28,100.57 L578.71,100.11 L579.14,99.09 L579.57,97.69 L580.01,94.62 L580.44,86.92 L580.87,70.65 L581.30,70.11 L581.73,86.43 L582.16,94.12 L582.59,97.35 L583.02,98.49 L583.46,99.59 L583.89,100.00 L584.32,99.88 L584.75,100.38 L585.18,100.36 L585.61,100.36 L586.04,100.53 L586.47,100.76 L586.90,100.77 L587.34,100.88 L587.77,100.87 L588.20,101.26 L588.63,101.30 L589.06,101.56 L589.49,101.63 L589.92,101.47 L590.35,102.02 L590.79,101.46 L591.22,101.82 L591.65,101.80 L592.08,101.95 L592.51,101.81 L592.94,102.37 L593.37,102.10 L593.80,101.91 L594.24,102.36 L594.67,102.04 L595.10,102.40 L595.53,102.29 L595.96,102.50 L596.39,102.79 L596.82,102.73 L597.25,102.48 L597.68,102.78 L598.12,102.69 L598.55,102.52 L598.98,102.39 L599.41,102.73 L599.84,102.73 L600.27,103.03 L600.70,103.05 L601.13,102.82 L601.57,102.66 L602.00,103.06 L602.43,102.45 L602.86,102.54 L603.29,102.88 L603.72,102.93 L604.15,102.61 L604.58,102.97 L605.02,103.17 L605.45,102.82 L605.88,102.87 L606.31,102.74 L606.74,102.80 L607.17,103.29 L607.60,102.89 L608.03,103.31 L608.46,103.29 L608.90,103.08 L609.33,102.85 L609.76,103.37 L610.19,103.04 L610.62,102.99 L611.05,102.94 L611.48,103.41 L611.91,103.08 L612.35,102.94 L612.78,103.09 L613.21,102.85 L613.64,103.21 L614.07,103.09 L614.50,103.00 L614.93,103.35 L615.36,103.39 L615.80,102.83 L616.23,103.20 L616.66,103.03 L617.09,103.50 L617.52,103.40 L617.95,103.03 L618.38,103.05 L618.81,102.98 L619.24,103.57 L619.68,103.09 L620.11,103.32 L620.54,103.23 L620.97,103.35 L621.40,103.33 L621.83,103.43 L622.26,103.00 L622.69,103.46 L623.13,103.14 L623.56,103.31 L623.99,103.17 L624.42,103.15 L624.85,103.31 L625.28,103.27 L625.71,103.20 L626.14,103.47 L626.58,103.36 L627.01,102.97 L627.44,103.12 L627.87,103.26 L628.30,103.58 L628.73,103.56 L629.16,103.31 L629.59,102.93 L630.02,103.46 L630.46,103.20 L630.89,103.29 L631.32,103.37 L631.75,103.30 L632.18,103.18 L632.61,103.46 L633.04,103.07 L633.47,103.04 L633.91,103.33 L634.34,102.83 L634.77,102.85 L635.20,103.17 L635.63,102.57 L636.06,103.04 L636.49,102.85 L636.92,102.56 L637.36,102.34 L637.79,102.53 L638.22,102.44 L638.65,101.69 L639.08,101.65 L639.51,101.36 L639.94,100.89 L640.37,100.22 L640.80,99.36 L641.24,98.69 L641.67,97.53 L642.10,95.18 L642.53,92.73 L642.96,89.58 L643.39,84.87 L643.82,79.49 L644.25,75.13 L644.69,75.63 L645.12,79.74 L645.55,85.06 L645.98,89.56 L646.41,92.68 L646.84,95.82 L647.27,97.23 L647.70,98.87 L648.14,100.08 L648.57,100.66 L649.00,100.83 L649.43,101.39 L649.86,102.18 L650.29,101.94 L650.72,102.50 L651.15,102.56 L651.58,102.55 L652.02,103.02 L652.45,102.73 L652.88,102.88 L653.31,103.17 L653.74,103.03 L654.17,103.09 L654.60,103.52 L655.03,103.70 L655.47,103.85 L655.90,103.37 L656.33,103.62 L656.76,103.58 L657.19,103.82 L657.62,103.78 L658.05,104.12 L658.48,103.76 L658.92,103.56 L659.35,104.04 L659.78,103.68 L660.21,104.04 L660.64,103.98 L661.07,104.28 L661.50,104.05 L661.93,104.12 L662.36,103.89 L662.80,104.11 L663.23,103.92 L663.66,104.28" stroke="#1b9e77" stroke-width="1.0" fill="none" stroke-linejoin="round" stroke-linecap="round" />
<path d="M496.78,70.07 L497.22,69.98 L497.65,70.18 L498.08,70.01 L498.51,69.95 L498.94,70.18 L499.37,70.54 L499.80,70.46 L500.23,70.44 L500.66,70.06 L501.10,70.27 L501.53,70.09 L501.96,70.02 L502.39,69.97 L502.82,70.05 L503.25,70.54 L503.68,70.47 L504.11,70.46 L504.55,70.45 L504.98,70.02 L505.41,70.10 L505.84,70.32 L506.27,70.39 L506.70,70.48 L507.13,70.49 L507.56,69.93 L508.00,70.29 L508.43,70.33 L508.86,70.21 L509.29,69.97 L509.72,70.17 L510.15,69.90 L510.58,70.48 L511.01,70.42 L511.44,70.18 L511.88,69.99 L512.31,70.40 L512.74,70.14 L513.17,70.32 L513.60,70.26 L514.03,69.97 L514.46,69.84 L514.89,69.87 L515.33,69.62 L515.76,69.24 L516.19,69.03 L516.62,68.87 L517.05,67.39 L517.48,65.60 L517.91,62.80 L518.34,60.09 L518.78,62.73 L519.21,65.89 L519.64,67.59 L520.07,68.98 L520.50,68.93 L520.93,69.38 L521.36,69.43 L521.79,69.86 L522.22,69.69 L522.66,69.81 L523.09,70.13 L523.52,69.86 L523.95,70.05 L524.38,70.31 L524.81,69.76 L525.24,69.74 L525.67,69.85 L526.11,70.23 L526.54,70.12 L526.97,69.84 L527.40,69.89 L527.83,69.77 L528.26,69.94 L528.69,69.62 L529.12,70.04 L529.56,70.14 L529.99,70.12 L530.42,69.90 L530.85,69.96 L531.28,69.19 L531.71,69.22 L532.14,69.48 L532.57,69.04 L533.00,68.33 L533.44,68.01 L533.87,66.62 L534.30,64.66 L534.73,60.29 L535.16,53.10 L535.59,47.76 L536.02,52.82 L536.45,59.82 L536.89,63.84 L537.32,64.86 L537.75,64.65 L538.18,63.03 L538.61,58.73 L539.04,54.99 L539.47,59.36 L539.90,64.28 L540.34,66.57 L540.77,68.39 L541.20,68.66 L541.63,68.90 L542.06,69.06 L542.49,69.23 L542.92,69.44 L543.35,69.90 L543.78,69.60 L544.22,69.59 L544.65,69.95 L545.08,69.82 L545.51,70.37 L545.94,69.79 L546.37,70.10 L546.80,70.29 L547.23,70.05 L547.67,70.47 L548.10,70.12 L548.53,69.97 L548.96,70.10 L549.39,69.84 L549.82,70.12 L550.25,70.00 L550.68,70.46 L551.12,70.42 L551.55,70.19 L551.98,69.87 L552.41,70.03 L552.84,70.02 L553.27,70.00 L553.70,70.02 L554.13,70.46 L554.56,69.96 L555.00,69.89 L555.43,70.51 L555.86,70.25 L556.29,70.55 L556.72,70.13 L557.15,70.48 L557.58,70.31 L558.01,70.40 L558.45,70.36 L558.88,70.18 L559.31,69.90 L559.74,69.98 L560.17,70.43 L560.60,70.44 L561.03,70.45 L561.46,70.03 L561.90,70.25 L562.33,70.33 L562.76,70.21 L563.19,70.31 L563.62,70.09 L564.05,70.16 L564.48,70.15 L564.91,69.82 L565.34,70.23 L565.78,70.19 L566.21,69.48 L566.64,69.98 L567.07,69.77 L567.50,69.22 L567.93,68.20 L568.36,67.78 L568.79,66.02 L569.23,66.59 L569.66,67.56 L570.09,68.11 L570.52,68.74 L570.95,69.36 L571.38,69.48 L571.81,69.69 L572.24,69.86 L572.68,69.37 L573.11,69.21 L573.54,69.82 L573.97,69.14 L574.40,69.67 L574.83,69.06 L575.26,69.44 L575.69,69.28 L576.12,69.18 L576.56,68.73 L576.99,68.68 L577.42,67.83 L577.85,67.63 L578.28,66.65 L578.71,65.92 L579.14,64.04 L579.57,60.74 L580.01,55.04 L580.44,43.71 L580.87,28.30 L581.30,28.59 L581.73,43.72 L582.16,54.75 L582.59,60.12 L583.02,62.68 L583.46,64.44 L583.89,65.69 L584.32,66.13 L584.75,66.19 L585.18,67.10 L585.61,67.36 L586.04,67.09 L586.47,67.65 L586.90,67.77 L587.34,68.27 L587.77,68.14 L588.20,68.28 L588.63,68.63 L589.06,69.12 L589.49,68.65 L589.92,68.79 L590.35,69.26 L590.79,69.54 L591.22,69.37 L591.65,69.39 L592.08,69.75 L592.51,69.75 L592.94,69.31 L593.37,69.93 L593.80,69.49 L594.24,69.60 L594.67,70.00 L595.10,69.74 L595.53,70.03 L595.96,69.61 L596.39,70.12 L596.82,69.65 L597.25,69.64 L597.68,69.90 L598.12,69.80 L598.55,69.95 L598.98,70.21 L599.41,70.08 L599.84,69.59 L600.27,69.81 L600.70,69.97 L601.13,69.93 L601.57,70.09 L602.00,69.93 L602.43,69.64 L602.86,69.75 L603.29,70.17 L603.72,69.82 L604.15,70.10 L604.58,70.24 L605.02,69.98 L605.45,70.00 L605.88,69.94 L606.31,69.72 L606.74,70.12 L607.17,69.79 L607.60,70.09 L608.03,69.64 L608.46,70.01 L608.90,69.93 L609.33,69.78 L609.76,69.63 L610.19,69.39 L610.62,69.80 L611.05,69.48 L611.48,69.64 L611.91,69.23 L612.35,69.15 L612.78,69.14 L613.21,69.55 L613.64,69.05 L614.07,69.49 L614.50,69.04 L614.93,69.11 L615.36,68.86 L615.80,68.96 L616.23,68.48 L616.66,68.58 L617.09,68.83 L617.52,68.16 L617.95,68.34 L618.38,67.94 L618.81,67.73 L619.24,67.32 L619.68,67.09 L620.11,67.48 L620.54,67.10 L620.97,66.76 L621.40,66.41 L621.83,66.12 L622.26,65.13 L622.69,64.95 L623.13,64.38 L623.56,63.90 L623.99,63.58 L624.42,62.89 L624.85,62.47 L625.28,61.35 L625.71,61.26 L626.14,60.92 L626.58,60.75 L627.01,60.58 L627.44,60.81 L627.87,60.67 L628.30,61.47 L628.73,61.56 L629.16,62.22 L629.59,63.00 L630.02,63.44 L630.46,63.73 L630.89,64.22 L631.32,64.80 L631.75,65.49 L632.18,66.18 L632.61,66.51 L633.04,66.52 L633.47,66.85 L633.91,67.43 L634.34,67.32 L634.77,67.65 L635.20,67.59 L635.63,67.90 L636.06,68.32 L636.49,68.59 L636.92,68.68 L637.36,68.63 L637.79,69.16 L638.22,69.04 L638.65,68.81 L639.08,68.84 L639.51,69.56 L639.94,69.64 L640.37,69.67 L640.80,69.51 L641.24,69.37 L641.67,69.27 L642.10,69.43 L642.53,69.46 L642.96,70.00 L643.39,70.01 L643.82,69.97 L644.25,69.57 L644.69,69.66 L645.12,69.74 L645.55,70.22 L645.98,69.70 L646.41,70.17 L646.84,70.11 L647.27,70.04 L647.70,70.35 L648.14,69.89 L648.57,70.09 L649.00,69.85 L649.43,69.83 L649.86,69.80 L650.29,70.02 L650.72,69.89 L651.15,69.87 L651.58,70.53 L652.02,70.05 L652.45,70.49 L652.88,70.37 L653.31,70.40 L653.74,70.36 L654.17,70.58 L654.60,70.53 L655.03,70.43 L655.47,70.33 L655.90,70.43 L656.33,70.46 L656.76,70.35 L657.19,70.32 L657.62,70.09 L658.05,70.58 L658.48,70.33 L658.92,70.05 L659.35,70.13 L659.78,70.63 L660.21,70.20 L660.64,70.30 L661.07,70.51 L661.50,70.64 L661.93,70.28 L662.36,70.32 L662.80,70.35 L663.23,70.08 L663.66,70.68" stroke="#7570b3" stroke-width="1.0" fill="none" stroke-linejoin="round" stroke-linecap="round" />
<path d="M496.78,40.58 L497.22,40.79 L497.65,40.67 L498.08,40.83 L498.51,40.85 L498.94,40.45 L499.37,40.42 L499.80,40.99 L500.23,40.58 L500.66,40.57 L501.10,41.10 L501.53,40.73 L501.96,40.98 L502.39,40.73 L502.82,40.84 L503.25,40.50 L503.68,40.83 L504.11,40.99 L504.55,40.75 L504.98,40.90 L505.41,40.85 L505.84,40.42 L506.27,40.90 L506.70,40.78 L507.13,40.57 L507.56,40.38 L508.00,40.96 L508.43,40.68 L508.86,40.85 L509.29,40.95 L509.72,40.83 L510.15,40.97 L510.58,40.59 L511.01,40.86 L511.44,40.60 L511.88,40.93 L512.31,40.87 L512.74,40.31 L513.17,40.31 L513.60,40.33 L514.03,40.81 L514.46,40.39 L514.89,40.44 L515.33,40.11 L515.76,40.09 L516.19,39.76 L516.62,39.32 L517.05,38.74 L517.48,37.30 L517.91,34.96 L518.34,32.83 L518.78,34.97 L519.21,37.47 L519.64,39.00 L520.07,39.52 L520.50,39.57 L520.93,40.30 L521.36,40.53 L521.79,40.59 L522.22,40.42 L522.66,40.57 L523.09,40.25 L523.52,40.71 L523.95,40.54 L524.38,40.35 L524.81,40.20 L525.24,40.76 L525.67,40.85 L526.11,40.22 L526.54,40.71 L526.97,40.43 L527.40,40.23 L527.83,40.31 L528.26,40.62 L528.69,40.67 L529.12,40.06 L529.56,40.42 L529.99,39.97 L530.42,40.38 L530.85,40.02 L531.28,40.30 L531.71,40.23 L532.14,39.71 L532.57,39.78 L533.00,38.90 L533.44,38.12 L533.87,37.46 L534.30,35.21 L534.73,31.78 L535.16,25.62 L535.59,20.88 L536.02,25.25 L536.45,31.24 L536.89,35.05 L537.32,36.01 L537.75,36.59 L538.18,35.30 L538.61,31.50 L539.04,28.27 L539.47,32.03 L539.90,36.07 L540.34,37.97 L540.77,38.90 L541.20,39.47 L541.63,40.02 L542.06,39.92 L542.49,40.01 L542.92,40.32 L543.35,40.06 L543.78,40.17 L544.22,40.69 L544.65,40.40 L545.08,40.45 L545.51,40.10 L545.94,40.41 L546.37,40.54 L546.80,40.16 L547.23,40.59 L547.67,40.62 L548.10,40.23 L548.53,40.63 L548.96,40.52 L549.39,40.68 L549.82,40.46 L550.25,40.71 L550.68,40.73 L551.12,40.23 L551.55,40.26 L551.98,40.70 L552.41,40.90 L552.84,40.40 L553.27,40.55 L553.70,40.64 L554.13,40.45 L554.56,40.48 L555.00,40.44 L555.43,40.48 L555.86,40.64 L556.29,40.43 L556.72,40.48 L557.15,40.76 L557.58,40.23 L558.01,40.61 L558.45,40.72 L558.88,40.42 L559.31,40.35 L559.74,40.75 L560.17,40.35 L560.60,40.31 L561.03,40.48 L561.46,40.65 L561.90,40.23 L562.33,40.37 L562.76,40.37 L563.19,40.71 L563.62,40.42 L564.05,40.69 L564.48,40.19 L564.91,40.28 L565.34,40.47 L565.78,40.59 L566.21,40.22 L566.64,39.98 L567.07,39.78 L567.50,39.85 L567.93,39.24 L568.36,39.03 L568.79,38.28 L569.23,37.81 L569.66,38.61 L570.09,39.58 L570.52,39.80 L570.95,40.10 L571.38,39.87 L571.81,39.76 L572.24,39.89 L572.68,40.24 L573.11,39.85 L573.54,39.87 L573.97,39.87 L574.40,39.81 L574.83,39.73 L575.26,39.99 L575.69,39.34 L576.12,39.08 L576.56,39.55 L576.99,39.26 L577.42,38.99 L577.85,38.14 L578.28,37.82 L578.71,36.75 L579.14,34.52 L579.57,31.79 L580.01,25.93 L580.44,15.32 L580.87,7.12 L581.30,14.86 L581.73,25.19 L582.16,30.82 L582.59,33.61 L583.02,35.52 L583.46,36.18 L583.89,37.07 L584.32,36.88 L584.75,37.72 L585.18,37.77 L585.61,38.11 L586.04,38.27 L586.47,38.46 L586.90,38.42 L587.34,38.21 L587.77,38.90 L588.20,38.67 L588.63,38.92 L589.06,39.32 L589.49,39.35 L589.92,39.39 L590.35,39.86 L590.79,39.72 L591.22,39.61 L591.65,39.62 L592.08,40.11 L592.51,39.89 L592.94,40.15 L593.37,39.90 L593.80,39.83 L594.24,40.09 L594.67,40.32 L595.10,39.90 L595.53,40.35 L595.96,40.47 L596.39,40.40 L596.82,40.43 L597.25,39.87 L597.68,40.32 L598.12,40.49 L598.55,39.94 L598.98,40.10 L599.41,40.10 L599.84,40.29 L600.27,40.22 L600.70,40.26 L601.13,40.47 L601.57,39.93 L602.00,39.97 L602.43,40.02 L602.86,40.01 L603.29,39.97 L603.72,40.60 L604.15,40.52 L604.58,39.97 L605.02,40.26 L605.45,40.12 L605.88,40.11 L606.31,40.13 L606.74,40.33 L607.17,40.27 L607.60,40.10 L608.03,39.97 L608.46,40.05 L608.90,39.89 L609.33,40.18 L609.76,40.27 L610.19,40.02 L610.62,39.79 L611.05,39.83 L611.48,39.94 L611.91,40.08 L612.35,40.17 L612.78,39.86 L613.21,40.11 L613.64,39.95 L614.07,39.77 L614.50,39.69 L614.93,39.72 L615.36,39.81 L615.80,39.55 L616.23,39.67 L616.66,39.44 L617.09,39.20 L617.52,39.31 L617.95,39.33 L618.38,38.78 L618.81,38.90 L619.24,38.76 L619.68,38.93 L620.11,38.80 L620.54,38.22 L620.97,38.37 L621.40,38.07 L621.83,37.44 L622.26,37.31 L622.69,36.77 L623.13,36.93 L623.56,36.48 L623.99,36.30 L624.42,35.89 L624.85,35.48 L625.28,35.24 L625.71,34.89 L626.14,34.41 L626.58,34.68 L627.01,34.29 L627.44,34.50 L627.87,35.14 L628.30,34.89 L628.73,35.23 L629.16,35.57 L629.59,36.47 L630.02,36.32 L630.46,36.54 L630.89,37.42 L631.32,37.21 L631.75,37.98 L632.18,38.11 L632.61,38.44 L633.04,38.72 L633.47,38.64 L633.91,38.95 L634.34,38.57 L634.77,39.21 L635.20,39.15 L635.63,39.40 L636.06,39.07 L636.49,39.61 L636.92,39.81 L637.36,39.28 L637.79,39.52 L638.22,39.75 L638.65,39.99 L639.08,39.63 L639.51,39.63 L639.94,39.73 L640.37,40.02 L640.80,40.15 L641.24,39.93 L641.67,39.95 L642.10,39.99 L642.53,39.99 L642.96,40.06 L643.39,39.85 L643.82,40.16 L644.25,40.51 L644.69,40.14 L645.12,40.39 L645.55,40.00 L645.98,40.38 L646.41,40.44 L646.84,40.40 L647.27,40.30 L647.70,40.29 L648.14,40.41 L648.57,40.60 L649.00,40.09 L649.43,40.06 L649.86,40.52 L650.29,40.65 L650.72,40.38 L651.15,40.33 L651.58,40.53 L652.02,40.17 L652.45,40.23 L652.88,40.19 L653.31,40.47 L653.74,40.28 L654.17,40.23 L654.60,40.56 L655.03,40.74 L655.47,40.29 L655.90,40.58 L656.33,40.38 L656.76,40.69 L657.19,40.51 L657.62,40.29 L658.05,40.26 L658.48,40.12 L658.92,40.45 L659.35,40.38 L659.78,40.24 L660.21,40.37 L660.64,40.35 L661.07,40.67 L661.50,40.23 L661.93,40.82 L662.36,40.47 L662.80,40.55 L663.23,40.46 L663.66,40.72" stroke="#e7298a" stroke-width="1.0" fill="none" stroke-linejoin="round" stroke-linecap="round" />
<line x1="628.30" y1="1.30" x2="628.30" y2="110.50" stroke="#d03030" stroke-width="1.6" stroke-dasharray="4.4 2.6"/>
<path d="M642.6,83.6 L633.5,83.6" stroke="#c00000" stroke-width="2.8"/>
<path d="M634.8,79.8 L629.3,83.6 L634.8,87.4 Z" fill="#c00000"/>
<text x="502.3" y="14.4" font-size="18.98" font-family='"Liberation Sans", sans-serif' text-anchor="start" fill="#000" font-weight="normal" font-style="normal" textLength="8.8" lengthAdjust="spacingAndGlyphs" >c</text>
<text x="548.3" y="33.7" font-size="12.5" font-family='"Liberation Sans", sans-serif' text-anchor="start" fill="#e7298a" font-weight="normal" font-style="normal" textLength="17.3" lengthAdjust="spacingAndGlyphs" >x 3</text>
<text x="586.5" y="33.3" font-size="12.5" font-family='"Liberation Sans", sans-serif' text-anchor="start" fill="#e7298a" font-weight="normal" font-style="normal" textLength="30.5" lengthAdjust="spacingAndGlyphs" >10ML</text>
<text x="590.7" y="64.4" font-size="12.5" font-family='"Liberation Sans", sans-serif' text-anchor="start" fill="#7570b3" font-weight="normal" font-style="normal" textLength="23.6" lengthAdjust="spacingAndGlyphs" >1ML</text>
<text x="590.7" y="97.6" font-size="12.5" font-family='"Liberation Sans", sans-serif' text-anchor="start" fill="#1b9e77" font-weight="normal" font-style="normal" textLength="24.1" lengthAdjust="spacingAndGlyphs" >0ML</text>
<line x1="520.50" y1="107.50" x2="520.50" y2="110.90" stroke="#000" stroke-width="1.1" />
<text x="520.5" y="121.2" font-size="10" font-family='"Liberation Sans", sans-serif' text-anchor="middle" fill="#000" font-weight="normal" font-style="normal" textLength="22.5" lengthAdjust="spacingAndGlyphs" >1000</text>
<line x1="574.40" y1="107.50" x2="574.40" y2="110.90" stroke="#000" stroke-width="1.1" />
<text x="574.4" y="121.2" font-size="10" font-family='"Liberation Sans", sans-serif' text-anchor="middle" fill="#000" font-weight="normal" font-style="normal" textLength="22.5" lengthAdjust="spacingAndGlyphs" >1500</text>
<line x1="628.30" y1="107.50" x2="628.30" y2="110.90" stroke="#d03030" stroke-width="1.1" />
<text x="628.3" y="121.2" font-size="10" font-family='"Liberation Sans", sans-serif' text-anchor="middle" fill="#000" font-weight="normal" font-style="normal" textLength="22.5" lengthAdjust="spacingAndGlyphs" >2000</text>
<text x="581.0" y="132.2" font-size="10.5" font-family='"Liberation Sans", sans-serif' text-anchor="middle" fill="#000" font-weight="normal" font-style="normal" textLength="86.0" lengthAdjust="spacingAndGlyphs" >Ramanshift (cm<tspan dy="-3.5" font-size="7">−1</tspan><tspan dy="3.5">)</tspan></text>
<line x1="663.10" y1="108.70" x2="665.80" y2="108.70" stroke="#000" stroke-width="1.1" />
<text x="666.6" y="112.1" font-size="9.8" font-family='"Liberation Sans", sans-serif' text-anchor="start" fill="#000" font-weight="normal" font-style="normal" >0</text>
<line x1="663.10" y1="84.65" x2="665.80" y2="84.65" stroke="#000" stroke-width="1.1" />
<text x="666.6" y="88.1" font-size="9.8" font-family='"Liberation Sans", sans-serif' text-anchor="start" fill="#000" font-weight="normal" font-style="normal" >1</text>
<line x1="663.10" y1="60.60" x2="665.80" y2="60.60" stroke="#000" stroke-width="1.1" />
<text x="666.6" y="64.0" font-size="9.8" font-family='"Liberation Sans", sans-serif' text-anchor="start" fill="#000" font-weight="normal" font-style="normal" >2</text>
<line x1="663.10" y1="36.55" x2="665.80" y2="36.55" stroke="#000" stroke-width="1.1" />
<text x="666.6" y="39.9" font-size="9.8" font-family='"Liberation Sans", sans-serif' text-anchor="start" fill="#000" font-weight="normal" font-style="normal" >3</text>
<line x1="663.10" y1="12.50" x2="665.80" y2="12.50" stroke="#000" stroke-width="1.1" />
<text x="666.6" y="15.9" font-size="9.8" font-family='"Liberation Sans", sans-serif' text-anchor="start" fill="#000" font-weight="normal" font-style="normal" >4</text>
<text x="675.5" y="60.0" font-size="11" font-family='"Liberation Sans", sans-serif' text-anchor="middle" fill="#000" font-weight="normal" font-style="normal" textLength="121.0" lengthAdjust="spacingAndGlyphs" transform="rotate(90 675.5 60.0)" >SERS intensity (x10<tspan dy="-3.5" font-size="7">3</tspan><tspan dy="3.5"> cts)</tspan></text>
<clipPath id="dclip"><rect x="21.6" y="117.5" width="171.2" height="136.2"/></clipPath>
<g clip-path="url(#dclip)">
<path d="M21.60,220.65 L22.88,218.97 L24.17,217.34 L25.45,215.78 L26.74,214.32 L28.02,212.99 L29.30,211.80 L30.59,210.79 L31.87,209.97 L33.16,209.36 L34.44,208.96 L35.72,208.79 L37.01,208.93 L38.29,209.46 L39.58,210.36 L40.86,211.58 L42.14,213.08 L43.43,214.81 L44.71,216.70 L46.00,218.70 L47.28,220.73 L48.56,222.75 L49.85,224.71 L51.13,226.57 L52.42,228.29 L53.70,229.86 L54.98,231.26 L56.27,232.50 L57.55,233.58 L58.84,234.50 L60.12,235.29 L61.40,235.96 L62.69,236.53 L63.97,237.02 L65.26,237.44 L66.54,237.82 L67.82,238.16 L69.11,238.48 L70.39,238.77 L71.68,239.05 L72.96,239.33 L74.24,239.59 L75.53,239.84 L76.81,240.08 L78.10,240.31 L79.38,240.52 L80.66,240.72 L81.95,240.90 L83.23,241.06 L84.52,241.20 L85.80,241.32 L87.08,241.41 L88.37,241.48 L89.65,241.53 L90.94,241.43 L92.22,241.25 L93.50,241.02 L94.79,240.75 L96.07,240.40 L97.36,239.98 L98.64,239.45 L99.92,238.79 L101.21,237.97 L102.49,236.96 L103.78,235.70 L105.06,234.17 L106.34,232.31 L107.63,230.07 L108.91,227.41 L110.20,224.28 L111.48,220.66 L112.76,216.51 L114.05,211.84 L115.33,206.65 L116.62,200.99 L117.90,194.91 L119.18,188.50 L120.47,181.88 L121.75,175.18 L123.04,168.55 L124.32,162.17 L125.60,156.22 L126.89,150.87 L128.17,146.29 L129.46,142.63 L130.74,140.00 L132.02,138.50 L133.31,138.13 L134.59,138.39 L135.88,139.15 L137.16,140.38 L138.44,142.07 L139.73,144.18 L141.01,146.70 L142.30,149.57 L143.58,152.76 L144.86,156.21 L146.15,159.86 L147.43,163.66 L148.72,167.74 L150.00,171.64 L151.28,175.50 L152.57,179.78 L153.85,184.23 L155.14,188.03 L156.42,191.86 L157.70,194.98 L158.99,198.22 L160.27,201.83 L161.56,204.97 L162.84,207.94 L164.12,210.39 L165.41,212.72 L166.69,214.85 L167.98,217.41 L169.26,218.70 L170.54,221.05 L171.83,222.61 L173.11,223.50 L174.40,225.12 L175.68,225.53 L176.96,226.40 L178.25,227.08 L179.53,227.99 L180.82,228.22 L182.10,228.16 L183.38,228.93 L184.67,228.31 L185.95,227.74 L187.24,228.06 L188.52,228.20 L189.80,227.88 L191.09,227.90 L192.37,227.85" stroke="#1b9e77" stroke-width="0.65" fill="none" stroke-linejoin="round" stroke-linecap="round" opacity="0.9"/>
<path d="M21.60,211.76 L22.88,209.46 L24.17,207.23 L25.45,205.10 L26.74,203.10 L28.02,201.28 L29.30,199.66 L30.59,198.28 L31.87,197.15 L33.16,196.31 L34.44,195.77 L35.72,195.54 L37.01,195.73 L38.29,196.45 L39.58,197.67 L40.86,199.34 L42.14,201.39 L43.43,203.75 L44.71,206.34 L46.00,209.06 L47.28,211.84 L48.56,214.59 L49.85,217.27 L51.13,219.80 L52.42,222.15 L53.70,224.29 L54.98,226.20 L56.27,227.89 L57.55,229.36 L58.84,230.62 L60.12,231.69 L61.40,232.60 L62.69,233.38 L63.97,234.05 L65.26,234.63 L66.54,235.15 L67.82,235.62 L69.11,236.05 L70.39,236.46 L71.68,236.84 L72.96,237.21 L74.24,237.57 L75.53,237.91 L76.81,238.24 L78.10,238.54 L79.38,238.81 L80.66,239.06 L81.95,239.27 L83.23,239.45 L84.52,239.58 L85.80,239.66 L87.08,239.69 L88.37,239.66 L89.65,239.56 L90.94,239.28 L92.22,238.84 L93.50,238.31 L94.79,237.67 L96.07,236.89 L97.36,235.96 L98.64,234.86 L99.92,233.58 L101.21,232.09 L102.49,230.38 L103.78,228.42 L105.06,226.22 L106.34,223.75 L107.63,221.02 L108.91,218.04 L110.20,214.80 L111.48,211.35 L112.76,207.69 L114.05,203.89 L115.33,199.97 L116.62,196.01 L117.90,192.07 L119.18,188.21 L120.47,184.51 L121.75,181.05 L123.04,177.91 L124.32,175.14 L125.60,172.82 L126.89,171.00 L128.17,169.72 L129.46,169.01 L130.74,168.84 L132.02,168.95 L133.31,169.33 L134.59,169.97 L135.88,170.84 L137.16,171.95 L138.44,173.28 L139.73,174.81 L141.01,176.52 L142.30,178.40 L143.58,180.42 L144.86,182.55 L146.15,184.76 L147.43,187.03 L148.72,189.08 L150.00,191.74 L151.28,193.77 L152.57,196.59 L153.85,198.67 L155.14,201.65 L156.42,203.99 L157.70,206.74 L158.99,207.60 L160.27,209.67 L161.56,210.44 L162.84,213.21 L164.12,214.80 L165.41,214.79 L166.69,217.43 L167.98,217.61 L169.26,220.53 L170.54,222.40 L171.83,224.48 L173.11,223.21 L174.40,224.49 L175.68,223.55 L176.96,224.16 L178.25,224.14 L179.53,226.00 L180.82,224.85 L182.10,225.60 L183.38,225.36 L184.67,224.90 L185.95,226.75 L187.24,226.62 L188.52,226.52 L189.80,225.81 L191.09,226.41 L192.37,225.57" stroke="#1b9e77" stroke-width="0.65" fill="none" stroke-linejoin="round" stroke-linecap="round" opacity="0.9"/>
<path d="M21.60,221.84 L22.88,220.32 L24.17,218.84 L25.45,217.42 L26.74,216.09 L28.02,214.87 L29.30,213.78 L30.59,212.84 L31.87,212.07 L33.16,211.48 L34.44,211.08 L35.72,210.87 L37.01,210.93 L38.29,211.33 L39.58,212.04 L40.86,213.03 L42.14,214.26 L43.43,215.68 L44.71,217.23 L46.00,218.85 L47.28,220.49 L48.56,222.11 L49.85,223.66 L51.13,225.12 L52.42,226.45 L53.70,227.65 L54.98,228.70 L56.27,229.63 L57.55,230.42 L58.84,231.11 L60.12,231.70 L61.40,232.23 L62.69,232.70 L63.97,233.13 L65.26,233.55 L66.54,233.96 L67.82,234.38 L69.11,234.80 L70.39,235.24 L71.68,235.68 L72.96,236.13 L74.24,236.59 L75.53,237.04 L76.81,237.48 L78.10,237.91 L79.38,238.32 L80.66,238.70 L81.95,239.05 L83.23,239.36 L84.52,239.64 L85.80,239.89 L87.08,240.10 L88.37,240.27 L89.65,240.41 L90.94,240.37 L92.22,240.22 L93.50,240.03 L94.79,239.80 L96.07,239.53 L97.36,239.21 L98.64,238.82 L99.92,238.37 L101.21,237.83 L102.49,237.19 L103.78,236.43 L105.06,235.52 L106.34,234.45 L107.63,233.19 L108.91,231.70 L110.20,229.98 L111.48,227.98 L112.76,225.69 L114.05,223.09 L115.33,220.17 L116.62,216.94 L117.90,213.40 L119.18,209.57 L120.47,205.48 L121.75,201.20 L123.04,196.76 L124.32,192.26 L125.60,187.76 L126.89,183.37 L128.17,179.19 L129.46,175.30 L130.74,171.82 L132.02,168.82 L133.31,166.39 L134.59,164.59 L135.88,163.48 L137.16,163.05 L138.44,162.99 L139.73,163.13 L141.01,163.48 L142.30,164.02 L143.58,164.75 L144.86,165.67 L146.15,166.79 L147.43,168.14 L148.72,169.50 L150.00,171.01 L151.28,172.53 L152.57,174.06 L153.85,176.17 L155.14,177.86 L156.42,179.61 L157.70,181.41 L158.99,183.73 L160.27,185.69 L161.56,188.74 L162.84,191.17 L164.12,192.90 L165.41,194.75 L166.69,196.55 L167.98,198.65 L169.26,201.13 L170.54,202.91 L171.83,204.79 L173.11,205.85 L174.40,207.67 L175.68,208.55 L176.96,209.88 L178.25,211.34 L179.53,212.32 L180.82,212.89 L182.10,214.37 L183.38,215.96 L184.67,216.05 L185.95,217.17 L187.24,217.19 L188.52,217.99 L189.80,218.73 L191.09,218.69 L192.37,219.82" stroke="#7570b3" stroke-width="0.65" fill="none" stroke-linejoin="round" stroke-linecap="round" opacity="0.9"/>
<path d="M21.60,216.63 L22.88,214.51 L24.17,212.44 L25.45,210.46 L26.74,208.61 L28.02,206.92 L29.30,205.42 L30.59,204.13 L31.87,203.08 L33.16,202.29 L34.44,201.77 L35.72,201.54 L37.01,201.69 L38.29,202.33 L39.58,203.43 L40.86,204.94 L42.14,206.79 L43.43,208.93 L44.71,211.26 L46.00,213.72 L47.28,216.22 L48.56,218.71 L49.85,221.11 L51.13,223.37 L52.42,225.47 L53.70,227.38 L54.98,229.08 L56.27,230.57 L57.55,231.87 L58.84,232.98 L60.12,233.94 L61.40,234.76 L62.69,235.46 L63.97,236.08 L65.26,236.63 L66.54,237.13 L67.82,237.60 L69.11,238.05 L70.39,238.48 L71.68,238.91 L72.96,239.32 L74.24,239.73 L75.53,240.13 L76.81,240.51 L78.10,240.87 L79.38,241.21 L80.66,241.52 L81.95,241.80 L83.23,242.04 L84.52,242.25 L85.80,242.42 L87.08,242.54 L88.37,242.61 L89.65,242.63 L90.94,242.47 L92.22,242.20 L93.50,241.85 L94.79,241.41 L96.07,240.87 L97.36,240.20 L98.64,239.40 L99.92,238.43 L101.21,237.28 L102.49,235.91 L103.78,234.31 L105.06,232.44 L106.34,230.28 L107.63,227.81 L108.91,225.01 L110.20,221.87 L111.48,218.39 L112.76,214.56 L114.05,210.41 L115.33,205.96 L116.62,201.25 L117.90,196.34 L119.18,191.30 L120.47,186.19 L121.75,181.11 L123.04,176.15 L124.32,171.42 L125.60,167.00 L126.89,163.01 L128.17,159.53 L129.46,156.66 L130.74,154.44 L132.02,152.96 L133.31,152.23 L134.59,152.18 L135.88,152.62 L137.16,153.52 L138.44,154.87 L139.73,156.64 L141.01,158.80 L142.30,161.32 L143.58,164.15 L144.86,167.25 L146.15,170.58 L147.43,174.01 L148.72,177.67 L150.00,181.12 L151.28,185.09 L152.57,188.52 L153.85,192.43 L155.14,196.36 L156.42,199.72 L157.70,202.48 L158.99,206.23 L160.27,208.86 L161.56,211.02 L162.84,214.38 L164.12,216.53 L165.41,218.79 L166.69,220.54 L167.98,221.63 L169.26,223.32 L170.54,224.93 L171.83,226.39 L173.11,226.68 L174.40,228.05 L175.68,228.26 L176.96,228.14 L178.25,228.62 L179.53,228.70 L180.82,229.92 L182.10,230.00 L183.38,230.07 L184.67,230.87 L185.95,230.84 L187.24,230.98 L188.52,231.29 L189.80,231.06 L191.09,231.32 L192.37,230.24" stroke="#1b9e77" stroke-width="0.65" fill="none" stroke-linejoin="round" stroke-linecap="round" opacity="0.9"/>
<path d="M21.60,230.17 L22.88,229.26 L24.17,228.38 L25.45,227.52 L26.74,226.71 L28.02,225.97 L29.30,225.29 L30.59,224.69 L31.87,224.19 L33.16,223.77 L34.44,223.45 L35.72,223.22 L37.01,223.14 L38.29,223.23 L39.58,223.47 L40.86,223.86 L42.14,224.35 L43.43,224.92 L44.71,225.54 L46.00,226.17 L47.28,226.79 L48.56,227.37 L49.85,227.89 L51.13,228.35 L52.42,228.73 L53.70,229.03 L54.98,229.27 L56.27,229.46 L57.55,229.61 L58.84,229.75 L60.12,229.89 L61.40,230.04 L62.69,230.24 L63.97,230.49 L65.26,230.79 L66.54,231.17 L67.82,231.61 L69.11,232.11 L70.39,232.68 L71.68,233.29 L72.96,233.94 L74.24,234.60 L75.53,235.28 L76.81,235.96 L78.10,236.61 L79.38,237.24 L80.66,237.83 L81.95,238.38 L83.23,238.88 L84.52,239.32 L85.80,239.71 L87.08,240.05 L88.37,240.34 L89.65,240.57 L90.94,240.61 L92.22,240.53 L93.50,240.41 L94.79,240.23 L96.07,240.00 L97.36,239.72 L98.64,239.37 L99.92,238.95 L101.21,238.43 L102.49,237.81 L103.78,237.06 L105.06,236.15 L106.34,235.07 L107.63,233.77 L108.91,232.23 L110.20,230.42 L111.48,228.31 L112.76,225.87 L114.05,223.09 L115.33,219.94 L116.62,216.43 L117.90,212.58 L119.18,208.41 L120.47,203.96 L121.75,199.30 L123.04,194.49 L124.32,189.63 L125.60,184.82 L126.89,180.18 L128.17,175.81 L129.46,171.84 L130.74,168.38 L132.02,165.53 L133.31,163.37 L134.59,161.96 L135.88,161.34 L137.16,161.23 L138.44,161.30 L139.73,161.58 L141.01,162.03 L142.30,162.68 L143.58,163.49 L144.86,164.48 L146.15,165.69 L147.43,167.02 L148.72,168.52 L150.00,169.84 L151.28,171.35 L152.57,173.71 L153.85,175.60 L155.14,178.42 L156.42,179.36 L157.70,180.13 L158.99,183.08 L160.27,184.34 L161.56,187.09 L162.84,188.17 L164.12,189.59 L165.41,192.21 L166.69,195.11 L167.98,196.68 L169.26,200.31 L170.54,202.98 L171.83,204.80 L173.11,206.63 L174.40,206.88 L175.68,208.67 L176.96,208.40 L178.25,208.40 L179.53,209.60 L180.82,210.34 L182.10,213.10 L183.38,214.66 L184.67,217.08 L185.95,216.22 L187.24,216.52 L188.52,216.05 L189.80,216.85 L191.09,216.41 L192.37,216.79" stroke="#7570b3" stroke-width="0.65" fill="none" stroke-linejoin="round" stroke-linecap="round" opacity="0.9"/>
<path d="M21.60,224.25 L22.88,222.98 L24.17,221.74 L25.45,220.55 L26.74,219.43 L28.02,218.41 L29.30,217.49 L30.59,216.70 L31.87,216.05 L33.16,215.54 L34.44,215.18 L35.72,214.98 L37.01,215.01 L38.29,215.30 L39.58,215.86 L40.86,216.64 L42.14,217.62 L43.43,218.74 L44.71,219.96 L46.00,221.24 L47.28,222.53 L48.56,223.79 L49.85,225.00 L51.13,226.12 L52.42,227.13 L53.70,228.04 L54.98,228.84 L56.27,229.52 L57.55,230.11 L58.84,230.62 L60.12,231.07 L61.40,231.47 L62.69,231.85 L63.97,232.21 L65.26,232.57 L66.54,232.94 L67.82,233.34 L69.11,233.75 L70.39,234.18 L71.68,234.64 L72.96,235.10 L74.24,235.57 L75.53,236.05 L76.81,236.51 L78.10,236.96 L79.38,237.39 L80.66,237.79 L81.95,238.16 L83.23,238.50 L84.52,238.80 L85.80,239.06 L87.08,239.29 L88.37,239.48 L89.65,239.64 L90.94,239.65 L92.22,239.57 L93.50,239.46 L94.79,239.31 L96.07,239.12 L97.36,238.88 L98.64,238.59 L99.92,238.24 L101.21,237.81 L102.49,237.28 L103.78,236.65 L105.06,235.87 L106.34,234.94 L107.63,233.81 L108.91,232.46 L110.20,230.86 L111.48,228.98 L112.76,226.79 L114.05,224.27 L115.33,221.42 L116.62,218.22 L117.90,214.67 L119.18,210.82 L120.47,206.68 L121.75,202.31 L123.04,197.78 L124.32,193.18 L125.60,188.59 L126.89,184.13 L128.17,179.90 L129.46,176.02 L130.74,172.60 L132.02,169.74 L133.31,167.52 L134.59,166.00 L135.88,165.24 L137.16,165.13 L138.44,165.30 L139.73,165.76 L141.01,166.48 L142.30,167.45 L143.58,168.67 L144.86,170.11 L146.15,171.74 L147.43,173.54 L148.72,175.54 L150.00,177.62 L151.28,179.75 L152.57,182.44 L153.85,185.15 L155.14,187.68 L156.42,190.49 L157.70,192.50 L158.99,195.41 L160.27,197.43 L161.56,199.56 L162.84,201.54 L164.12,203.50 L165.41,205.85 L166.69,208.49 L167.98,209.75 L169.26,211.54 L170.54,213.38 L171.83,214.51 L173.11,215.75 L174.40,217.26 L175.68,218.85 L176.96,220.42 L178.25,221.88 L179.53,223.05 L180.82,224.01 L182.10,223.86 L183.38,224.72 L184.67,224.57 L185.95,225.18 L187.24,225.76 L188.52,225.09 L189.80,225.58 L191.09,226.29 L192.37,225.95" stroke="#1b9e77" stroke-width="0.65" fill="none" stroke-linejoin="round" stroke-linecap="round" opacity="0.9"/>
<path d="M21.60,228.84 L22.88,227.92 L24.17,227.02 L25.45,226.17 L26.74,225.36 L28.02,224.62 L29.30,223.96 L30.59,223.40 L31.87,222.93 L33.16,222.58 L34.44,222.34 L35.72,222.22 L37.01,222.26 L38.29,222.50 L39.58,222.94 L40.86,223.55 L42.14,224.30 L43.43,225.17 L44.71,226.12 L46.00,227.11 L47.28,228.12 L48.56,229.12 L49.85,230.07 L51.13,230.97 L52.42,231.79 L53.70,232.53 L54.98,233.18 L56.27,233.75 L57.55,234.25 L58.84,234.67 L60.12,235.04 L61.40,235.36 L62.69,235.65 L63.97,235.92 L65.26,236.17 L66.54,236.41 L67.82,236.66 L69.11,236.90 L70.39,237.16 L71.68,237.41 L72.96,237.67 L74.24,237.93 L75.53,238.19 L76.81,238.45 L78.10,238.69 L79.38,238.92 L80.66,239.14 L81.95,239.34 L83.23,239.52 L84.52,239.68 L85.80,239.82 L87.08,239.95 L88.37,240.05 L89.65,240.14 L90.94,240.07 L92.22,239.91 L93.50,239.73 L94.79,239.54 L96.07,239.33 L97.36,239.10 L98.64,238.85 L99.92,238.58 L101.21,238.28 L102.49,237.94 L103.78,237.55 L105.06,237.11 L106.34,236.59 L107.63,235.99 L108.91,235.28 L110.20,234.44 L111.48,233.45 L112.76,232.29 L114.05,230.94 L115.33,229.37 L116.62,227.57 L117.90,225.52 L119.18,223.20 L120.47,220.62 L121.75,217.78 L123.04,214.70 L124.32,211.41 L125.60,207.94 L126.89,204.35 L128.17,200.71 L129.46,197.07 L130.74,193.53 L132.02,190.17 L133.31,187.07 L134.59,184.31 L135.88,181.97 L137.16,180.12 L138.44,178.81 L139.73,178.07 L141.01,177.85 L142.30,177.84 L143.58,178.02 L144.86,178.38 L146.15,178.91 L147.43,179.64 L148.72,180.50 L150.00,181.32 L151.28,182.22 L152.57,183.44 L153.85,185.05 L155.14,186.71 L156.42,188.05 L157.70,189.99 L158.99,191.23 L160.27,193.31 L161.56,194.93 L162.84,196.67 L164.12,198.38 L165.41,199.63 L166.69,200.95 L167.98,202.52 L169.26,204.25 L170.54,206.21 L171.83,207.93 L173.11,209.36 L174.40,210.14 L175.68,211.20 L176.96,213.15 L178.25,214.48 L179.53,215.86 L180.82,216.65 L182.10,216.64 L183.38,217.16 L184.67,218.54 L185.95,218.51 L187.24,218.83 L188.52,219.36 L189.80,220.41 L191.09,221.15 L192.37,221.58" stroke="#7570b3" stroke-width="0.65" fill="none" stroke-linejoin="round" stroke-linecap="round" opacity="0.9"/>
<path d="M21.60,221.34 L22.88,219.65 L24.17,218.02 L25.45,216.45 L26.74,214.98 L28.02,213.63 L29.30,212.44 L30.59,211.41 L31.87,210.57 L33.16,209.93 L34.44,209.50 L35.72,209.29 L37.01,209.38 L38.29,209.85 L39.58,210.68 L40.86,211.82 L42.14,213.24 L43.43,214.86 L44.71,216.64 L46.00,218.51 L47.28,220.41 L48.56,222.28 L49.85,224.09 L51.13,225.79 L52.42,227.35 L53.70,228.76 L54.98,230.02 L56.27,231.12 L57.55,232.07 L58.84,232.89 L60.12,233.59 L61.40,234.20 L62.69,234.74 L63.97,235.23 L65.26,235.68 L66.54,236.10 L67.82,236.52 L69.11,236.94 L70.39,237.35 L71.68,237.77 L72.96,238.19 L74.24,238.61 L75.53,239.02 L76.81,239.42 L78.10,239.81 L79.38,240.17 L80.66,240.51 L81.95,240.83 L83.23,241.11 L84.52,241.36 L85.80,241.58 L87.08,241.76 L88.37,241.91 L89.65,242.03 L90.94,241.97 L92.22,241.81 L93.50,241.60 L94.79,241.35 L96.07,241.06 L97.36,240.71 L98.64,240.29 L99.92,239.80 L101.21,239.20 L102.49,238.49 L103.78,237.64 L105.06,236.62 L106.34,235.40 L107.63,233.95 L108.91,232.23 L110.20,230.22 L111.48,227.88 L112.76,225.17 L114.05,222.08 L115.33,218.59 L116.62,214.69 L117.90,210.39 L119.18,205.71 L120.47,200.68 L121.75,195.35 L123.04,189.79 L124.32,184.09 L125.60,178.35 L126.89,172.68 L128.17,167.20 L129.46,162.04 L130.74,157.32 L132.02,153.16 L133.31,149.68 L134.59,146.96 L135.88,145.08 L137.16,144.09 L138.44,143.88 L139.73,143.98 L141.01,144.34 L142.30,144.97 L143.58,145.86 L144.86,146.99 L146.15,148.31 L147.43,149.77 L148.72,151.74 L150.00,153.42 L151.28,155.71 L152.57,157.85 L153.85,160.96 L155.14,163.61 L156.42,166.55 L157.70,170.26 L158.99,171.26 L160.27,173.84 L161.56,177.59 L162.84,178.65 L164.12,182.59 L165.41,185.71 L166.69,188.95 L167.98,192.31 L169.26,194.44 L170.54,197.23 L171.83,198.09 L173.11,200.22 L174.40,202.70 L175.68,205.09 L176.96,205.71 L178.25,207.40 L179.53,210.74 L180.82,212.94 L182.10,214.35 L183.38,214.34 L184.67,215.51 L185.95,215.44 L187.24,216.04 L188.52,218.06 L189.80,217.77 L191.09,220.13 L192.37,218.74" stroke="#7570b3" stroke-width="0.65" fill="none" stroke-linejoin="round" stroke-linecap="round" opacity="0.9"/>
<path d="M21.60,230.71 L22.88,229.71 L24.17,228.73 L25.45,227.79 L26.74,226.91 L28.02,226.09 L29.30,225.34 L30.59,224.69 L31.87,224.14 L33.16,223.68 L34.44,223.34 L35.72,223.10 L37.01,223.02 L38.29,223.13 L39.58,223.42 L40.86,223.87 L42.14,224.44 L43.43,225.10 L44.71,225.81 L46.00,226.54 L47.28,227.26 L48.56,227.94 L49.85,228.56 L51.13,229.10 L52.42,229.56 L53.70,229.94 L54.98,230.25 L56.27,230.49 L57.55,230.69 L58.84,230.87 L60.12,231.04 L61.40,231.23 L62.69,231.46 L63.97,231.73 L65.26,232.06 L66.54,232.46 L67.82,232.93 L69.11,233.46 L70.39,234.05 L71.68,234.68 L72.96,235.36 L74.24,236.05 L75.53,236.76 L76.81,237.46 L78.10,238.14 L79.38,238.79 L80.66,239.40 L81.95,239.95 L83.23,240.45 L84.52,240.87 L85.80,241.21 L87.08,241.43 L88.37,241.52 L89.65,241.44 L90.94,241.05 L92.22,240.40 L93.50,239.61 L94.79,238.74 L96.07,237.88 L97.36,237.12 L98.64,236.54 L99.92,236.14 L101.21,235.89 L102.49,235.69 L103.78,235.43 L105.06,235.00 L106.34,234.30 L107.63,233.27 L108.91,231.91 L110.20,230.20 L111.48,228.15 L112.76,225.79 L114.05,223.14 L115.33,220.19 L116.62,216.99 L117.90,213.54 L119.18,209.90 L120.47,206.09 L121.75,202.18 L123.04,198.23 L124.32,194.30 L125.60,190.48 L126.89,186.84 L128.17,183.46 L129.46,180.44 L130.74,177.82 L132.02,175.69 L133.31,174.10 L134.59,173.08 L135.88,172.65 L137.16,172.58 L138.44,172.72 L139.73,173.07 L141.01,173.63 L142.30,174.39 L143.58,175.34 L144.86,176.46 L146.15,177.75 L147.43,179.13 L148.72,180.54 L150.00,182.33 L151.28,183.87 L152.57,185.71 L153.85,187.59 L155.14,189.37 L156.42,191.19 L157.70,194.07 L158.99,195.92 L160.27,197.85 L161.56,199.71 L162.84,202.00 L164.12,203.23 L165.41,205.74 L166.69,207.00 L167.98,209.27 L169.26,211.36 L170.54,213.16 L171.83,213.59 L173.11,215.55 L174.40,216.78 L175.68,217.26 L176.96,218.51 L178.25,218.67 L179.53,219.19 L180.82,220.29 L182.10,220.81 L183.38,221.11 L184.67,221.66 L185.95,221.75 L187.24,222.80 L188.52,223.15 L189.80,223.89 L191.09,224.67 L192.37,224.16" stroke="#7570b3" stroke-width="0.65" fill="none" stroke-linejoin="round" stroke-linecap="round" opacity="0.9"/>
<path d="M21.60,213.45 L22.88,211.15 L24.17,208.91 L25.45,206.77 L26.74,204.76 L28.02,202.91 L29.30,201.26 L30.59,199.83 L31.87,198.65 L33.16,197.74 L34.44,197.11 L35.72,196.77 L37.01,196.82 L38.29,197.38 L39.58,198.41 L40.86,199.85 L42.14,201.64 L43.43,203.70 L44.71,205.95 L46.00,208.31 L47.28,210.69 L48.56,213.03 L49.85,215.26 L51.13,217.34 L52.42,219.23 L53.70,220.93 L54.98,222.41 L56.27,223.70 L57.55,224.81 L58.84,225.77 L60.12,226.61 L61.40,227.36 L62.69,228.04 L63.97,228.70 L65.26,229.34 L66.54,230.00 L67.82,230.68 L69.11,231.40 L70.39,232.14 L71.68,232.91 L72.96,233.70 L74.24,234.50 L75.53,235.29 L76.81,236.08 L78.10,236.83 L79.38,237.55 L80.66,238.22 L81.95,238.83 L83.23,239.38 L84.52,239.87 L85.80,240.28 L87.08,240.63 L88.37,240.90 L89.65,241.10 L90.94,241.11 L92.22,241.00 L93.50,240.80 L94.79,240.51 L96.07,240.13 L97.36,239.64 L98.64,239.04 L99.92,238.30 L101.21,237.40 L102.49,236.33 L103.78,235.07 L105.06,233.59 L106.34,231.87 L107.63,229.88 L108.91,227.61 L110.20,225.04 L111.48,222.15 L112.76,218.94 L114.05,215.41 L115.33,211.57 L116.62,207.44 L117.90,203.05 L119.18,198.45 L120.47,193.68 L121.75,188.81 L123.04,183.91 L124.32,179.07 L125.60,174.37 L126.89,169.91 L128.17,165.77 L129.46,162.04 L130.74,158.80 L132.02,156.14 L133.31,154.10 L134.59,152.74 L135.88,152.08 L137.16,152.07 L138.44,152.54 L139.73,153.47 L141.01,154.85 L142.30,156.65 L143.58,158.85 L144.86,161.39 L146.15,164.27 L147.43,167.46 L148.72,171.12 L150.00,174.57 L151.28,177.45 L152.57,181.13 L153.85,183.98 L155.14,188.31 L156.42,191.72 L157.70,195.26 L158.99,198.57 L160.27,200.97 L161.56,205.13 L162.84,209.46 L164.12,211.66 L165.41,213.86 L166.69,216.34 L167.98,216.92 L169.26,220.65 L170.54,221.29 L171.83,222.10 L173.11,223.93 L174.40,224.60 L175.68,224.50 L176.96,225.33 L178.25,225.33 L179.53,227.36 L180.82,229.09 L182.10,228.79 L183.38,230.47 L184.67,229.22 L185.95,229.92 L187.24,229.80 L188.52,229.14 L189.80,230.67 L191.09,231.31 L192.37,229.61" stroke="#1b9e77" stroke-width="0.65" fill="none" stroke-linejoin="round" stroke-linecap="round" opacity="0.9"/>
<path d="M21.60,220.60 L22.88,218.77 L24.17,216.99 L25.45,215.28 L26.74,213.67 L28.02,212.20 L29.30,210.89 L30.59,209.75 L31.87,208.81 L33.16,208.09 L34.44,207.59 L35.72,207.31 L37.01,207.36 L38.29,207.80 L39.58,208.62 L40.86,209.77 L42.14,211.20 L43.43,212.84 L44.71,214.64 L46.00,216.51 L47.28,218.41 L48.56,220.28 L49.85,222.05 L51.13,223.71 L52.42,225.22 L53.70,226.57 L54.98,227.76 L56.27,228.79 L57.55,229.68 L58.84,230.44 L60.12,231.11 L61.40,231.70 L62.69,232.25 L63.97,232.77 L65.26,233.29 L66.54,233.81 L67.82,234.35 L69.11,234.92 L70.39,235.51 L71.68,236.12 L72.96,236.75 L74.24,237.39 L75.53,238.02 L76.81,238.64 L78.10,239.25 L79.38,239.82 L80.66,240.36 L81.95,240.85 L83.23,241.30 L84.52,241.71 L85.80,242.06 L87.08,242.36 L88.37,242.62 L89.65,242.83 L90.94,242.86 L92.22,242.77 L93.50,242.64 L94.79,242.48 L96.07,242.27 L97.36,242.02 L98.64,241.73 L99.92,241.38 L101.21,240.98 L102.49,240.51 L103.78,239.95 L105.06,239.30 L106.34,238.54 L107.63,237.63 L108.91,236.58 L110.20,235.34 L111.48,233.90 L112.76,232.22 L114.05,230.29 L115.33,228.08 L116.62,225.56 L117.90,222.73 L119.18,219.58 L120.47,216.08 L121.75,212.26 L123.04,208.13 L124.32,203.71 L125.60,199.05 L126.89,194.18 L128.17,189.17 L129.46,184.10 L130.74,179.04 L132.02,174.08 L133.31,169.31 L134.59,164.84 L135.88,160.75 L137.16,157.14 L138.44,154.08 L139.73,151.65 L141.01,149.90 L142.30,148.87 L143.58,148.54 L144.86,148.53 L146.15,148.83 L147.43,149.49 L148.72,150.14 L150.00,151.38 L151.28,152.61 L152.57,154.21 L153.85,155.08 L155.14,157.54 L156.42,157.69 L157.70,159.55 L158.99,161.21 L160.27,163.70 L161.56,166.35 L162.84,167.42 L164.12,169.33 L165.41,171.72 L166.69,176.71 L167.98,178.93 L169.26,180.14 L170.54,182.83 L171.83,185.81 L173.11,188.11 L174.40,191.91 L175.68,193.31 L176.96,194.82 L178.25,198.81 L179.53,200.58 L180.82,202.09 L182.10,204.46 L183.38,205.47 L184.67,205.91 L185.95,206.78 L187.24,209.73 L188.52,212.48 L189.80,212.31 L191.09,213.38 L192.37,213.68" stroke="#7570b3" stroke-width="0.65" fill="none" stroke-linejoin="round" stroke-linecap="round" opacity="0.9"/>
<path d="M21.60,220.53 L22.88,218.79 L24.17,217.09 L25.45,215.46 L26.74,213.93 L28.02,212.51 L29.30,211.24 L30.59,210.14 L31.87,209.22 L33.16,208.48 L34.44,207.95 L35.72,207.63 L37.01,207.59 L38.29,207.91 L39.58,208.57 L40.86,209.53 L42.14,210.73 L43.43,212.11 L44.71,213.62 L46.00,215.18 L47.28,216.75 L48.56,218.26 L49.85,219.69 L51.13,220.99 L52.42,222.15 L53.70,223.17 L54.98,224.04 L56.27,224.78 L57.55,225.41 L58.84,225.95 L60.12,226.45 L61.40,226.91 L62.69,227.37 L63.97,227.86 L65.26,228.39 L66.54,228.97 L67.82,229.62 L69.11,230.32 L70.39,231.08 L71.68,231.89 L72.96,232.74 L74.24,233.61 L75.53,234.48 L76.81,235.35 L78.10,236.18 L79.38,236.98 L80.66,237.73 L81.95,238.42 L83.23,239.04 L84.52,239.59 L85.80,240.07 L87.08,240.47 L88.37,240.79 L89.65,241.02 L90.94,241.07 L92.22,240.96 L93.50,240.76 L94.79,240.44 L96.07,240.00 L97.36,239.41 L98.64,238.64 L99.92,237.67 L101.21,236.46 L102.49,234.97 L103.78,233.16 L105.06,230.99 L106.34,228.42 L107.63,225.42 L108.91,221.96 L110.20,218.03 L111.48,213.62 L112.76,208.76 L114.05,203.48 L115.33,197.85 L116.62,191.95 L117.90,185.88 L119.18,179.78 L120.47,173.79 L121.75,168.05 L123.04,162.73 L124.32,157.99 L125.60,153.97 L126.89,150.80 L128.17,148.58 L129.46,147.39 L130.74,147.15 L132.02,147.38 L133.31,147.99 L134.59,148.96 L135.88,150.29 L137.16,151.95 L138.44,153.93 L139.73,156.20 L141.01,158.72 L142.30,161.47 L143.58,164.41 L144.86,167.52 L146.15,170.74 L147.43,173.98 L148.72,177.34 L150.00,180.78 L151.28,184.50 L152.57,188.06 L153.85,191.06 L155.14,193.97 L156.42,197.05 L157.70,200.70 L158.99,203.04 L160.27,205.26 L161.56,207.51 L162.84,209.85 L164.12,212.16 L165.41,214.70 L166.69,216.85 L167.98,218.96 L169.26,220.10 L170.54,221.66 L171.83,222.34 L173.11,223.91 L174.40,225.10 L175.68,226.33 L176.96,227.01 L178.25,226.88 L179.53,226.89 L180.82,226.87 L182.10,228.21 L183.38,228.16 L184.67,228.35 L185.95,228.80 L187.24,228.24 L188.52,228.27 L189.80,228.81 L191.09,228.37 L192.37,228.64" stroke="#1b9e77" stroke-width="0.65" fill="none" stroke-linejoin="round" stroke-linecap="round" opacity="0.9"/>
<path d="M21.60,222.07 L22.88,220.43 L24.17,218.83 L25.45,217.31 L26.74,215.87 L28.02,214.56 L29.30,213.39 L30.59,212.39 L31.87,211.56 L33.16,210.94 L34.44,210.51 L35.72,210.30 L37.01,210.38 L38.29,210.83 L39.58,211.62 L40.86,212.72 L42.14,214.08 L43.43,215.64 L44.71,217.35 L46.00,219.14 L47.28,220.96 L48.56,222.76 L49.85,224.49 L51.13,226.11 L52.42,227.60 L53.70,228.95 L54.98,230.14 L56.27,231.18 L57.55,232.08 L58.84,232.86 L60.12,233.53 L61.40,234.12 L62.69,234.63 L63.97,235.11 L65.26,235.55 L66.54,235.97 L67.82,236.39 L69.11,236.82 L70.39,237.25 L71.68,237.68 L72.96,238.12 L74.24,238.55 L75.53,238.98 L76.81,239.41 L78.10,239.81 L79.38,240.19 L80.66,240.55 L81.95,240.88 L83.23,241.17 L84.52,241.42 L85.80,241.64 L87.08,241.82 L88.37,241.95 L89.65,242.05 L90.94,241.98 L92.22,241.81 L93.50,241.58 L94.79,241.29 L96.07,240.92 L97.36,240.47 L98.64,239.91 L99.92,239.22 L101.21,238.39 L102.49,237.39 L103.78,236.20 L105.06,234.79 L106.34,233.12 L107.63,231.18 L108.91,228.93 L110.20,226.36 L111.48,223.45 L112.76,220.20 L114.05,216.61 L115.33,212.69 L116.62,208.47 L117.90,204.00 L119.18,199.32 L120.47,194.51 L121.75,189.66 L123.04,184.84 L124.32,180.17 L125.60,175.75 L126.89,171.67 L128.17,168.06 L129.46,164.99 L130.74,162.56 L132.02,160.82 L133.31,159.82 L134.59,159.56 L135.88,159.76 L137.16,160.36 L138.44,161.35 L139.73,162.70 L141.01,164.41 L142.30,166.42 L143.58,168.73 L144.86,171.28 L146.15,174.05 L147.43,176.92 L148.72,180.04 L150.00,183.26 L151.28,186.45 L152.57,189.44 L153.85,192.72 L155.14,196.15 L156.42,198.86 L157.70,201.39 L158.99,204.73 L160.27,207.85 L161.56,210.81 L162.84,212.63 L164.12,214.28 L165.41,216.45 L166.69,217.80 L167.98,219.96 L169.26,221.42 L170.54,222.50 L171.83,223.87 L173.11,224.98 L174.40,226.47 L175.68,227.11 L176.96,227.46 L178.25,227.78 L179.53,227.94 L180.82,229.10 L182.10,228.93 L183.38,229.23 L184.67,229.07 L185.95,229.09 L187.24,228.59 L188.52,229.13 L189.80,229.55 L191.09,230.07 L192.37,229.12" stroke="#1b9e77" stroke-width="0.65" fill="none" stroke-linejoin="round" stroke-linecap="round" opacity="0.9"/>
<path d="M21.60,226.62 L22.88,225.32 L24.17,224.05 L25.45,222.83 L26.74,221.69 L28.02,220.64 L29.30,219.70 L30.59,218.89 L31.87,218.22 L33.16,217.71 L34.44,217.36 L35.72,217.17 L37.01,217.20 L38.29,217.53 L39.58,218.12 L40.86,218.95 L42.14,219.98 L43.43,221.17 L44.71,222.47 L46.00,223.82 L47.28,225.19 L48.56,226.54 L49.85,227.83 L51.13,229.04 L52.42,230.14 L53.70,231.12 L54.98,231.99 L56.27,232.74 L57.55,233.39 L58.84,233.95 L60.12,234.43 L61.40,234.87 L62.69,235.26 L63.97,235.63 L65.26,236.00 L66.54,236.37 L67.82,236.74 L69.11,237.13 L70.39,237.54 L71.68,237.96 L72.96,238.39 L74.24,238.82 L75.53,239.25 L76.81,239.67 L78.10,240.08 L79.38,240.47 L80.66,240.83 L81.95,241.17 L83.23,241.47 L84.52,241.73 L85.80,241.96 L87.08,242.16 L88.37,242.31 L89.65,242.44 L90.94,242.38 L92.22,242.21 L93.50,242.01 L94.79,241.76 L96.07,241.47 L97.36,241.13 L98.64,240.74 L99.92,240.28 L101.21,239.74 L102.49,239.12 L103.78,238.40 L105.06,237.55 L106.34,236.58 L107.63,235.45 L108.91,234.15 L110.20,232.65 L111.48,230.94 L112.76,229.00 L114.05,226.82 L115.33,224.38 L116.62,221.67 L117.90,218.69 L119.18,215.45 L120.47,211.96 L121.75,208.23 L123.04,204.29 L124.32,200.18 L125.60,195.95 L126.89,191.65 L128.17,187.33 L129.46,183.08 L130.74,178.95 L132.02,175.03 L133.31,171.38 L134.59,168.07 L135.88,165.19 L137.16,162.77 L138.44,160.88 L139.73,159.55 L141.01,158.81 L142.30,158.60 L143.58,158.64 L144.86,158.91 L146.15,159.39 L147.43,160.07 L148.72,161.04 L150.00,162.00 L151.28,163.14 L152.57,164.38 L153.85,165.80 L155.14,168.30 L156.42,170.00 L157.70,172.27 L158.99,174.51 L160.27,176.58 L161.56,179.29 L162.84,181.70 L164.12,183.03 L165.41,185.70 L166.69,187.39 L167.98,189.63 L169.26,192.38 L170.54,194.88 L171.83,196.79 L173.11,198.60 L174.40,200.95 L175.68,203.48 L176.96,205.52 L178.25,206.40 L179.53,207.71 L180.82,209.93 L182.10,210.75 L183.38,212.08 L184.67,213.65 L185.95,214.19 L187.24,215.96 L188.52,217.39 L189.80,218.18 L191.09,218.34 L192.37,218.92" stroke="#7570b3" stroke-width="0.65" fill="none" stroke-linejoin="round" stroke-linecap="round" opacity="0.9"/>
<path d="M21.60,220.22 L22.88,218.34 L24.17,216.52 L25.45,214.78 L26.74,213.15 L28.02,211.66 L29.30,210.33 L30.59,209.20 L31.87,208.29 L33.16,207.61 L34.44,207.17 L35.72,206.98 L37.01,207.15 L38.29,207.75 L39.58,208.75 L40.86,210.13 L42.14,211.82 L43.43,213.76 L44.71,215.89 L46.00,218.14 L47.28,220.43 L48.56,222.71 L49.85,224.91 L51.13,227.01 L52.42,228.95 L53.70,230.72 L54.98,232.31 L56.27,233.71 L57.55,234.93 L58.84,235.97 L60.12,236.86 L61.40,237.62 L62.69,238.26 L63.97,238.81 L65.26,239.28 L66.54,239.69 L67.82,240.07 L69.11,240.41 L70.39,240.72 L71.68,241.02 L72.96,241.31 L74.24,241.58 L75.53,241.84 L76.81,242.09 L78.10,242.32 L79.38,242.54 L80.66,242.74 L81.95,242.92 L83.23,243.09 L84.52,243.22 L85.80,243.34 L87.08,243.43 L88.37,243.49 L89.65,243.52 L90.94,243.41 L92.22,243.21 L93.50,242.96 L94.79,242.65 L96.07,242.29 L97.36,241.84 L98.64,241.29 L99.92,240.64 L101.21,239.84 L102.49,238.89 L103.78,237.74 L105.06,236.38 L106.34,234.76 L107.63,232.88 L108.91,230.69 L110.20,228.18 L111.48,225.32 L112.76,222.12 L114.05,218.57 L115.33,214.69 L116.62,210.50 L117.90,206.05 L119.18,201.39 L120.47,196.59 L121.75,191.73 L123.04,186.92 L124.32,182.25 L125.60,177.84 L126.89,173.79 L128.17,170.20 L129.46,167.18 L130.74,164.80 L132.02,163.13 L133.31,162.22 L134.59,162.04 L135.88,162.31 L137.16,163.00 L138.44,164.09 L139.73,165.55 L141.01,167.37 L142.30,169.51 L143.58,171.93 L144.86,174.60 L146.15,177.50 L147.43,180.55 L148.72,183.90 L150.00,187.49 L151.28,191.01 L152.57,193.53 L153.85,197.65 L155.14,201.61 L156.42,203.20 L157.70,206.85 L158.99,209.06 L160.27,212.57 L161.56,215.73 L162.84,216.98 L164.12,219.99 L165.41,221.22 L166.69,223.92 L167.98,225.90 L169.26,227.20 L170.54,227.69 L171.83,227.41 L173.11,228.21 L174.40,229.09 L175.68,227.93 L176.96,228.36 L178.25,229.11 L179.53,229.19 L180.82,230.26 L182.10,229.05 L183.38,229.09 L184.67,230.38 L185.95,230.92 L187.24,232.51 L188.52,231.14 L189.80,229.87 L191.09,230.62 L192.37,232.16" stroke="#1b9e77" stroke-width="0.65" fill="none" stroke-linejoin="round" stroke-linecap="round" opacity="0.9"/>
<path d="M21.60,223.37 L22.88,222.06 L24.17,220.79 L25.45,219.58 L26.74,218.44 L28.02,217.39 L29.30,216.46 L30.59,215.66 L31.87,215.00 L33.16,214.50 L34.44,214.16 L35.72,213.99 L37.01,214.05 L38.29,214.41 L39.58,215.03 L40.86,215.90 L42.14,216.97 L43.43,218.21 L44.71,219.56 L46.00,220.98 L47.28,222.42 L48.56,223.84 L49.85,225.21 L51.13,226.49 L52.42,227.66 L53.70,228.72 L54.98,229.66 L56.27,230.48 L57.55,231.19 L58.84,231.80 L60.12,232.33 L61.40,232.79 L62.69,233.20 L63.97,233.57 L65.26,233.93 L66.54,234.27 L67.82,234.61 L69.11,234.96 L70.39,235.30 L71.68,235.66 L72.96,236.02 L74.24,236.37 L75.53,236.73 L76.81,237.07 L78.10,237.40 L79.38,237.71 L80.66,238.00 L81.95,238.26 L83.23,238.49 L84.52,238.68 L85.80,238.83 L87.08,238.94 L88.37,239.01 L89.65,239.02 L90.94,238.87 L92.22,238.59 L93.50,238.23 L94.79,237.78 L96.07,237.23 L97.36,236.54 L98.64,235.71 L99.92,234.70 L101.21,233.48 L102.49,232.03 L103.78,230.32 L105.06,228.31 L106.34,225.98 L107.63,223.30 L108.91,220.26 L110.20,216.84 L111.48,213.04 L112.76,208.88 L114.05,204.36 L115.33,199.55 L116.62,194.47 L117.90,189.21 L119.18,183.85 L120.47,178.48 L121.75,173.20 L123.04,168.14 L124.32,163.40 L125.60,159.10 L126.89,155.34 L128.17,152.23 L129.46,149.84 L130.74,148.25 L132.02,147.48 L133.31,147.45 L134.59,147.90 L135.88,148.83 L137.16,150.20 L138.44,152.00 L139.73,154.19 L141.01,156.74 L142.30,159.61 L143.58,162.75 L144.86,166.11 L146.15,169.67 L147.43,173.37 L148.72,177.06 L150.00,180.87 L151.28,184.69 L152.57,188.04 L153.85,192.11 L155.14,195.35 L156.42,198.18 L157.70,201.09 L158.99,203.81 L160.27,206.92 L161.56,210.35 L162.84,212.44 L164.12,215.23 L165.41,217.07 L166.69,218.42 L167.98,219.35 L169.26,220.48 L170.54,222.44 L171.83,222.82 L173.11,223.45 L174.40,223.79 L175.68,225.30 L176.96,225.15 L178.25,225.53 L179.53,226.46 L180.82,227.17 L182.10,226.97 L183.38,227.49 L184.67,227.93 L185.95,227.45 L187.24,227.08 L188.52,227.49 L189.80,226.94 L191.09,227.01 L192.37,226.63" stroke="#1b9e77" stroke-width="0.65" fill="none" stroke-linejoin="round" stroke-linecap="round" opacity="0.9"/>
<path d="M21.60,229.09 L22.88,228.07 L24.17,227.07 L25.45,226.11 L26.74,225.21 L28.02,224.38 L29.30,223.65 L30.59,223.01 L31.87,222.49 L33.16,222.09 L34.44,221.81 L35.72,221.66 L37.01,221.69 L38.29,221.95 L39.58,222.42 L40.86,223.08 L42.14,223.89 L43.43,224.83 L44.71,225.85 L46.00,226.92 L47.28,228.01 L48.56,229.07 L49.85,230.10 L51.13,231.05 L52.42,231.92 L53.70,232.70 L54.98,233.39 L56.27,233.98 L57.55,234.50 L58.84,234.94 L60.12,235.33 L61.40,235.67 L62.69,235.99 L63.97,236.28 L65.26,236.56 L66.54,236.85 L67.82,237.14 L69.11,237.45 L70.39,237.76 L71.68,238.09 L72.96,238.42 L74.24,238.75 L75.53,239.08 L76.81,239.41 L78.10,239.72 L79.38,240.02 L80.66,240.29 L81.95,240.54 L83.23,240.76 L84.52,240.95 L85.80,241.11 L87.08,241.24 L88.37,241.32 L89.65,241.37 L90.94,241.23 L92.22,240.97 L93.50,240.65 L94.79,240.27 L96.07,239.82 L97.36,239.28 L98.64,238.65 L99.92,237.89 L101.21,237.01 L102.49,235.97 L103.78,234.75 L105.06,233.33 L106.34,231.69 L107.63,229.80 L108.91,227.65 L110.20,225.21 L111.48,222.48 L112.76,219.45 L114.05,216.12 L115.33,212.50 L116.62,208.61 L117.90,204.47 L119.18,200.14 L120.47,195.67 L121.75,191.11 L123.04,186.54 L124.32,182.03 L125.60,177.68 L126.89,173.56 L128.17,169.78 L129.46,166.40 L130.74,163.50 L132.02,161.16 L133.31,159.43 L134.59,158.34 L135.88,157.92 L137.16,157.88 L138.44,158.11 L139.73,158.58 L141.01,159.30 L142.30,160.26 L143.58,161.43 L144.86,162.82 L146.15,164.42 L147.43,166.21 L148.72,168.11 L150.00,170.29 L151.28,172.18 L152.57,174.54 L153.85,177.26 L155.14,179.71 L156.42,182.54 L157.70,184.92 L158.99,187.89 L160.27,190.23 L161.56,192.37 L162.84,194.22 L164.12,196.88 L165.41,199.08 L166.69,201.21 L167.98,202.43 L169.26,203.88 L170.54,206.72 L171.83,208.28 L173.11,210.52 L174.40,211.58 L175.68,212.87 L176.96,214.92 L178.25,216.20 L179.53,216.35 L180.82,217.79 L182.10,218.29 L183.38,218.58 L184.67,219.07 L185.95,220.60 L187.24,221.47 L188.52,221.83 L189.80,222.02 L191.09,222.84 L192.37,222.24" stroke="#7570b3" stroke-width="0.65" fill="none" stroke-linejoin="round" stroke-linecap="round" opacity="0.9"/>
<path d="M21.60,222.25 L22.88,220.49 L24.17,218.79 L25.45,217.15 L26.74,215.63 L28.02,214.23 L29.30,212.99 L30.59,211.93 L31.87,211.07 L33.16,210.42 L34.44,210.00 L35.72,209.82 L37.01,209.96 L38.29,210.50 L39.58,211.43 L40.86,212.69 L42.14,214.25 L43.43,216.04 L44.71,218.00 L46.00,220.06 L47.28,222.17 L48.56,224.26 L49.85,226.28 L51.13,228.20 L52.42,229.97 L53.70,231.59 L54.98,233.03 L56.27,234.30 L57.55,235.40 L58.84,236.35 L60.12,237.16 L61.40,237.85 L62.69,238.45 L63.97,238.96 L65.26,239.41 L66.54,239.81 L67.82,240.18 L69.11,240.52 L70.39,240.85 L71.68,241.17 L72.96,241.47 L74.24,241.77 L75.53,242.06 L76.81,242.33 L78.10,242.59 L79.38,242.83 L80.66,243.05 L81.95,243.23 L83.23,243.36 L84.52,243.42 L85.80,243.38 L87.08,243.16 L88.37,242.72 L89.65,241.96 L90.94,240.74 L92.22,239.09 L93.50,237.15 L94.79,235.08 L96.07,233.08 L97.36,231.39 L98.64,230.16 L99.92,229.45 L101.21,229.14 L102.49,229.02 L103.78,228.80 L105.06,228.21 L106.34,227.04 L107.63,225.19 L108.91,222.62 L110.20,219.37 L111.48,215.49 L112.76,211.07 L114.05,206.18 L115.33,200.90 L116.62,195.32 L117.90,189.51 L119.18,183.59 L120.47,177.66 L121.75,171.85 L123.04,166.29 L124.32,161.10 L125.60,156.43 L126.89,152.39 L128.17,149.09 L129.46,146.62 L130.74,145.06 L132.02,144.44 L133.31,144.49 L134.59,144.93 L135.88,145.77 L137.16,147.00 L138.44,148.58 L139.73,150.51 L141.01,152.75 L142.30,155.28 L143.58,158.06 L144.86,161.06 L146.15,164.26 L147.43,167.66 L148.72,170.99 L150.00,174.61 L151.28,178.15 L152.57,182.53 L153.85,185.15 L155.14,188.43 L156.42,192.64 L157.70,195.93 L158.99,198.58 L160.27,200.35 L161.56,205.42 L162.84,206.56 L164.12,209.26 L165.41,213.49 L166.69,215.77 L167.98,216.70 L169.26,219.85 L170.54,220.80 L171.83,221.96 L173.11,223.07 L174.40,225.88 L175.68,227.93 L176.96,226.43 L178.25,228.34 L179.53,229.62 L180.82,229.34 L182.10,231.07 L183.38,229.94 L184.67,229.24 L185.95,230.25 L187.24,230.05 L188.52,230.34 L189.80,229.87 L191.09,231.23 L192.37,232.50" stroke="#1b9e77" stroke-width="0.65" fill="none" stroke-linejoin="round" stroke-linecap="round" opacity="0.9"/>
<path d="M21.60,227.22 L22.88,225.94 L24.17,224.68 L25.45,223.47 L26.74,222.33 L28.02,221.28 L29.30,220.33 L30.59,219.50 L31.87,218.79 L33.16,218.23 L34.44,217.80 L35.72,217.51 L37.01,217.43 L38.29,217.61 L39.58,218.02 L40.86,218.63 L42.14,219.42 L43.43,220.32 L44.71,221.30 L46.00,222.31 L47.28,223.31 L48.56,224.26 L49.85,225.14 L51.13,225.92 L52.42,226.60 L53.70,227.17 L54.98,227.65 L56.27,228.04 L57.55,228.36 L58.84,228.65 L60.12,228.91 L61.40,229.19 L62.69,229.50 L63.97,229.85 L65.26,230.27 L66.54,230.75 L67.82,231.31 L69.11,231.94 L70.39,232.64 L71.68,233.39 L72.96,234.18 L74.24,234.99 L75.53,235.81 L76.81,236.63 L78.10,237.42 L79.38,238.18 L80.66,238.89 L81.95,239.54 L83.23,240.14 L84.52,240.66 L85.80,241.12 L87.08,241.50 L88.37,241.81 L89.65,242.05 L90.94,242.10 L92.22,242.01 L93.50,241.83 L94.79,241.55 L96.07,241.16 L97.36,240.65 L98.64,239.98 L99.92,239.13 L101.21,238.08 L102.49,236.79 L103.78,235.23 L105.06,233.37 L106.34,231.16 L107.63,228.60 L108.91,225.65 L110.20,222.31 L111.48,218.58 L112.76,214.49 L114.05,210.06 L115.33,205.37 L116.62,200.48 L117.90,195.49 L119.18,190.52 L120.47,185.68 L121.75,181.11 L123.04,176.94 L124.32,173.30 L125.60,170.30 L126.89,168.04 L128.17,166.60 L129.46,166.01 L130.74,166.06 L132.02,166.52 L133.31,167.38 L134.59,168.61 L135.88,170.20 L137.16,172.13 L138.44,174.34 L139.73,176.81 L141.01,179.50 L142.30,182.37 L143.58,185.37 L144.86,188.46 L146.15,191.62 L147.43,194.76 L148.72,197.99 L150.00,201.19 L151.28,204.28 L152.57,207.29 L153.85,210.07 L155.14,212.89 L156.42,215.57 L157.70,217.90 L158.99,219.62 L160.27,220.47 L161.56,221.65 L162.84,223.26 L164.12,225.20 L165.41,225.63 L166.69,227.14 L167.98,227.94 L169.26,228.58 L170.54,229.33 L171.83,230.19 L173.11,229.85 L174.40,230.85 L175.68,231.17 L176.96,230.89 L178.25,231.32 L179.53,231.95 L180.82,232.22 L182.10,231.45 L183.38,231.24 L184.67,231.30 L185.95,230.61 L187.24,230.43 L188.52,230.90 L189.80,231.12 L191.09,230.21 L192.37,230.30" stroke="#1b9e77" stroke-width="0.65" fill="none" stroke-linejoin="round" stroke-linecap="round" opacity="0.9"/>
<path d="M21.60,216.70 L22.88,214.74 L24.17,212.84 L25.45,211.01 L26.74,209.30 L28.02,207.74 L29.30,206.34 L30.59,205.14 L31.87,204.16 L33.16,203.41 L34.44,202.91 L35.72,202.66 L37.01,202.77 L38.29,203.31 L39.58,204.27 L40.86,205.59 L42.14,207.23 L43.43,209.11 L44.71,211.17 L46.00,213.33 L47.28,215.53 L48.56,217.69 L49.85,219.78 L51.13,221.74 L52.42,223.55 L53.70,225.18 L54.98,226.62 L56.27,227.89 L57.55,228.98 L58.84,229.93 L60.12,230.74 L61.40,231.44 L62.69,232.07 L63.97,232.63 L65.26,233.16 L66.54,233.66 L67.82,234.15 L69.11,234.65 L70.39,235.14 L71.68,235.64 L72.96,236.14 L74.24,236.64 L75.53,237.14 L76.81,237.62 L78.10,238.08 L79.38,238.52 L80.66,238.93 L81.95,239.30 L83.23,239.63 L84.52,239.92 L85.80,240.17 L87.08,240.37 L88.37,240.52 L89.65,240.62 L90.94,240.55 L92.22,240.37 L93.50,240.10 L94.79,239.75 L96.07,239.30 L97.36,238.72 L98.64,238.00 L99.92,237.10 L101.21,236.00 L102.49,234.65 L103.78,233.02 L105.06,231.09 L106.34,228.80 L107.63,226.14 L108.91,223.08 L110.20,219.61 L111.48,215.73 L112.76,211.45 L114.05,206.82 L115.33,201.88 L116.62,196.72 L117.90,191.41 L119.18,186.08 L120.47,180.85 L121.75,175.85 L123.04,171.22 L124.32,167.09 L125.60,163.60 L126.89,160.85 L128.17,158.92 L129.46,157.88 L130.74,157.68 L132.02,157.88 L133.31,158.43 L134.59,159.31 L135.88,160.52 L137.16,162.02 L138.44,163.82 L139.73,165.87 L141.01,168.15 L142.30,170.63 L143.58,173.28 L144.86,176.06 L146.15,178.99 L147.43,181.93 L148.72,185.02 L150.00,188.15 L151.28,191.05 L152.57,193.68 L153.85,196.84 L155.14,199.37 L156.42,202.32 L157.70,204.84 L158.99,207.19 L160.27,208.95 L161.56,211.04 L162.84,213.36 L164.12,214.93 L165.41,217.13 L166.69,218.94 L167.98,219.68 L169.26,221.12 L170.54,222.03 L171.83,223.53 L173.11,223.85 L174.40,224.69 L175.68,225.91 L176.96,225.82 L178.25,226.55 L179.53,227.27 L180.82,227.89 L182.10,228.54 L183.38,228.82 L184.67,228.32 L185.95,228.80 L187.24,228.92 L188.52,228.70 L189.80,228.41 L191.09,228.43 L192.37,227.83" stroke="#1b9e77" stroke-width="0.65" fill="none" stroke-linejoin="round" stroke-linecap="round" opacity="0.9"/>
<path d="M21.60,219.15 L22.88,217.47 L24.17,215.83 L25.45,214.27 L26.74,212.80 L28.02,211.46 L29.30,210.26 L30.59,209.24 L31.87,208.40 L33.16,207.77 L34.44,207.36 L35.72,207.16 L37.01,207.27 L38.29,207.77 L39.58,208.63 L40.86,209.81 L42.14,211.26 L43.43,212.93 L44.71,214.76 L46.00,216.68 L47.28,218.64 L48.56,220.58 L49.85,222.45 L51.13,224.21 L52.42,225.85 L53.70,227.32 L54.98,228.64 L56.27,229.80 L57.55,230.80 L58.84,231.67 L60.12,232.41 L61.40,233.04 L62.69,233.60 L63.97,234.08 L65.26,234.52 L66.54,234.93 L67.82,235.32 L69.11,235.69 L70.39,236.06 L71.68,236.42 L72.96,236.78 L74.24,237.14 L75.53,237.48 L76.81,237.82 L78.10,238.14 L79.38,238.44 L80.66,238.71 L81.95,238.95 L83.23,239.14 L84.52,239.27 L85.80,239.28 L87.08,239.13 L88.37,238.76 L89.65,238.10 L90.94,236.98 L92.22,235.47 L93.50,233.70 L94.79,231.84 L96.07,230.11 L97.36,228.76 L98.64,227.96 L99.92,227.77 L101.21,228.10 L102.49,228.74 L103.78,229.43 L105.06,229.92 L106.34,229.99 L107.63,229.56 L108.91,228.60 L110.20,227.12 L111.48,225.19 L112.76,222.85 L114.05,220.16 L115.33,217.15 L116.62,213.86 L117.90,210.32 L119.18,206.57 L120.47,202.66 L121.75,198.64 L123.04,194.58 L124.32,190.56 L125.60,186.64 L126.89,182.92 L128.17,179.48 L129.46,176.39 L130.74,173.74 L132.02,171.58 L133.31,169.98 L134.59,168.96 L135.88,168.57 L137.16,168.64 L138.44,169.09 L139.73,169.89 L141.01,171.05 L142.30,172.53 L143.58,174.30 L144.86,176.34 L146.15,178.59 L147.43,181.08 L148.72,183.71 L150.00,186.33 L151.28,189.09 L152.57,192.23 L153.85,194.98 L155.14,197.53 L156.42,199.98 L157.70,203.47 L158.99,206.55 L160.27,208.99 L161.56,211.72 L162.84,212.89 L164.12,214.36 L165.41,215.91 L166.69,217.72 L167.98,219.65 L169.26,221.02 L170.54,222.78 L171.83,223.09 L173.11,224.42 L174.40,224.66 L175.68,225.57 L176.96,226.52 L178.25,226.88 L179.53,227.28 L180.82,226.68 L182.10,227.65 L183.38,227.80 L184.67,227.79 L185.95,227.66 L187.24,228.27 L188.52,227.48 L189.80,227.59 L191.09,227.22 L192.37,227.52" stroke="#1b9e77" stroke-width="0.65" fill="none" stroke-linejoin="round" stroke-linecap="round" opacity="0.9"/>
<path d="M21.60,223.45 L22.88,221.99 L24.17,220.57 L25.45,219.20 L26.74,217.91 L28.02,216.72 L29.30,215.64 L30.59,214.71 L31.87,213.92 L33.16,213.29 L34.44,212.83 L35.72,212.53 L37.01,212.47 L38.29,212.71 L39.58,213.22 L40.86,213.98 L42.14,214.93 L43.43,216.02 L44.71,217.22 L46.00,218.45 L47.28,219.68 L48.56,220.86 L49.85,221.96 L51.13,222.96 L52.42,223.84 L53.70,224.59 L54.98,225.23 L56.27,225.77 L57.55,226.23 L58.84,226.62 L60.12,226.98 L61.40,227.34 L62.69,227.71 L63.97,228.11 L65.26,228.57 L66.54,229.09 L67.82,229.67 L69.11,230.32 L70.39,231.03 L71.68,231.79 L72.96,232.59 L74.24,233.41 L75.53,234.24 L76.81,235.05 L78.10,235.85 L79.38,236.60 L80.66,237.31 L81.95,237.96 L83.23,238.55 L84.52,239.07 L85.80,239.51 L87.08,239.88 L88.37,240.18 L89.65,240.39 L90.94,240.42 L92.22,240.32 L93.50,240.13 L94.79,239.84 L96.07,239.46 L97.36,238.97 L98.64,238.36 L99.92,237.62 L101.21,236.71 L102.49,235.64 L103.78,234.37 L105.06,232.88 L106.34,231.16 L107.63,229.18 L108.91,226.94 L110.20,224.41 L111.48,221.59 L112.76,218.49 L114.05,215.11 L115.33,211.48 L116.62,207.62 L117.90,203.58 L119.18,199.40 L120.47,195.15 L121.75,190.90 L123.04,186.72 L124.32,182.69 L125.60,178.91 L126.89,175.45 L128.17,172.39 L129.46,169.80 L130.74,167.75 L132.02,166.29 L133.31,165.44 L134.59,165.21 L135.88,165.33 L137.16,165.76 L138.44,166.49 L139.73,167.50 L141.01,168.78 L142.30,170.32 L143.58,172.08 L144.86,174.05 L146.15,176.25 L147.43,178.71 L148.72,181.38 L150.00,184.05 L151.28,186.89 L152.57,189.14 L153.85,191.67 L155.14,194.39 L156.42,197.83 L157.70,200.90 L158.99,202.80 L160.27,203.89 L161.56,207.73 L162.84,208.21 L164.12,210.43 L165.41,211.37 L166.69,213.05 L167.98,216.77 L169.26,219.52 L170.54,219.60 L171.83,219.30 L173.11,219.61 L174.40,219.93 L175.68,223.26 L176.96,223.19 L178.25,223.79 L179.53,224.35 L180.82,224.45 L182.10,224.77 L183.38,224.95 L184.67,225.09 L185.95,226.21 L187.24,225.61 L188.52,228.06 L189.80,228.18 L191.09,226.90 L192.37,228.54" stroke="#1b9e77" stroke-width="0.65" fill="none" stroke-linejoin="round" stroke-linecap="round" opacity="0.9"/>
<path d="M21.60,221.49 L22.88,219.74 L24.17,218.04 L25.45,216.41 L26.74,214.87 L28.02,213.46 L29.30,212.20 L30.59,211.10 L31.87,210.19 L33.16,209.47 L34.44,208.97 L35.72,208.67 L37.01,208.66 L38.29,209.04 L39.58,209.75 L40.86,210.77 L42.14,212.05 L43.43,213.52 L44.71,215.12 L46.00,216.79 L47.28,218.47 L48.56,220.10 L49.85,221.65 L51.13,223.09 L52.42,224.38 L53.70,225.52 L54.98,226.51 L56.27,227.36 L57.55,228.09 L58.84,228.72 L60.12,229.28 L61.40,229.79 L62.69,230.28 L63.97,230.77 L65.26,231.28 L66.54,231.83 L67.82,232.42 L69.11,233.05 L70.39,233.72 L71.68,234.43 L72.96,235.17 L74.24,235.92 L75.53,236.67 L76.81,237.41 L78.10,238.13 L79.38,238.81 L80.66,239.44 L81.95,240.01 L83.23,240.49 L84.52,240.85 L85.80,241.05 L87.08,241.01 L88.37,240.65 L89.65,239.88 L90.94,238.53 L92.22,236.64 L93.50,234.39 L94.79,231.99 L96.07,229.72 L97.36,227.89 L98.64,226.73 L99.92,226.29 L101.21,226.47 L102.49,226.98 L103.78,227.47 L105.06,227.58 L106.34,227.07 L107.63,225.78 L108.91,223.69 L110.20,220.82 L111.48,217.24 L112.76,213.05 L114.05,208.32 L115.33,203.13 L116.62,197.56 L117.90,191.67 L119.18,185.58 L120.47,179.38 L121.75,173.20 L123.04,167.18 L124.32,161.44 L125.60,156.13 L126.89,151.40 L128.17,147.36 L129.46,144.13 L130.74,141.80 L132.02,140.44 L133.31,140.05 L134.59,140.24 L135.88,140.87 L137.16,141.93 L138.44,143.40 L139.73,145.26 L141.01,147.47 L142.30,150.03 L143.58,152.87 L144.86,155.98 L146.15,159.29 L147.43,162.76 L148.72,166.44 L150.00,170.40 L151.28,173.95 L152.57,177.75 L153.85,181.87 L155.14,185.58 L156.42,189.24 L157.70,192.98 L158.99,196.56 L160.27,199.65 L161.56,202.54 L162.84,205.36 L164.12,208.27 L165.41,211.54 L166.69,214.04 L167.98,216.37 L169.26,217.87 L170.54,218.97 L171.83,220.26 L173.11,221.50 L174.40,222.63 L175.68,224.45 L176.96,225.01 L178.25,225.84 L179.53,227.39 L180.82,228.59 L182.10,229.45 L183.38,229.02 L184.67,229.56 L185.95,230.15 L187.24,229.81 L188.52,230.02 L189.80,230.55 L191.09,230.73 L192.37,230.30" stroke="#1b9e77" stroke-width="0.65" fill="none" stroke-linejoin="round" stroke-linecap="round" opacity="0.9"/>
<path d="M21.60,225.80 L22.88,224.27 L24.17,222.78 L25.45,221.35 L26.74,220.00 L28.02,218.76 L29.30,217.65 L30.59,216.68 L31.87,215.87 L33.16,215.22 L34.44,214.76 L35.72,214.47 L37.01,214.43 L38.29,214.72 L39.58,215.30 L40.86,216.13 L42.14,217.18 L43.43,218.39 L44.71,219.71 L46.00,221.08 L47.28,222.45 L48.56,223.77 L49.85,225.02 L51.13,226.16 L52.42,227.17 L53.70,228.06 L54.98,228.82 L56.27,229.46 L57.55,230.01 L58.84,230.49 L60.12,230.91 L61.40,231.32 L62.69,231.73 L63.97,232.15 L65.26,232.62 L66.54,233.13 L67.82,233.70 L69.11,234.32 L70.39,234.99 L71.68,235.71 L72.96,236.46 L74.24,237.22 L75.53,237.99 L76.81,238.76 L78.10,239.50 L79.38,240.21 L80.66,240.87 L81.95,241.49 L83.23,242.05 L84.52,242.55 L85.80,242.99 L87.08,243.37 L88.37,243.69 L89.65,243.96 L90.94,244.04 L92.22,244.00 L93.50,243.91 L94.79,243.79 L96.07,243.62 L97.36,243.42 L98.64,243.18 L99.92,242.89 L101.21,242.56 L102.49,242.19 L103.78,241.75 L105.06,241.25 L106.34,240.68 L107.63,240.01 L108.91,239.25 L110.20,238.37 L111.48,237.35 L112.76,236.19 L114.05,234.87 L115.33,233.37 L116.62,231.68 L117.90,229.78 L119.18,227.67 L120.47,225.35 L121.75,222.82 L123.04,220.09 L124.32,217.16 L125.60,214.07 L126.89,210.84 L128.17,207.50 L129.46,204.09 L130.74,200.68 L132.02,197.30 L133.31,194.02 L134.59,190.90 L135.88,187.99 L137.16,185.35 L138.44,183.04 L139.73,181.11 L141.01,179.59 L142.30,178.52 L143.58,177.92 L144.86,177.72 L146.15,177.75 L147.43,177.85 L148.72,178.16 L150.00,178.38 L151.28,179.32 L152.57,179.69 L153.85,181.11 L155.14,182.82 L156.42,183.44 L157.70,184.45 L158.99,184.67 L160.27,186.15 L161.56,189.18 L162.84,189.51 L164.12,191.12 L165.41,194.30 L166.69,194.17 L167.98,197.19 L169.26,198.40 L170.54,201.38 L171.83,201.29 L173.11,203.74 L174.40,205.68 L175.68,205.40 L176.96,207.30 L178.25,207.55 L179.53,209.14 L180.82,209.69 L182.10,213.03 L183.38,213.03 L184.67,215.20 L185.95,215.46 L187.24,218.22 L188.52,219.42 L189.80,221.02 L191.09,222.44 L192.37,220.94" stroke="#7570b3" stroke-width="0.65" fill="none" stroke-linejoin="round" stroke-linecap="round" opacity="0.9"/>
<path d="M21.60,218.28 L22.88,216.29 L24.17,214.35 L25.45,212.49 L26.74,210.76 L28.02,209.17 L29.30,207.76 L30.59,206.56 L31.87,205.59 L33.16,204.87 L34.44,204.41 L35.72,204.22 L37.01,204.41 L38.29,205.05 L39.58,206.14 L40.86,207.62 L42.14,209.44 L43.43,211.53 L44.71,213.83 L46.00,216.24 L47.28,218.71 L48.56,221.17 L49.85,223.55 L51.13,225.81 L52.42,227.91 L53.70,229.83 L54.98,231.56 L56.27,233.07 L57.55,234.39 L58.84,235.53 L60.12,236.50 L61.40,237.31 L62.69,238.00 L63.97,238.59 L65.26,239.08 L66.54,239.52 L67.82,239.90 L69.11,240.24 L70.39,240.55 L71.68,240.84 L72.96,241.12 L74.24,241.37 L75.53,241.62 L76.81,241.85 L78.10,242.07 L79.38,242.27 L80.66,242.45 L81.95,242.61 L83.23,242.73 L84.52,242.82 L85.80,242.86 L87.08,242.81 L88.37,242.67 L89.65,242.38 L90.94,241.80 L92.22,240.99 L93.50,240.04 L94.79,239.03 L96.07,238.03 L97.36,237.14 L98.64,236.41 L99.92,235.86 L101.21,235.44 L102.49,235.06 L103.78,234.59 L105.06,233.93 L106.34,232.97 L107.63,231.66 L108.91,229.97 L110.20,227.90 L111.48,225.46 L112.76,222.65 L114.05,219.49 L115.33,215.99 L116.62,212.17 L117.90,208.03 L119.18,203.61 L120.47,198.95 L121.75,194.09 L123.04,189.09 L124.32,184.01 L125.60,178.93 L126.89,173.93 L128.17,169.11 L129.46,164.54 L130.74,160.33 L132.02,156.56 L133.31,153.30 L134.59,150.63 L135.88,148.60 L137.16,147.27 L138.44,146.65 L139.73,146.55 L141.01,146.72 L142.30,147.16 L143.58,147.86 L144.86,148.82 L146.15,150.01 L147.43,151.50 L148.72,153.27 L150.00,155.23 L151.28,157.05 L152.57,159.15 L153.85,161.79 L155.14,164.43 L156.42,166.51 L157.70,169.35 L158.99,172.34 L160.27,174.40 L161.56,177.52 L162.84,180.75 L164.12,183.16 L165.41,185.37 L166.69,188.77 L167.98,190.93 L169.26,193.83 L170.54,195.52 L171.83,197.99 L173.11,200.50 L174.40,202.80 L175.68,205.30 L176.96,207.55 L178.25,208.88 L179.53,210.29 L180.82,212.17 L182.10,213.85 L183.38,214.85 L184.67,215.19 L185.95,216.99 L187.24,217.53 L188.52,217.77 L189.80,219.07 L191.09,219.97 L192.37,220.44" stroke="#7570b3" stroke-width="0.65" fill="none" stroke-linejoin="round" stroke-linecap="round" opacity="0.9"/>
<path d="M21.60,227.57 L22.88,226.46 L24.17,225.38 L25.45,224.34 L26.74,223.36 L28.02,222.46 L29.30,221.65 L30.59,220.95 L31.87,220.36 L33.16,219.90 L34.44,219.56 L35.72,219.36 L37.01,219.34 L38.29,219.56 L39.58,219.99 L40.86,220.62 L42.14,221.39 L43.43,222.29 L44.71,223.27 L46.00,224.29 L47.28,225.31 L48.56,226.30 L49.85,227.23 L51.13,228.09 L52.42,228.86 L53.70,229.53 L54.98,230.11 L56.27,230.60 L57.55,231.02 L58.84,231.39 L60.12,231.71 L61.40,232.02 L62.69,232.32 L63.97,232.63 L65.26,232.96 L66.54,233.33 L67.82,233.73 L69.11,234.16 L70.39,234.63 L71.68,235.13 L72.96,235.64 L74.24,236.17 L75.53,236.70 L76.81,237.23 L78.10,237.73 L79.38,238.21 L80.66,238.66 L81.95,239.07 L83.23,239.44 L84.52,239.75 L85.80,240.02 L87.08,240.23 L88.37,240.39 L89.65,240.49 L90.94,240.38 L92.22,240.13 L93.50,239.81 L94.79,239.41 L96.07,238.92 L97.36,238.33 L98.64,237.62 L99.92,236.77 L101.21,235.78 L102.49,234.62 L103.78,233.26 L105.06,231.69 L106.34,229.89 L107.63,227.85 L108.91,225.53 L110.20,222.94 L111.48,220.07 L112.76,216.92 L114.05,213.49 L115.33,209.81 L116.62,205.91 L117.90,201.81 L119.18,197.57 L120.47,193.25 L121.75,188.90 L123.04,184.61 L124.32,180.44 L125.60,176.48 L126.89,172.82 L128.17,169.52 L129.46,166.66 L130.74,164.30 L132.02,162.50 L133.31,161.30 L134.59,160.72 L135.88,160.62 L137.16,160.79 L138.44,161.24 L139.73,161.94 L141.01,162.89 L142.30,164.09 L143.58,165.50 L144.86,167.13 L146.15,168.95 L147.43,170.91 L148.72,172.92 L150.00,175.69 L151.28,178.02 L152.57,180.40 L153.85,183.69 L155.14,184.81 L156.42,186.30 L157.70,189.83 L158.99,192.69 L160.27,195.55 L161.56,197.74 L162.84,199.04 L164.12,201.07 L165.41,204.93 L166.69,205.68 L167.98,207.22 L169.26,209.54 L170.54,212.63 L171.83,212.78 L173.11,212.88 L174.40,214.25 L175.68,215.76 L176.96,216.52 L178.25,216.80 L179.53,217.97 L180.82,219.52 L182.10,219.23 L183.38,221.21 L184.67,222.87 L185.95,222.01 L187.24,221.93 L188.52,223.14 L189.80,223.98 L191.09,222.09 L192.37,221.14" stroke="#7570b3" stroke-width="0.65" fill="none" stroke-linejoin="round" stroke-linecap="round" opacity="0.9"/>
<path d="M21.60,223.66 L22.88,222.20 L24.17,220.77 L25.45,219.41 L26.74,218.12 L28.02,216.94 L29.30,215.88 L30.59,214.96 L31.87,214.19 L33.16,213.59 L34.44,213.16 L35.72,212.91 L37.01,212.91 L38.29,213.21 L39.58,213.81 L40.86,214.65 L42.14,215.71 L43.43,216.93 L44.71,218.26 L46.00,219.65 L47.28,221.05 L48.56,222.41 L49.85,223.69 L51.13,224.88 L52.42,225.94 L53.70,226.88 L54.98,227.70 L56.27,228.40 L57.55,229.00 L58.84,229.52 L60.12,229.98 L61.40,230.40 L62.69,230.81 L63.97,231.23 L65.26,231.66 L66.54,232.12 L67.82,232.62 L69.11,233.15 L70.39,233.73 L71.68,234.33 L72.96,234.96 L74.24,235.60 L75.53,236.25 L76.81,236.88 L78.10,237.50 L79.38,238.08 L80.66,238.63 L81.95,239.13 L83.23,239.58 L84.52,239.96 L85.80,240.26 L87.08,240.45 L88.37,240.52 L89.65,240.43 L90.94,240.03 L92.22,239.38 L93.50,238.61 L94.79,237.77 L96.07,236.95 L97.36,236.25 L98.64,235.74 L99.92,235.44 L101.21,235.31 L102.49,235.26 L103.78,235.17 L105.06,234.93 L106.34,234.46 L107.63,233.70 L108.91,232.63 L110.20,231.24 L111.48,229.55 L112.76,227.57 L114.05,225.29 L115.33,222.75 L116.62,219.93 L117.90,216.86 L119.18,213.56 L120.47,210.06 L121.75,206.39 L123.04,202.62 L124.32,198.79 L125.60,194.97 L126.89,191.24 L128.17,187.68 L129.46,184.36 L130.74,181.36 L132.02,178.75 L133.31,176.60 L134.59,174.96 L135.88,173.87 L137.16,173.35 L138.44,173.23 L139.73,173.28 L141.01,173.51 L142.30,173.91 L143.58,174.48 L144.86,175.21 L146.15,176.04 L147.43,176.82 L148.72,177.94 L150.00,179.30 L151.28,180.11 L152.57,181.82 L153.85,183.33 L155.14,184.43 L156.42,187.61 L157.70,190.01 L158.99,190.98 L160.27,193.33 L161.56,193.88 L162.84,195.86 L164.12,196.44 L165.41,198.88 L166.69,201.88 L167.98,202.87 L169.26,205.86 L170.54,206.27 L171.83,208.20 L173.11,210.08 L174.40,212.15 L175.68,212.83 L176.96,212.91 L178.25,213.30 L179.53,213.49 L180.82,215.19 L182.10,215.75 L183.38,216.83 L184.67,219.39 L185.95,219.77 L187.24,219.43 L188.52,221.31 L189.80,222.42 L191.09,220.51 L192.37,220.25" stroke="#7570b3" stroke-width="0.65" fill="none" stroke-linejoin="round" stroke-linecap="round" opacity="0.9"/>
<path d="M21.60,219.65 L22.88,217.80 L24.17,216.00 L25.45,214.28 L26.74,212.67 L28.02,211.18 L29.30,209.86 L30.59,208.72 L31.87,207.78 L33.16,207.05 L34.44,206.56 L35.72,206.29 L37.01,206.35 L38.29,206.82 L39.58,207.66 L40.86,208.85 L42.14,210.31 L43.43,212.00 L44.71,213.85 L46.00,215.78 L47.28,217.74 L48.56,219.66 L49.85,221.50 L51.13,223.22 L52.42,224.79 L53.70,226.20 L54.98,227.44 L56.27,228.52 L57.55,229.46 L58.84,230.26 L60.12,230.96 L61.40,231.57 L62.69,232.14 L63.97,232.66 L65.26,233.18 L66.54,233.69 L67.82,234.22 L69.11,234.76 L70.39,235.32 L71.68,235.90 L72.96,236.49 L74.24,237.08 L75.53,237.68 L76.81,238.26 L78.10,238.82 L79.38,239.35 L80.66,239.84 L81.95,240.30 L83.23,240.71 L84.52,241.07 L85.80,241.37 L87.08,241.63 L88.37,241.83 L89.65,241.97 L90.94,241.91 L92.22,241.72 L93.50,241.46 L94.79,241.12 L96.07,240.71 L97.36,240.20 L98.64,239.57 L99.92,238.83 L101.21,237.93 L102.49,236.87 L103.78,235.61 L105.06,234.13 L106.34,232.41 L107.63,230.42 L108.91,228.13 L110.20,225.53 L111.48,222.61 L112.76,219.35 L114.05,215.77 L115.33,211.86 L116.62,207.67 L117.90,203.21 L119.18,198.55 L120.47,193.73 L121.75,188.85 L123.04,183.98 L124.32,179.21 L125.60,174.64 L126.89,170.37 L128.17,166.49 L129.46,163.11 L130.74,160.29 L132.02,158.12 L133.31,156.64 L134.59,155.89 L135.88,155.75 L137.16,155.91 L138.44,156.35 L139.73,157.06 L141.01,158.05 L142.30,159.29 L143.58,160.77 L144.86,162.47 L146.15,164.44 L147.43,166.53 L148.72,169.01 L150.00,171.03 L151.28,173.98 L152.57,175.62 L153.85,179.20 L155.14,181.83 L156.42,183.46 L157.70,185.42 L158.99,187.69 L160.27,190.40 L161.56,192.29 L162.84,196.76 L164.12,198.22 L165.41,199.70 L166.69,204.08 L167.98,205.84 L169.26,206.75 L170.54,207.95 L171.83,208.91 L173.11,212.31 L174.40,213.47 L175.68,215.85 L176.96,217.63 L178.25,217.27 L179.53,219.49 L180.82,220.80 L182.10,220.18 L183.38,220.66 L184.67,221.41 L185.95,221.20 L187.24,220.53 L188.52,222.09 L189.80,222.53 L191.09,224.63 L192.37,223.93" stroke="#7570b3" stroke-width="0.65" fill="none" stroke-linejoin="round" stroke-linecap="round" opacity="0.9"/>
<path d="M21.60,224.46 L22.88,223.17 L24.17,221.92 L25.45,220.72 L26.74,219.60 L28.02,218.57 L29.30,217.64 L30.59,216.85 L31.87,216.20 L33.16,215.70 L34.44,215.36 L35.72,215.18 L37.01,215.23 L38.29,215.57 L39.58,216.17 L40.86,217.01 L42.14,218.05 L43.43,219.24 L44.71,220.55 L46.00,221.92 L47.28,223.31 L48.56,224.68 L49.85,225.99 L51.13,227.22 L52.42,228.34 L53.70,229.35 L54.98,230.24 L56.27,231.02 L57.55,231.70 L58.84,232.27 L60.12,232.78 L61.40,233.22 L62.69,233.61 L63.97,233.98 L65.26,234.34 L66.54,234.69 L67.82,235.04 L69.11,235.40 L70.39,235.76 L71.68,236.14 L72.96,236.53 L74.24,236.91 L75.53,237.29 L76.81,237.67 L78.10,238.02 L79.38,238.36 L80.66,238.67 L81.95,238.96 L83.23,239.21 L84.52,239.42 L85.80,239.60 L87.08,239.73 L88.37,239.82 L89.65,239.87 L90.94,239.72 L92.22,239.44 L93.50,239.10 L94.79,238.69 L96.07,238.20 L97.36,237.62 L98.64,236.93 L99.92,236.12 L101.21,235.17 L102.49,234.07 L103.78,232.79 L105.06,231.31 L106.34,229.62 L107.63,227.69 L108.91,225.51 L110.20,223.07 L111.48,220.36 L112.76,217.37 L114.05,214.10 L115.33,210.59 L116.62,206.83 L117.90,202.86 L119.18,198.73 L120.47,194.48 L121.75,190.16 L123.04,185.84 L124.32,181.60 L125.60,177.50 L126.89,173.63 L128.17,170.05 L129.46,166.85 L130.74,164.09 L132.02,161.82 L133.31,160.11 L134.59,158.98 L135.88,158.46 L137.16,158.34 L138.44,158.43 L139.73,158.71 L141.01,159.18 L142.30,159.84 L143.58,160.67 L144.86,161.68 L146.15,162.87 L147.43,164.31 L148.72,165.71 L150.00,167.25 L151.28,169.20 L152.57,170.65 L153.85,172.39 L155.14,174.93 L156.42,176.65 L157.70,179.33 L158.99,181.24 L160.27,182.59 L161.56,184.66 L162.84,187.41 L164.12,189.96 L165.41,191.12 L166.69,193.93 L167.98,196.01 L169.26,198.15 L170.54,199.94 L171.83,201.58 L173.11,202.55 L174.40,204.36 L175.68,205.86 L176.96,206.85 L178.25,208.37 L179.53,210.24 L180.82,210.75 L182.10,211.65 L183.38,213.40 L184.67,214.19 L185.95,214.31 L187.24,215.92 L188.52,216.09 L189.80,216.29 L191.09,217.19 L192.37,217.28" stroke="#7570b3" stroke-width="0.65" fill="none" stroke-linejoin="round" stroke-linecap="round" opacity="0.9"/>
<path d="M21.60,221.75 L22.88,220.33 L24.17,218.95 L25.45,217.63 L26.74,216.39 L28.02,215.24 L29.30,214.22 L30.59,213.34 L31.87,212.60 L33.16,212.04 L34.44,211.64 L35.72,211.41 L37.01,211.43 L38.29,211.76 L39.58,212.38 L40.86,213.24 L42.14,214.32 L43.43,215.56 L44.71,216.91 L46.00,218.33 L47.28,219.76 L48.56,221.15 L49.85,222.49 L51.13,223.72 L52.42,224.84 L53.70,225.84 L54.98,226.72 L56.27,227.47 L57.55,228.12 L58.84,228.68 L60.12,229.17 L61.40,229.62 L62.69,230.03 L63.97,230.43 L65.26,230.84 L66.54,231.26 L67.82,231.70 L69.11,232.17 L70.39,232.66 L71.68,233.17 L72.96,233.71 L74.24,234.24 L75.53,234.78 L76.81,235.31 L78.10,235.83 L79.38,236.31 L80.66,236.77 L81.95,237.19 L83.23,237.57 L84.52,237.91 L85.80,238.21 L87.08,238.45 L88.37,238.66 L89.65,238.82 L90.94,238.82 L92.22,238.72 L93.50,238.56 L94.79,238.36 L96.07,238.09 L97.36,237.75 L98.64,237.32 L99.92,236.80 L101.21,236.17 L102.49,235.40 L103.78,234.47 L105.06,233.37 L106.34,232.06 L107.63,230.52 L108.91,228.73 L110.20,226.68 L111.48,224.33 L112.76,221.70 L114.05,218.77 L115.33,215.56 L116.62,212.09 L117.90,208.41 L119.18,204.55 L120.47,200.57 L121.75,196.56 L123.04,192.59 L124.32,188.76 L125.60,185.14 L126.89,181.85 L128.17,178.96 L129.46,176.57 L130.74,174.72 L132.02,173.49 L133.31,172.90 L134.59,172.82 L135.88,173.01 L137.16,173.46 L138.44,174.15 L139.73,175.09 L141.01,176.25 L142.30,177.61 L143.58,179.17 L144.86,180.90 L146.15,182.77 L147.43,184.79 L148.72,187.01 L150.00,189.17 L151.28,191.47 L152.57,193.48 L153.85,195.73 L155.14,198.30 L156.42,200.82 L157.70,202.47 L158.99,204.91 L160.27,207.24 L161.56,208.74 L162.84,210.30 L164.12,212.27 L165.41,214.06 L166.69,215.21 L167.98,216.00 L169.26,217.10 L170.54,218.51 L171.83,219.90 L173.11,221.17 L174.40,221.84 L175.68,223.34 L176.96,223.29 L178.25,223.87 L179.53,225.05 L180.82,224.82 L182.10,225.04 L183.38,225.80 L184.67,225.86 L185.95,225.82 L187.24,225.88 L188.52,225.43 L189.80,225.77 L191.09,226.40 L192.37,226.69" stroke="#1b9e77" stroke-width="0.65" fill="none" stroke-linejoin="round" stroke-linecap="round" opacity="0.9"/>
<path d="M21.60,226.44 L22.88,225.23 L24.17,224.06 L25.45,222.93 L26.74,221.87 L28.02,220.90 L29.30,220.03 L30.59,219.28 L31.87,218.66 L33.16,218.18 L34.44,217.85 L35.72,217.67 L37.01,217.69 L38.29,217.99 L39.58,218.53 L40.86,219.29 L42.14,220.23 L43.43,221.31 L44.71,222.49 L46.00,223.73 L47.28,224.99 L48.56,226.21 L49.85,227.39 L51.13,228.48 L52.42,229.48 L53.70,230.37 L54.98,231.15 L56.27,231.83 L57.55,232.41 L58.84,232.92 L60.12,233.36 L61.40,233.75 L62.69,234.11 L63.97,234.45 L65.26,234.79 L66.54,235.14 L67.82,235.50 L69.11,235.87 L70.39,236.26 L71.68,236.67 L72.96,237.08 L74.24,237.50 L75.53,237.92 L76.81,238.33 L78.10,238.73 L79.38,239.11 L80.66,239.45 L81.95,239.77 L83.23,240.05 L84.52,240.30 L85.80,240.50 L87.08,240.67 L88.37,240.78 L89.65,240.85 L90.94,240.73 L92.22,240.48 L93.50,240.16 L94.79,239.79 L96.07,239.33 L97.36,238.79 L98.64,238.14 L99.92,237.38 L101.21,236.49 L102.49,235.46 L103.78,234.25 L105.06,232.86 L106.34,231.26 L107.63,229.44 L108.91,227.38 L110.20,225.08 L111.48,222.52 L112.76,219.71 L114.05,216.66 L115.33,213.37 L116.62,209.88 L117.90,206.22 L119.18,202.42 L120.47,198.54 L121.75,194.64 L123.04,190.78 L124.32,187.03 L125.60,183.46 L126.89,180.15 L128.17,177.17 L129.46,174.58 L130.74,172.44 L132.02,170.80 L133.31,169.70 L134.59,169.15 L135.88,169.04 L137.16,169.16 L138.44,169.52 L139.73,170.11 L141.01,170.92 L142.30,171.94 L143.58,173.15 L144.86,174.55 L146.15,176.15 L147.43,177.77 L148.72,179.53 L150.00,181.05 L151.28,183.48 L152.57,184.78 L153.85,188.13 L155.14,190.74 L156.42,193.63 L157.70,195.53 L158.99,196.29 L160.27,198.56 L161.56,200.70 L162.84,202.27 L164.12,205.37 L165.41,205.35 L166.69,208.68 L167.98,210.35 L169.26,210.96 L170.54,211.67 L171.83,214.60 L173.11,215.74 L174.40,216.75 L175.68,217.90 L176.96,219.66 L178.25,219.38 L179.53,220.10 L180.82,220.98 L182.10,220.73 L183.38,221.56 L184.67,222.01 L185.95,222.60 L187.24,221.86 L188.52,223.17 L189.80,224.75 L191.09,224.62 L192.37,224.53" stroke="#7570b3" stroke-width="0.65" fill="none" stroke-linejoin="round" stroke-linecap="round" opacity="0.9"/>
<path d="M21.60,229.57 L22.88,228.35 L24.17,227.16 L25.45,226.02 L26.74,224.95 L28.02,223.97 L29.30,223.10 L30.59,222.35 L31.87,221.73 L33.16,221.27 L34.44,220.96 L35.72,220.80 L37.01,220.87 L38.29,221.21 L39.58,221.81 L40.86,222.65 L42.14,223.67 L43.43,224.85 L44.71,226.14 L46.00,227.50 L47.28,228.88 L48.56,230.24 L49.85,231.55 L51.13,232.79 L52.42,233.92 L53.70,234.95 L54.98,235.86 L56.27,236.65 L57.55,237.34 L58.84,237.94 L60.12,238.45 L61.40,238.89 L62.69,239.28 L63.97,239.64 L65.26,239.96 L66.54,240.28 L67.82,240.58 L69.11,240.88 L70.39,241.19 L71.68,241.49 L72.96,241.80 L74.24,242.11 L75.53,242.41 L76.81,242.71 L78.10,242.99 L79.38,243.26 L80.66,243.51 L81.95,243.74 L83.23,243.95 L84.52,244.14 L85.80,244.30 L87.08,244.44 L88.37,244.56 L89.65,244.66 L90.94,244.59 L92.22,244.43 L93.50,244.25 L94.79,244.05 L96.07,243.82 L97.36,243.57 L98.64,243.29 L99.92,242.97 L101.21,242.61 L102.49,242.19 L103.78,241.71 L105.06,241.15 L106.34,240.50 L107.63,239.73 L108.91,238.83 L110.20,237.77 L111.48,236.54 L112.76,235.11 L114.05,233.47 L115.33,231.60 L116.62,229.48 L117.90,227.11 L119.18,224.50 L120.47,221.64 L121.75,218.57 L123.04,215.31 L124.32,211.91 L125.60,208.40 L126.89,204.87 L128.17,201.37 L129.46,197.98 L130.74,194.78 L132.02,191.85 L133.31,189.26 L134.59,187.09 L135.88,185.38 L137.16,184.19 L138.44,183.55 L139.73,183.36 L141.01,183.37 L142.30,183.55 L143.58,183.91 L144.86,184.43 L146.15,185.11 L147.43,185.96 L148.72,186.86 L150.00,188.21 L151.28,189.49 L152.57,191.02 L153.85,192.17 L155.14,194.06 L156.42,194.92 L157.70,197.22 L158.99,198.36 L160.27,200.70 L161.56,202.45 L162.84,203.36 L164.12,205.49 L165.41,207.36 L166.69,208.36 L167.98,209.98 L169.26,212.00 L170.54,212.39 L171.83,214.31 L173.11,216.09 L174.40,217.15 L175.68,217.80 L176.96,218.37 L178.25,219.94 L179.53,220.86 L180.82,222.13 L182.10,222.53 L183.38,222.53 L184.67,222.75 L185.95,222.81 L187.24,223.18 L188.52,223.37 L189.80,223.80 L191.09,224.45 L192.37,225.25" stroke="#7570b3" stroke-width="0.65" fill="none" stroke-linejoin="round" stroke-linecap="round" opacity="0.9"/>
</g>
<rect x="21.6" y="117.5" width="171.2" height="136.2" fill="none" stroke="#000" stroke-width="1.3"/>
<line x1="21.60" y1="147.50" x2="25.00" y2="147.50" stroke="#000" stroke-width="1.1" />
<line x1="21.60" y1="248.60" x2="25.00" y2="248.60" stroke="#000" stroke-width="1.1" />
<text x="12.8" y="152.0" font-size="11.5" font-family='"Liberation Sans", sans-serif' text-anchor="start" fill="#000" font-weight="normal" font-style="normal" textLength="5.6" lengthAdjust="spacingAndGlyphs" >1</text>
<text x="12.3" y="253.0" font-size="11.5" font-family='"Liberation Sans", sans-serif' text-anchor="start" fill="#000" font-weight="normal" font-style="normal" textLength="6.0" lengthAdjust="spacingAndGlyphs" >0</text>
<text x="21.6" y="265.3" font-size="11.5" font-family='"Liberation Sans", sans-serif' text-anchor="middle" fill="#000" font-weight="normal" font-style="normal" textLength="19.3" lengthAdjust="spacingAndGlyphs" >500</text>
<line x1="64.40" y1="250.30" x2="64.40" y2="253.70" stroke="#000" stroke-width="1.1" />
<text x="64.4" y="265.3" font-size="11.5" font-family='"Liberation Sans", sans-serif' text-anchor="middle" fill="#000" font-weight="normal" font-style="normal" textLength="19.3" lengthAdjust="spacingAndGlyphs" >600</text>
<line x1="107.20" y1="250.30" x2="107.20" y2="253.70" stroke="#000" stroke-width="1.1" />
<text x="107.2" y="265.3" font-size="11.5" font-family='"Liberation Sans", sans-serif' text-anchor="middle" fill="#000" font-weight="normal" font-style="normal" textLength="19.3" lengthAdjust="spacingAndGlyphs" >700</text>
<line x1="150.00" y1="250.30" x2="150.00" y2="253.70" stroke="#000" stroke-width="1.1" />
<text x="150.0" y="265.3" font-size="11.5" font-family='"Liberation Sans", sans-serif' text-anchor="middle" fill="#000" font-weight="normal" font-style="normal" textLength="19.3" lengthAdjust="spacingAndGlyphs" >800</text>
<text x="192.8" y="265.3" font-size="11.5" font-family='"Liberation Sans", sans-serif' text-anchor="middle" fill="#000" font-weight="normal" font-style="normal" textLength="19.3" lengthAdjust="spacingAndGlyphs" >900</text>
<text x="107.0" y="276.0" font-size="11" font-family='"Liberation Sans", sans-serif' text-anchor="middle" fill="#000" font-weight="normal" font-style="normal" textLength="84.7" lengthAdjust="spacingAndGlyphs" >Wavelength (nm)</text>
<text x="8.3" y="186.0" font-size="11" font-family='"Liberation Sans", sans-serif' text-anchor="middle" fill="#000" font-weight="normal" font-style="normal" textLength="118.0" lengthAdjust="spacingAndGlyphs" transform="rotate(-90 8.3 186.0)" >Scattering intensity (%)</text>
<text x="0.3" y="126.0" font-size="19.59" font-family='"Liberation Sans", sans-serif' text-anchor="start" fill="#000" font-weight="normal" font-style="normal" textLength="11.4" lengthAdjust="spacingAndGlyphs" >d</text>
<line x1="28.60" y1="128.90" x2="41.50" y2="128.90" stroke="#1b9e77" stroke-width="1.6" />
<line x1="28.60" y1="145.00" x2="41.50" y2="145.00" stroke="#7570b3" stroke-width="1.6" />
<text x="47.2" y="131.8" font-size="11" font-family='"Liberation Sans", sans-serif' text-anchor="start" fill="#000" font-weight="normal" font-style="normal" textLength="50.5" lengthAdjust="spacingAndGlyphs" >Au NP/Au</text>
<text x="47.2" y="148.3" font-size="11" font-family='"Liberation Sans", sans-serif' text-anchor="start" fill="#000" font-weight="normal" font-style="normal" textLength="74.6" lengthAdjust="spacingAndGlyphs" >Au@Pd NP/Au</text>
<text x="125.9" y="131.6" font-size="12.5" font-family='"Liberation Serif", serif' text-anchor="start" fill="#000" font-weight="normal" font-style="normal" textLength="23.3" lengthAdjust="spacingAndGlyphs" >(<tspan font-weight="bold">10</tspan>)</text>
<text x="63.5" y="211.6" font-size="12.5" font-family='"Liberation Serif", serif' text-anchor="start" fill="#000" font-weight="normal" font-style="normal" textLength="23.4" lengthAdjust="spacingAndGlyphs" >(<tspan font-weight="bold">20</tspan>)</text>
<text x="34.5" y="188.4" font-size="12.5" font-family='"Liberation Serif", serif' text-anchor="start" fill="#000" font-weight="bold" font-style="italic" >T</text>
<rect x="504.5" y="134.6" width="157.8" height="119" fill="none" stroke="#000" stroke-width="1.3"/>
<line x1="504.50" y1="244.10" x2="507.50" y2="244.10" stroke="#000" stroke-width="1.0" />
<text x="499.5" y="247.3" font-size="9.3" font-family='"Liberation Sans", sans-serif' text-anchor="end" fill="#000" font-weight="normal" font-style="normal" textLength="13.4" lengthAdjust="spacingAndGlyphs" >0.4</text>
<line x1="504.50" y1="223.30" x2="507.50" y2="223.30" stroke="#000" stroke-width="1.0" />
<text x="499.5" y="226.5" font-size="9.3" font-family='"Liberation Sans", sans-serif' text-anchor="end" fill="#000" font-weight="normal" font-style="normal" textLength="13.4" lengthAdjust="spacingAndGlyphs" >0.5</text>
<line x1="504.50" y1="202.50" x2="507.50" y2="202.50" stroke="#000" stroke-width="1.0" />
<text x="499.5" y="205.7" font-size="9.3" font-family='"Liberation Sans", sans-serif' text-anchor="end" fill="#000" font-weight="normal" font-style="normal" textLength="13.4" lengthAdjust="spacingAndGlyphs" >0.6</text>
<line x1="504.50" y1="181.70" x2="507.50" y2="181.70" stroke="#000" stroke-width="1.0" />
<text x="499.5" y="184.9" font-size="9.3" font-family='"Liberation Sans", sans-serif' text-anchor="end" fill="#000" font-weight="normal" font-style="normal" textLength="13.4" lengthAdjust="spacingAndGlyphs" >0.7</text>
<line x1="504.50" y1="160.90" x2="507.50" y2="160.90" stroke="#000" stroke-width="1.0" />
<text x="499.5" y="164.1" font-size="9.3" font-family='"Liberation Sans", sans-serif' text-anchor="end" fill="#000" font-weight="normal" font-style="normal" textLength="13.4" lengthAdjust="spacingAndGlyphs" >0.8</text>
<line x1="504.50" y1="140.10" x2="507.50" y2="140.10" stroke="#000" stroke-width="1.0" />
<text x="499.5" y="143.3" font-size="9.3" font-family='"Liberation Sans", sans-serif' text-anchor="end" fill="#000" font-weight="normal" font-style="normal" textLength="13.4" lengthAdjust="spacingAndGlyphs" >0.9</text>
<line x1="510.80" y1="250.60" x2="510.80" y2="253.60" stroke="#000" stroke-width="1.0" />
<text x="510.8" y="264.2" font-size="9.3" font-family='"Liberation Sans", sans-serif' text-anchor="middle" fill="#000" font-weight="normal" font-style="normal" textLength="5.6" lengthAdjust="spacingAndGlyphs" >0</text>
<line x1="539.86" y1="250.60" x2="539.86" y2="253.60" stroke="#000" stroke-width="1.0" />
<text x="539.9" y="264.2" font-size="9.3" font-family='"Liberation Sans", sans-serif' text-anchor="middle" fill="#000" font-weight="normal" font-style="normal" textLength="5.6" lengthAdjust="spacingAndGlyphs" >2</text>
<line x1="568.92" y1="250.60" x2="568.92" y2="253.60" stroke="#000" stroke-width="1.0" />
<text x="568.9" y="264.2" font-size="9.3" font-family='"Liberation Sans", sans-serif' text-anchor="middle" fill="#000" font-weight="normal" font-style="normal" textLength="5.6" lengthAdjust="spacingAndGlyphs" >4</text>
<line x1="597.98" y1="250.60" x2="597.98" y2="253.60" stroke="#000" stroke-width="1.0" />
<text x="598.0" y="264.2" font-size="9.3" font-family='"Liberation Sans", sans-serif' text-anchor="middle" fill="#000" font-weight="normal" font-style="normal" textLength="5.6" lengthAdjust="spacingAndGlyphs" >6</text>
<line x1="627.04" y1="250.60" x2="627.04" y2="253.60" stroke="#000" stroke-width="1.0" />
<text x="627.0" y="264.2" font-size="9.3" font-family='"Liberation Sans", sans-serif' text-anchor="middle" fill="#000" font-weight="normal" font-style="normal" textLength="5.6" lengthAdjust="spacingAndGlyphs" >8</text>
<line x1="656.10" y1="250.60" x2="656.10" y2="253.60" stroke="#000" stroke-width="1.0" />
<text x="656.1" y="264.2" font-size="9.3" font-family='"Liberation Sans", sans-serif' text-anchor="middle" fill="#000" font-weight="normal" font-style="normal" textLength="11.2" lengthAdjust="spacingAndGlyphs" >10</text>
<line x1="662.30" y1="229.20" x2="665.30" y2="229.20" stroke="#000" stroke-width="1.0" />
<text x="666.5" y="232.5" font-size="9.8" font-family='"Liberation Sans", sans-serif' text-anchor="start" fill="#000" font-weight="normal" font-style="normal" >1</text>
<line x1="662.30" y1="204.30" x2="665.30" y2="204.30" stroke="#000" stroke-width="1.0" />
<text x="666.5" y="207.6" font-size="9.8" font-family='"Liberation Sans", sans-serif' text-anchor="start" fill="#000" font-weight="normal" font-style="normal" >2</text>
<line x1="662.30" y1="179.40" x2="665.30" y2="179.40" stroke="#000" stroke-width="1.0" />
<text x="666.5" y="182.7" font-size="9.8" font-family='"Liberation Sans", sans-serif' text-anchor="start" fill="#000" font-weight="normal" font-style="normal" >3</text>
<line x1="662.30" y1="154.50" x2="665.30" y2="154.50" stroke="#000" stroke-width="1.0" />
<text x="666.5" y="157.8" font-size="9.8" font-family='"Liberation Sans", sans-serif' text-anchor="start" fill="#000" font-weight="normal" font-style="normal" >4</text>
<text x="583.6" y="273.4" font-size="10" font-family='"Liberation Sans", sans-serif' text-anchor="middle" fill="#000" font-weight="normal" font-style="normal" textLength="65.0" lengthAdjust="spacingAndGlyphs" >Pd monolayers</text>
<text x="482.3" y="195.0" font-size="9.4" font-family='"Liberation Sans", sans-serif' text-anchor="middle" fill="#000" font-weight="normal" font-style="normal" textLength="121.0" lengthAdjust="spacingAndGlyphs" transform="rotate(-90 482.3 195.0)" >MOx reduction potential (V)</text>
<text x="676.0" y="194.0" font-size="11" font-family='"Liberation Sans", sans-serif' text-anchor="middle" fill="#000" font-weight="normal" font-style="normal" textLength="119.0" lengthAdjust="spacingAndGlyphs" transform="rotate(90 676.0 194.0)" >SERS intensity (x10<tspan dy="-3.5" font-size="7">3</tspan><tspan dy="3.5"> cts)</tspan></text>
<path d="M510.80,140.10 L514.90,202.50 L518.00,210.40 L521.80,210.40 L525.90,219.20 L540.30,229.20 L554.10,245.80 L569.20,248.00 L656.40,248.00" stroke="#000" stroke-width="0.9" fill="none" stroke-linejoin="round" stroke-linecap="round" />
<path d="M510.80,221.70 L514.60,152.30 L518.00,198.10 L521.80,207.50 L525.90,205.70 L540.30,211.30 L554.10,229.20 L569.20,235.80 L656.40,243.60" stroke="#000" stroke-width="0.9" fill="none" stroke-linejoin="round" stroke-linecap="round" />
<circle cx="510.8" cy="140.1" r="3.0" fill="#1f77b4" stroke="#2a3a50" stroke-width="0.4"/>
<circle cx="514.9" cy="202.5" r="3.0" fill="#1f77b4" stroke="#2a3a50" stroke-width="0.4"/>
<circle cx="518" cy="210.4" r="3.0" fill="#1f77b4" stroke="#2a3a50" stroke-width="0.4"/>
<circle cx="521.8" cy="210.4" r="3.0" fill="#1f77b4" stroke="#2a3a50" stroke-width="0.4"/>
<circle cx="525.9" cy="219.2" r="3.0" fill="#1f77b4" stroke="#2a3a50" stroke-width="0.4"/>
<circle cx="540.3" cy="229.2" r="3.0" fill="#1f77b4" stroke="#2a3a50" stroke-width="0.4"/>
<circle cx="554.1" cy="245.8" r="3.0" fill="#1f77b4" stroke="#2a3a50" stroke-width="0.4"/>
<circle cx="569.2" cy="248" r="3.0" fill="#1f77b4" stroke="#2a3a50" stroke-width="0.4"/>
<circle cx="656.4" cy="248" r="3.0" fill="#1f77b4" stroke="#2a3a50" stroke-width="0.4"/>
<circle cx="510.8" cy="221.7" r="3.0" fill="#d62728" stroke="#502a2a" stroke-width="0.4"/>
<circle cx="514.6" cy="152.3" r="3.0" fill="#d62728" stroke="#502a2a" stroke-width="0.4"/>
<circle cx="518" cy="198.1" r="3.0" fill="#d62728" stroke="#502a2a" stroke-width="0.4"/>
<circle cx="521.8" cy="207.5" r="3.0" fill="#d62728" stroke="#502a2a" stroke-width="0.4"/>
<circle cx="525.9" cy="205.7" r="3.0" fill="#d62728" stroke="#502a2a" stroke-width="0.4"/>
<circle cx="540.3" cy="211.3" r="3.0" fill="#d62728" stroke="#502a2a" stroke-width="0.4"/>
<circle cx="554.1" cy="229.2" r="3.0" fill="#d62728" stroke="#502a2a" stroke-width="0.4"/>
<circle cx="569.2" cy="235.8" r="3.0" fill="#d62728" stroke="#502a2a" stroke-width="0.4"/>
<circle cx="656.4" cy="243.6" r="3.0" fill="#d62728" stroke="#502a2a" stroke-width="0.4"/>
<line x1="546.30" y1="214.50" x2="566.00" y2="214.50" stroke="#d62728" stroke-width="1.6" />
<path d="M561.3,211.5 L567.8,214.5 L561.3,217.5" fill="none" stroke="#d62728" stroke-width="1.5"/>
<line x1="529.50" y1="239.60" x2="544.70" y2="239.60" stroke="#1f77b4" stroke-width="1.6" />
<path d="M532,236.6 L526.8,239.6 L532,242.6 Z" fill="#1f77b4"/>
<line x1="512.00" y1="173.70" x2="541.00" y2="173.70" stroke="#a8a8a8" stroke-width="1.3" stroke-dasharray="3 1.4"/>
<path d="M512.8,171.2 L508.6,173.7 L512.8,176.2 Z" fill="#a8a8a8"/>
<path d="M540.3,171.2 L544.5,173.7 L540.3,176.2 Z" fill="#a8a8a8"/>
<text x="529.8" y="171.2" font-size="16.5" font-family='"Liberation Serif", serif' text-anchor="middle" fill="#999" font-weight="normal" font-style="italic" >ℓ</text>
<text x="579.2" y="160.9" font-size="13.4" font-family='"Liberation Sans", sans-serif' text-anchor="start" fill="#000" font-weight="normal" font-style="normal" textLength="18.3" lengthAdjust="spacingAndGlyphs" >PIC</text>
<text x="647.7" y="150.7" font-size="16.79" font-family='"Liberation Sans", sans-serif' text-anchor="start" fill="#000" font-weight="normal" font-style="normal" textLength="10.2" lengthAdjust="spacingAndGlyphs" >e</text>
<path d="M619.20,140.30 L632.45,147.95 L632.45,163.25 L619.20,170.90 L605.95,163.25 L605.95,147.95 Z" stroke="#000" stroke-width="1.0" fill="none" stroke-linejoin="round" stroke-linecap="round" />
<line x1="620.29" y1="143.93" x2="628.77" y2="148.82" stroke="#000" stroke-width="1.0" />
<line x1="628.77" y1="162.38" x2="620.29" y2="167.27" stroke="#000" stroke-width="1.0" />
<line x1="608.55" y1="160.50" x2="608.55" y2="150.70" stroke="#000" stroke-width="1.0" />
<line x1="619.20" y1="170.90" x2="619.20" y2="181.00" stroke="#000" stroke-width="1.0" />
<text x="619.6" y="190.2" font-size="10.3" font-family='"Liberation Sans", sans-serif' text-anchor="middle" fill="#000" font-weight="normal" font-style="normal" textLength="6.2" lengthAdjust="spacingAndGlyphs" >N</text>
<text x="629.0" y="190.2" font-size="11" font-family='"Liberation Sans", sans-serif' text-anchor="middle" fill="#000" font-weight="bold" font-style="normal" >+</text>
<line x1="617.30" y1="191.80" x2="617.30" y2="199.30" stroke="#000" stroke-width="0.8" />
<line x1="619.40" y1="191.80" x2="619.40" y2="199.30" stroke="#000" stroke-width="0.8" />
<line x1="621.50" y1="191.80" x2="621.50" y2="199.30" stroke="#000" stroke-width="0.8" />
<text x="619.3" y="208.2" font-size="10.3" font-family='"Liberation Sans", sans-serif' text-anchor="middle" fill="#000" font-weight="normal" font-style="normal" textLength="5.8" lengthAdjust="spacingAndGlyphs" >C</text>
<line x1="627.60" y1="204.30" x2="630.30" y2="204.30" stroke="#000" stroke-width="1.2" />
<defs>
<linearGradient id="beamH" x1="0" y1="0" x2="0" y2="1">
<stop offset="0" stop-color="#f25a5a" stop-opacity="0"/><stop offset="0.18" stop-color="#f25a5a" stop-opacity="0.85"/><stop offset="0.5" stop-color="#f04545" stop-opacity="0.95"/><stop offset="0.82" stop-color="#f25a5a" stop-opacity="0.85"/><stop offset="1" stop-color="#f25a5a" stop-opacity="0"/></linearGradient>
<linearGradient id="beamV" x1="0" y1="0" x2="1" y2="0">
<stop offset="0" stop-color="#f25a5a" stop-opacity="0"/><stop offset="0.18" stop-color="#f25a5a" stop-opacity="0.85"/><stop offset="0.5" stop-color="#f04545" stop-opacity="0.95"/><stop offset="0.82" stop-color="#f25a5a" stop-opacity="0.85"/><stop offset="1" stop-color="#f25a5a" stop-opacity="0"/></linearGradient>
<linearGradient id="boxFront" x1="0" y1="0" x2="0" y2="1">
<stop offset="0" stop-color="#6a6a6a"/><stop offset="0.45" stop-color="#a0a0a0"/><stop offset="1" stop-color="#707070"/></linearGradient>
<linearGradient id="boxTop" x1="0" y1="0" x2="0" y2="1">
<stop offset="0" stop-color="#5a5a5a"/><stop offset="1" stop-color="#7c7c7c"/></linearGradient>
<radialGradient id="npDark" cx="0.5" cy="0.65" r="0.6">
<stop offset="0" stop-color="#8a7634"/><stop offset="0.5" stop-color="#6e6236"/><stop offset="0.82" stop-color="#585548"/><stop offset="1" stop-color="#4a4a4a"/></radialGradient>
<pattern id="npDots" width="2.6" height="2.6" patternUnits="userSpaceOnUse">
<circle cx="1.3" cy="1.3" r="0.9" fill="#a08a30" opacity="0.5"/></pattern>
<pattern id="auHex" x="126.2" y="466" width="4" height="6.6" patternUnits="userSpaceOnUse">
<rect width="4" height="6.6" fill="#c89000"/><circle cx="1" cy="1.65" r="1.15" fill="#ffd420"/><circle cx="3" cy="4.95" r="1.15" fill="#ffd420"/></pattern>
<radialGradient id="redGlow" cx="0.5" cy="0.5" r="0.5">
<stop offset="0" stop-color="#d82818" stop-opacity="0.92"/><stop offset="0.5" stop-color="#d03020" stop-opacity="0.6"/><stop offset="1" stop-color="#d04020" stop-opacity="0"/></radialGradient>
</defs>
<path d="M34.3,329.3 L52.2,307.8 L94,307.8 L98.5,306.2 L134.7,300.9 L144,300.9 L172.6,310.1 L172.6,325.9 L144,334.4 L134.7,334.4 L98.5,329.8 L94,326.8 L53,326.8 L53,375 L34.3,375 Z" fill="#ff5c5c" filter="url(#blur1)" opacity="0.95"/>
<rect x="39.6" y="374" width="8.2" height="89" fill="#ff5c5c" filter="url(#blur1)" opacity="0.88"/>
<g transform="rotate(-50.3 38.6 317.5)"><rect x="17.7" y="313.1" width="41.8" height="8.8" fill="#7e7e7e" stroke="#3a3a3a" stroke-width="0.6"/></g>
<g transform="rotate(-50.3 38.6 317.5)"><rect x="18.2" y="304" width="40.8" height="9" fill="none" stroke="#e4e4e4" stroke-width="0.5"/></g>
<ellipse cx="94" cy="318.65" rx="5.2" ry="17.75" fill="#b5dfe3" stroke="#000" stroke-width="1.1"/>
<ellipse cx="139.3" cy="318.65" rx="5.25" ry="17.75" fill="#b5dfe3" stroke="#000" stroke-width="1.1"/>
<line x1="125.50" y1="318.40" x2="110.00" y2="318.40" stroke="#000" stroke-width="1" />
<path d="M112.2,316.2 L107.7,318.4 L112.2,320.6 Z" fill="#000"/>
<line x1="43.20" y1="329.00" x2="43.20" y2="346.00" stroke="#000" stroke-width="1" />
<path d="M41,344 L43.2,347.6 L45.4,344" fill="none" stroke="#000" stroke-width="1"/>
<line x1="62.70" y1="361.40" x2="51.50" y2="361.40" stroke="#000" stroke-width="1" />
<path d="M53.5,359.2 L49.9,361.4 L53.5,363.6" fill="none" stroke="#000" stroke-width="1"/>
<rect x="64.9" y="358.8" width="26.3" height="5.8" fill="#000"/>
<text x="69.2" y="355.3" font-size="10" font-family='"Liberation Sans", sans-serif' text-anchor="start" fill="#000" font-weight="normal" font-style="normal" textLength="32.4" lengthAdjust="spacingAndGlyphs" >Shutter</text>
<rect x="27" y="374.3" width="14.5" height="4.7" fill="#7a7a7a"/>
<rect x="47.1" y="374.3" width="13.4" height="4.7" fill="#7a7a7a"/>
<ellipse cx="43.6" cy="404.2" rx="21.4" ry="4.4" fill="#b5dfe3" stroke="#000" stroke-width="1"/>
<text x="59.9" y="397.7" font-size="10" font-family='"Liberation Sans", sans-serif' text-anchor="start" fill="#000" font-weight="normal" font-style="normal" textLength="43.2" lengthAdjust="spacingAndGlyphs" >Band pass</text>
<text x="70.3" y="409.9" font-size="10" font-family='"Liberation Sans", sans-serif' text-anchor="start" fill="#000" font-weight="normal" font-style="normal" textLength="21.6" lengthAdjust="spacingAndGlyphs" >filter</text>
<rect x="1" y="438.9" width="86.4" height="26.5" fill="#c5daf0"/>
<rect x="17.3" y="433" width="53.8" height="5.9" fill="#5b9bd5"/>
<rect x="38.8" y="433" width="9.8" height="30" fill="#e05a6a" opacity="0.55" filter="url(#blur1)"/>
<rect x="1" y="465.2" width="86.6" height="10.8" fill="#5b9bd5" stroke="#999" stroke-width="0.4"/>
<rect x="24.6" y="460.2" width="38.3" height="5" fill="#d4b040" stroke="#777" stroke-width="0.5"/>
<ellipse cx="43.6" cy="451.1" rx="22.3" ry="3.9" fill="none" stroke="#000" stroke-width="1"/>
<line x1="65.80" y1="451.10" x2="101.20" y2="451.10" stroke="#000" stroke-width="1" />
<text x="89.4" y="447.4" font-size="10" font-family='"Liberation Sans", sans-serif' text-anchor="start" fill="#000" font-weight="normal" font-style="normal" textLength="10.8" lengthAdjust="spacingAndGlyphs" >CE</text>
<line x1="9.20" y1="430.10" x2="9.20" y2="443.00" stroke="#000" stroke-width="1" />
<rect x="7.5" y="443.3" width="4.3" height="12.3" fill="#777" stroke="#444" stroke-width="0.5"/>
<text x="4.9" y="427.5" font-size="10" font-family='"Liberation Sans", sans-serif' text-anchor="start" fill="#000" font-weight="normal" font-style="normal" textLength="9.8" lengthAdjust="spacingAndGlyphs" >RE</text>
<line x1="65.00" y1="462.30" x2="101.00" y2="462.30" stroke="#555" stroke-width="1.2" stroke-dasharray="2.6 1.8"/>
<path d="M99.5,459.8 L103.2,462.3 L99.5,464.8" fill="none" stroke="#000" stroke-width="1"/>
<line x1="44.20" y1="465.40" x2="44.20" y2="488.20" stroke="#000" stroke-width="1.2" />
<text x="49.0" y="487.3" font-size="10" font-family='"Liberation Sans", sans-serif' text-anchor="start" fill="#000" font-weight="normal" font-style="normal" textLength="14.1" lengthAdjust="spacingAndGlyphs" >WE</text>
<text x="3.6" y="306.2" font-size="16.44" font-family='"Liberation Sans", sans-serif' text-anchor="start" fill="#000" font-weight="normal" font-style="normal" textLength="6.1" lengthAdjust="spacingAndGlyphs" >f</text>
<polygon points="182.1,303.3 235.7,303.3 243.9,311.5 190.3,311.5" fill="url(#boxTop)" stroke="#444" stroke-width="0.5"/>
<polygon points="182.1,303.3 190.3,311.5 190.3,332.7 182.1,324.5" fill="#555" stroke="#444" stroke-width="0.5"/>
<rect x="190.3" y="311.5" width="55" height="21.2" fill="url(#boxFront)" stroke="#444" stroke-width="0.5"/>
<rect x="173.5" y="310.3" width="14.5" height="15.1" fill="#767676" stroke="#222" stroke-width="0.8"/>
<ellipse cx="173.5" cy="317.85" rx="1.6" ry="7.5" fill="#e46a6a" stroke="#222" stroke-width="0.8"/>
<text x="180.3" y="297.0" font-size="9.7" font-family='"Liberation Sans", sans-serif' text-anchor="start" fill="#000" font-weight="normal" font-style="normal" textLength="59.5" lengthAdjust="spacingAndGlyphs" >Xenon Source</text>
<rect x="115.3" y="345.3" width="122.1" height="140.6" rx="4.5" fill="none" stroke="#555" stroke-width="1" stroke-dasharray="4.5 2.8"/>
<rect x="170" y="347" width="22" height="46" rx="8" fill="#ff4a4a" opacity="0.6" filter="url(#blur4)"/>
<rect x="126.2" y="465.6" width="104.7" height="18.9" fill="url(#auHex)"/>
<rect x="126.2" y="462.8" width="104.7" height="2.9" fill="#3f7898"/>
<path d="M139.9,428.5 A39,39 0 0 1 217.9,428.5 C217.9,445 212,456 204.3,462.8 L155,462.8 C147,456 139.9,445 139.9,428.5 Z" fill="url(#npDark)"/>
<path d="M139.9,428.5 A39,39 0 0 1 217.9,428.5 C217.9,445 212,456 204.3,462.8 L155,462.8 C147,456 139.9,445 139.9,428.5 Z" fill="url(#npDots)"/>
<clipPath id="glowclip"><path d="M139.9,428.5 A39,39 0 0 1 217.9,428.5 C217.9,445 212,456 204.3,462.8 L155,462.8 C147,456 139.9,445 139.9,428.5 Z"/><rect x="126.2" y="462.8" width="104.7" height="21.7"/></clipPath>
<g clip-path="url(#glowclip)"><ellipse cx="179.5" cy="462" rx="30" ry="22" fill="url(#redGlow)"/></g>
<path d="M182.22,353.30 L183.40,353.84 L184.39,354.38 L185.11,354.92 L185.52,355.46 L185.58,356.00 L185.29,356.54 L184.66,357.08 L183.76,357.62 L182.63,358.16 L181.37,358.70 L180.07,359.24 L178.82,359.78 L177.72,360.32 L176.84,360.86 L176.26,361.40 L176.01,361.94 L176.11,362.48 L176.56,363.02 L177.32,363.56 L178.34,364.10 L179.54,364.64 L180.83,365.18 L182.12,365.72 L183.31,366.26 L184.32,366.80 L185.07,367.34 L185.50,367.88 L185.59,368.42 L185.32,368.96 L184.72,369.50 L183.83,370.04 L182.72,370.58 L181.47,371.12 L180.17,371.66 L178.91,372.20 L177.79,372.74 L176.90,373.28 L176.29,373.82 L176.01,374.36 L176.09,374.90 L176.52,375.44 L177.25,375.98 L178.26,376.52 L179.44,377.06 L180.73,377.60 L182.03,378.14 L183.23,378.68 L184.25,379.22 L185.02,379.76 L185.48,380.30 L185.59,380.84 L185.35,381.38 L184.78,381.92 L183.91,382.46 L182.81,383.00 L181.57,383.54 L180.27,384.08 L179.00,384.62 L177.87,385.16 L176.96,385.70" stroke="#e00000" stroke-width="1.2" fill="none" stroke-linejoin="round" stroke-linecap="round" />
<path d="M178.6,383.5 L180.8,387 L183,383.5" fill="none" stroke="#e00000" stroke-width="1.1"/>
<path d="M132.10,400.40 L132.10,460.30 L151.00,460.30" stroke="#000" stroke-width="1.1" fill="none" stroke-linejoin="round" stroke-linecap="round" />
<path d="M149,457.8 L153,460.3 L149,462.8" fill="#000" stroke="#000" stroke-width="0.8"/>
<path d="M207.30,460.30 L225.00,460.30 L225.00,404.00" stroke="#000" stroke-width="1.1" fill="none" stroke-linejoin="round" stroke-linecap="round" />
<path d="M222.5,405.5 L225,401.5 L227.5,405.5" fill="#000" stroke="#000" stroke-width="0.8"/>
<text x="118.8" y="375.4" font-size="10.5" font-family='"Liberation Sans", sans-serif' text-anchor="start" fill="#000" font-weight="normal" font-style="normal" textLength="37.8" lengthAdjust="spacingAndGlyphs" >C<tspan dy="2.5" font-size="8">2</tspan><tspan dy="-2.5">H</tspan><tspan dy="2.5" font-size="8">5</tspan><tspan dy="-2.5">OH</tspan></text>
<text x="128.3" y="391.6" font-size="10.5" font-family='"Liberation Sans", sans-serif' text-anchor="start" fill="#000" font-weight="normal" font-style="normal" textLength="11.2" lengthAdjust="spacingAndGlyphs" >O<tspan dy="2.5" font-size="8">2</tspan></text>
<text x="213.2" y="377.6" font-size="10.5" font-family='"Liberation Sans", sans-serif' text-anchor="start" fill="#000" font-weight="normal" font-style="normal" textLength="18.3" lengthAdjust="spacingAndGlyphs" >H<tspan dy="2.5" font-size="8">2</tspan><tspan dy="-2.5">O</tspan></text>
<text x="212.6" y="393.3" font-size="10.5" font-family='"Liberation Sans", sans-serif' text-anchor="start" fill="#000" font-weight="normal" font-style="normal" textLength="19.7" lengthAdjust="spacingAndGlyphs" >CO<tspan dy="2.5" font-size="8">2</tspan></text>
<text x="161.6" y="460.9" font-size="11" font-family='"Liberation Serif", serif' text-anchor="start" fill="#f0f0f0" font-weight="normal" font-style="italic" >h<tspan dy="-4" font-size="7">+</tspan></text>
<text x="188.1" y="460.9" font-size="11" font-family='"Liberation Serif", serif' text-anchor="start" fill="#f0f0f0" font-weight="normal" font-style="italic" >e<tspan dy="-4" font-size="7">−</tspan></text>
<rect x="291.3" y="289.2" width="181" height="189.3" fill="none" stroke="#000" stroke-width="1.3"/>
<line x1="291.30" y1="471.10" x2="294.30" y2="471.10" stroke="#000" stroke-width="1.0" />
<text x="286.4" y="474.8" font-size="10.5" font-family='"Liberation Sans", sans-serif' text-anchor="end" fill="#000" font-weight="normal" font-style="normal" textLength="16.1" lengthAdjust="spacingAndGlyphs" >0.0</text>
<line x1="291.30" y1="443.35" x2="294.30" y2="443.35" stroke="#000" stroke-width="1.0" />
<text x="286.4" y="447.1" font-size="10.5" font-family='"Liberation Sans", sans-serif' text-anchor="end" fill="#000" font-weight="normal" font-style="normal" textLength="16.1" lengthAdjust="spacingAndGlyphs" >0.5</text>
<line x1="291.30" y1="415.60" x2="294.30" y2="415.60" stroke="#000" stroke-width="1.0" />
<text x="286.4" y="419.3" font-size="10.5" font-family='"Liberation Sans", sans-serif' text-anchor="end" fill="#000" font-weight="normal" font-style="normal" textLength="16.1" lengthAdjust="spacingAndGlyphs" >1.0</text>
<line x1="291.30" y1="387.85" x2="294.30" y2="387.85" stroke="#000" stroke-width="1.0" />
<text x="286.4" y="391.6" font-size="10.5" font-family='"Liberation Sans", sans-serif' text-anchor="end" fill="#000" font-weight="normal" font-style="normal" textLength="16.1" lengthAdjust="spacingAndGlyphs" >1.5</text>
<line x1="291.30" y1="360.10" x2="294.30" y2="360.10" stroke="#000" stroke-width="1.0" />
<text x="286.4" y="363.8" font-size="10.5" font-family='"Liberation Sans", sans-serif' text-anchor="end" fill="#000" font-weight="normal" font-style="normal" textLength="16.1" lengthAdjust="spacingAndGlyphs" >2.0</text>
<line x1="291.30" y1="332.35" x2="294.30" y2="332.35" stroke="#000" stroke-width="1.0" />
<text x="286.4" y="336.1" font-size="10.5" font-family='"Liberation Sans", sans-serif' text-anchor="end" fill="#000" font-weight="normal" font-style="normal" textLength="16.1" lengthAdjust="spacingAndGlyphs" >2.5</text>
<line x1="291.30" y1="304.60" x2="294.30" y2="304.60" stroke="#000" stroke-width="1.0" />
<text x="286.4" y="308.3" font-size="10.5" font-family='"Liberation Sans", sans-serif' text-anchor="end" fill="#000" font-weight="normal" font-style="normal" textLength="16.1" lengthAdjust="spacingAndGlyphs" >3.0</text>
<line x1="299.66" y1="475.50" x2="299.66" y2="478.50" stroke="#000" stroke-width="1.0" />
<text x="300.2" y="493.0" font-size="10.5" font-family='"Liberation Sans", sans-serif' text-anchor="middle" fill="#000" font-weight="normal" font-style="normal" textLength="24.0" lengthAdjust="spacingAndGlyphs" >−0.8</text>
<line x1="350.38" y1="475.50" x2="350.38" y2="478.50" stroke="#000" stroke-width="1.0" />
<text x="350.9" y="493.0" font-size="10.5" font-family='"Liberation Sans", sans-serif' text-anchor="middle" fill="#000" font-weight="normal" font-style="normal" textLength="24.0" lengthAdjust="spacingAndGlyphs" >−0.4</text>
<line x1="401.10" y1="475.50" x2="401.10" y2="478.50" stroke="#000" stroke-width="1.0" />
<text x="401.1" y="493.0" font-size="10.5" font-family='"Liberation Sans", sans-serif' text-anchor="middle" fill="#000" font-weight="normal" font-style="normal" textLength="16.5" lengthAdjust="spacingAndGlyphs" >0.0</text>
<line x1="451.82" y1="475.50" x2="451.82" y2="478.50" stroke="#000" stroke-width="1.0" />
<text x="451.8" y="493.0" font-size="10.5" font-family='"Liberation Sans", sans-serif' text-anchor="middle" fill="#000" font-weight="normal" font-style="normal" textLength="16.5" lengthAdjust="spacingAndGlyphs" >0.4</text>
<text x="381.7" y="505.3" font-size="11" font-family='"Liberation Sans", sans-serif' text-anchor="middle" fill="#000" font-weight="normal" font-style="normal" textLength="63.6" lengthAdjust="spacingAndGlyphs" >E (V) vs SCE</text>
<text x="264.6" y="385.5" font-size="10.6" font-family='"Liberation Sans", sans-serif' text-anchor="middle" fill="#000" font-weight="normal" font-style="normal" textLength="67.6" lengthAdjust="spacingAndGlyphs" transform="rotate(-90 264.6 385.5)" >Current (mA)</text>
<text x="297.7" y="305.7" font-size="18.52" font-family='"Liberation Sans", sans-serif' text-anchor="start" fill="#000" font-weight="normal" font-style="normal" textLength="11.6" lengthAdjust="spacingAndGlyphs" >g</text>
<line x1="368.50" y1="299.50" x2="390.40" y2="299.50" stroke="#7570b3" stroke-width="1.6" />
<text x="394.2" y="303.2" font-size="11" font-family='"Liberation Sans", sans-serif' text-anchor="start" fill="#000" font-weight="normal" font-style="normal" textLength="75.2" lengthAdjust="spacingAndGlyphs" >Au@Pd NP/Au</text>
<line x1="368.50" y1="316.80" x2="390.40" y2="316.80" stroke="#1b9e77" stroke-width="1.6" />
<text x="394.2" y="320.5" font-size="11" font-family='"Liberation Sans", sans-serif' text-anchor="start" fill="#000" font-weight="normal" font-style="normal" textLength="49.8" lengthAdjust="spacingAndGlyphs" >Au NP/Au</text>
<line x1="368.50" y1="335.60" x2="390.40" y2="335.60" stroke="#7f7f7f" stroke-width="1.6" />
<text x="394.2" y="339.3" font-size="11" font-family='"Liberation Sans", sans-serif' text-anchor="start" fill="#000" font-weight="normal" font-style="normal" textLength="37.9" lengthAdjust="spacingAndGlyphs" >Control</text>
<line x1="298.40" y1="470.80" x2="452.00" y2="470.80" stroke="#7f7f7f" stroke-width="2.0" />
<line x1="300.00" y1="469.90" x2="452.00" y2="469.90" stroke="#7570b3" stroke-width="1.0" />
<path d="M300.00,470.50 C301.67,470.42 307.05,470.22 310.00,470.00 C312.95,469.78 315.37,469.48 317.70,469.20 C320.03,468.92 322.03,468.70 324.00,468.30 C325.97,467.90 327.75,467.43 329.50,466.80 C331.25,466.17 333.03,465.38 334.50,464.50 C335.97,463.62 337.13,462.67 338.30,461.50 C339.47,460.33 340.52,459.12 341.50,457.50 C342.48,455.88 343.35,453.97 344.20,451.80 C345.05,449.63 345.87,447.00 346.60,444.50 C347.33,442.00 347.90,440.53 348.60,436.80 C349.30,433.07 350.18,427.00 350.80,422.10 C351.42,417.20 351.73,411.92 352.30,407.40 C352.87,402.88 353.63,399.37 354.20,395.00 C354.77,390.63 355.23,385.70 355.70,381.20 C356.17,376.70 356.58,372.87 357.00,368.00 C357.42,363.13 357.83,357.50 358.20,352.00 C358.57,346.50 358.88,341.17 359.20,335.00 C359.52,328.83 359.82,321.23 360.10,315.00 C360.38,308.77 360.77,300.50 360.90,297.60" stroke="#7570b3" stroke-width="1.7" fill="none" stroke-linejoin="round" stroke-linecap="round" />
<path d="M360.90,297.60 C360.95,301.33 361.10,312.10 361.20,320.00 C361.30,327.90 361.38,337.08 361.50,345.00 C361.62,352.92 361.73,358.33 361.90,367.50 C362.07,376.67 362.25,389.58 362.50,400.00 C362.75,410.42 363.10,421.67 363.40,430.00 C363.70,438.33 363.98,444.83 364.30,450.00 C364.62,455.17 364.92,458.27 365.30,461.00 C365.68,463.73 365.98,465.05 366.60,466.40 C367.22,467.75 367.93,468.50 369.00,469.10 C370.07,469.70 371.17,469.82 373.00,470.00 C374.83,470.18 378.83,470.17 380.00,470.20" stroke="#7570b3" stroke-width="1.7" fill="none" stroke-linejoin="round" stroke-linecap="round" />
<path d="M305.00,470.50 C306.67,470.42 312.15,470.22 315.00,470.00 C317.85,469.78 319.93,469.48 322.10,469.20 C324.27,468.92 326.03,468.72 328.00,468.30 C329.97,467.88 332.15,467.32 333.90,466.70 C335.65,466.08 337.03,465.43 338.50,464.60 C339.97,463.77 341.45,462.83 342.70,461.70 C343.95,460.57 345.02,459.25 346.00,457.80 C346.98,456.35 347.77,454.72 348.60,453.00 C349.43,451.28 350.27,449.45 351.00,447.50 C351.73,445.55 352.28,443.30 353.00,441.30 C353.72,439.30 354.55,437.47 355.30,435.50 C356.05,433.53 356.75,431.83 357.50,429.50 C358.25,427.17 359.07,424.20 359.80,421.50 C360.53,418.80 361.18,416.15 361.90,413.30 C362.62,410.45 363.53,408.37 364.10,404.40 C364.67,400.43 364.73,394.07 365.30,389.50 C365.87,384.93 366.80,381.13 367.50,377.00 C368.20,372.87 368.92,368.20 369.50,364.70 C370.08,361.20 370.55,358.05 371.00,356.00 C371.45,353.95 371.82,352.40 372.20,352.40 C372.58,352.40 372.98,353.48 373.30,356.00 C373.62,358.52 373.78,362.17 374.10,367.50 C374.42,372.83 374.83,381.13 375.20,388.00 C375.57,394.87 375.90,402.53 376.30,408.70 C376.70,414.87 377.13,420.42 377.60,425.00 C378.07,429.58 378.45,432.53 379.10,436.20 C379.75,439.87 380.58,443.80 381.50,447.00 C382.42,450.20 383.35,453.07 384.60,455.40 C385.85,457.73 387.40,459.40 389.00,461.00 C390.60,462.60 392.37,463.90 394.20,465.00 C396.03,466.10 397.72,466.92 400.00,467.60 C402.28,468.28 404.57,468.73 407.90,469.10 C411.23,469.47 417.98,469.68 420.00,469.80" stroke="#7570b3" stroke-width="1.7" fill="none" stroke-linejoin="round" stroke-linecap="round" />
<path d="M364.00,470.60 C366.67,470.52 375.02,470.45 380.00,470.10 C384.98,469.75 389.97,469.23 393.90,468.50 C397.83,467.77 401.25,466.62 403.60,465.70 C405.95,464.78 406.62,464.27 408.00,463.00 C409.38,461.73 410.82,459.60 411.90,458.10 C412.98,456.60 413.58,455.27 414.50,454.00 C415.42,452.73 416.57,451.50 417.40,450.50 C418.23,449.50 418.80,448.55 419.50,448.00 C420.20,447.45 420.88,447.27 421.60,447.20 C422.32,447.13 422.87,447.00 423.80,447.60 C424.73,448.20 426.17,449.57 427.20,450.80 C428.23,452.03 429.08,453.43 430.00,455.00 C430.92,456.57 431.78,458.62 432.70,460.20 C433.62,461.78 434.57,463.27 435.50,464.50 C436.43,465.73 437.22,466.85 438.30,467.60 C439.38,468.35 440.85,468.67 442.00,469.00 C443.15,469.33 443.03,469.43 445.20,469.60 C447.37,469.77 451.77,469.90 455.00,470.00 C458.23,470.10 463.00,470.17 464.60,470.20" stroke="#1b9e77" stroke-width="1.8" fill="none" stroke-linejoin="round" stroke-linecap="round" />
<path d="M404.30,465.20 C404.67,465.33 405.70,465.60 406.50,466.00 C407.30,466.40 408.35,467.10 409.10,467.60 C409.85,468.10 410.42,468.60 411.00,469.00 C411.58,469.40 412.33,469.83 412.60,470.00" stroke="#1b9e77" stroke-width="1.8" fill="none" stroke-linejoin="round" stroke-linecap="round" />
<path d="M351.65,400.01 L353.80,403.50 L356.73,400.64" fill="none" stroke="#7570b3" stroke-width="1.4" stroke-linejoin="miter"/>
<path d="M364.46,375.20 L361.90,372.00 L359.34,375.20" fill="none" stroke="#7570b3" stroke-width="1.4" stroke-linejoin="miter"/>
<path d="M366.06,439.70 L363.50,436.50 L360.94,439.70" fill="none" stroke="#7570b3" stroke-width="1.4" stroke-linejoin="miter"/>
<path d="M353.57,442.43 L352.40,438.50 L348.83,440.51" fill="none" stroke="#7570b3" stroke-width="1.4" stroke-linejoin="miter"/>
<path d="M374.34,412.80 L376.90,416.00 L379.46,412.80" fill="none" stroke="#7570b3" stroke-width="1.4" stroke-linejoin="miter"/>
<path d="M412.91,459.34 L413.00,455.50 L409.23,456.26" fill="none" stroke="#1b9e77" stroke-width="1.6" stroke-linejoin="miter"/>
<path d="M431.22,461.60 L434.80,463.00 L435.38,459.20" fill="none" stroke="#1b9e77" stroke-width="1.6" stroke-linejoin="miter"/>
<text x="294.6" y="457.6" font-size="14" font-family='"Liberation Serif", serif' text-anchor="start" fill="#000" font-weight="normal" font-style="italic" textLength="13.4" lengthAdjust="spacingAndGlyphs" >E<tspan dy="2.6" font-size="10" font-style="normal">0</tspan></text>
<line x1="298.30" y1="464.80" x2="314.00" y2="464.80" stroke="#000" stroke-width="1.4" />
<path d="M310.8,462 L315.9,464.8 L310.8,467.6" fill="none" stroke="#000" stroke-width="1.3"/>
<rect x="477.7" y="289" width="185.3" height="191.1" fill="none" stroke="#000" stroke-width="1.3"/>
<line x1="663.00" y1="480.10" x2="666.00" y2="480.10" stroke="#000" stroke-width="1.0" />
<text x="667.3" y="483.9" font-size="10.5" font-family='"Liberation Sans", sans-serif' text-anchor="start" fill="#000" font-weight="normal" font-style="normal" >0</text>
<line x1="663.00" y1="451.27" x2="666.00" y2="451.27" stroke="#000" stroke-width="1.0" />
<text x="667.3" y="455.1" font-size="10.5" font-family='"Liberation Sans", sans-serif' text-anchor="start" fill="#000" font-weight="normal" font-style="normal" >1</text>
<line x1="663.00" y1="422.44" x2="666.00" y2="422.44" stroke="#000" stroke-width="1.0" />
<text x="667.3" y="426.2" font-size="10.5" font-family='"Liberation Sans", sans-serif' text-anchor="start" fill="#000" font-weight="normal" font-style="normal" >2</text>
<line x1="663.00" y1="393.61" x2="666.00" y2="393.61" stroke="#000" stroke-width="1.0" />
<text x="667.3" y="397.4" font-size="10.5" font-family='"Liberation Sans", sans-serif' text-anchor="start" fill="#000" font-weight="normal" font-style="normal" >3</text>
<line x1="663.00" y1="364.78" x2="666.00" y2="364.78" stroke="#000" stroke-width="1.0" />
<text x="667.3" y="368.6" font-size="10.5" font-family='"Liberation Sans", sans-serif' text-anchor="start" fill="#000" font-weight="normal" font-style="normal" >4</text>
<line x1="663.00" y1="335.95" x2="666.00" y2="335.95" stroke="#000" stroke-width="1.0" />
<text x="667.3" y="339.8" font-size="10.5" font-family='"Liberation Sans", sans-serif' text-anchor="start" fill="#000" font-weight="normal" font-style="normal" >5</text>
<line x1="663.00" y1="307.12" x2="666.00" y2="307.12" stroke="#000" stroke-width="1.0" />
<text x="667.3" y="310.9" font-size="10.5" font-family='"Liberation Sans", sans-serif' text-anchor="start" fill="#000" font-weight="normal" font-style="normal" >6</text>
<rect x="485.7" y="473.2" width="22.0" height="6.9" fill="#7f7f7f" stroke="#000" stroke-width="0.9"/>
<rect x="507.7" y="454.3" width="21.9" height="25.8" fill="#d62728" stroke="#000" stroke-width="0.9"/>
<rect x="548.5" y="474.1" width="21.9" height="6.0" fill="#7f7f7f" stroke="#000" stroke-width="0.9"/>
<rect x="570.4" y="433.9" width="22.0" height="46.2" fill="#d62728" stroke="#000" stroke-width="0.9"/>
<rect x="611.2" y="474.7" width="21.4" height="5.4" fill="#7f7f7f" stroke="#000" stroke-width="0.9"/>
<rect x="632.6" y="312.4" width="22.0" height="167.7" fill="#d62728" stroke="#000" stroke-width="0.9"/>
<text x="481.0" y="469.1" font-size="11" font-family='"Liberation Sans", sans-serif' text-anchor="start" fill="#000" font-weight="normal" font-style="normal" textLength="25.1" lengthAdjust="spacingAndGlyphs" >x500</text>
<text x="507.0" y="449.2" font-size="11" font-family='"Liberation Sans", sans-serif' text-anchor="start" fill="#000" font-weight="normal" font-style="normal" textLength="25.1" lengthAdjust="spacingAndGlyphs" >x500</text>
<text x="553.2" y="469.1" font-size="11" font-family='"Liberation Sans", sans-serif' text-anchor="start" fill="#000" font-weight="normal" font-style="normal" textLength="11.6" lengthAdjust="spacingAndGlyphs" >x5</text>
<text x="576.1" y="429.3" font-size="11" font-family='"Liberation Sans", sans-serif' text-anchor="start" fill="#000" font-weight="normal" font-style="normal" textLength="12.5" lengthAdjust="spacingAndGlyphs" >x5</text>
<text x="507.7" y="492.2" font-size="10.5" font-family='"Liberation Sans", sans-serif' text-anchor="middle" fill="#000" font-weight="normal" font-style="normal" textLength="34.5" lengthAdjust="spacingAndGlyphs" >Control</text>
<text x="572.0" y="492.2" font-size="10.5" font-family='"Liberation Sans", sans-serif' text-anchor="middle" fill="#000" font-weight="normal" font-style="normal" textLength="30.0" lengthAdjust="spacingAndGlyphs" >Au/Au</text>
<text x="634.8" y="492.2" font-size="10.5" font-family='"Liberation Sans", sans-serif' text-anchor="middle" fill="#000" font-weight="normal" font-style="normal" textLength="55.0" lengthAdjust="spacingAndGlyphs" >Au@Pd/Au</text>
<text x="493.5" y="505.0" font-size="11" font-family='"Liberation Sans", sans-serif' text-anchor="start" fill="#000" font-weight="normal" font-style="normal" textLength="158.5" lengthAdjust="spacingAndGlyphs" >NPoM geometry (M<tspan dy="2.5" font-size="7.5">NP</tspan><tspan dy="-2.5">/M</tspan><tspan dy="2.5" font-size="7.5">substrate</tspan><tspan dy="-2.5">)</tspan></text>
<text x="483.2" y="306.0" font-size="16.41" font-family='"Liberation Sans", sans-serif' text-anchor="start" fill="#000" font-weight="normal" font-style="normal" textLength="12.0" lengthAdjust="spacingAndGlyphs" >h</text>
<line x1="555.30" y1="299.70" x2="576.50" y2="299.70" stroke="#7f7f7f" stroke-width="1.6" />
<text x="582.6" y="304.4" font-size="11" font-family='"Liberation Sans", sans-serif' text-anchor="start" fill="#000" font-weight="normal" font-style="normal" textLength="43.0" lengthAdjust="spacingAndGlyphs" >Light off</text>
<line x1="555.30" y1="317.00" x2="576.50" y2="317.00" stroke="#d62728" stroke-width="1.6" />
<text x="582.6" y="321.7" font-size="11" font-family='"Liberation Sans", sans-serif' text-anchor="start" fill="#000" font-weight="normal" font-style="normal" textLength="42.6" lengthAdjust="spacingAndGlyphs" >Light on</text>
<text x="676.5" y="379.5" font-size="10.8" font-family='"Liberation Sans", sans-serif' text-anchor="middle" fill="#000" font-weight="normal" font-style="normal" textLength="115.0" lengthAdjust="spacingAndGlyphs" transform="rotate(90 676.5 379.5)" >Catalytic current (mA)</text>
</svg></body></html>
